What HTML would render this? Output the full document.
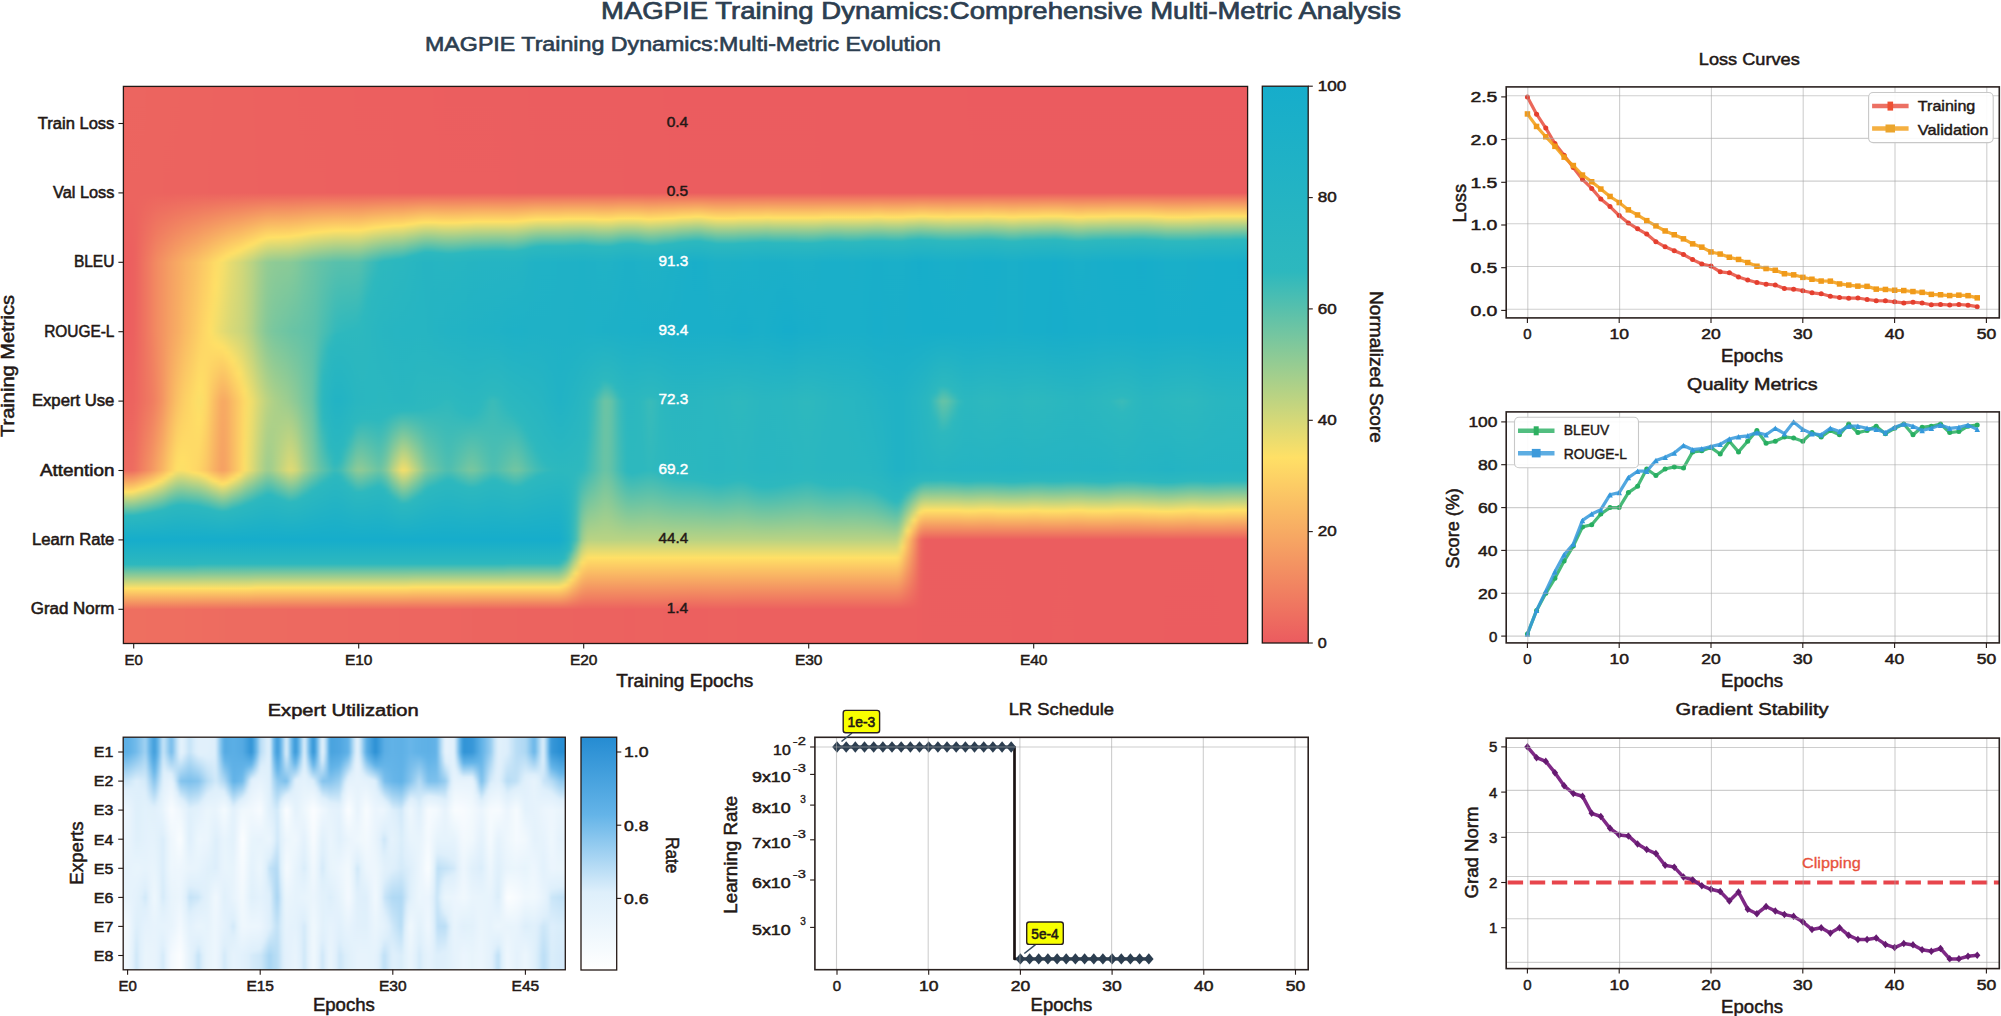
<!DOCTYPE html><html><head><meta charset="utf-8"><title>MAGPIE Training Dynamics</title><style>html,body{margin:0;padding:0;background:#fff}svg{display:block}</style></head><body><svg width="2001" height="1016" viewBox="0 0 2001 1016" font-family='"Liberation Sans", sans-serif'><defs><clipPath id="clipm"><rect x="123.4" y="86.4" width="1124.1999999999998" height="557.1"/></clipPath><filter id="blurm" x="-2%" y="-2%" width="104%" height="104%" color-interpolation-filters="sRGB"><feGaussianBlur stdDeviation="2.53 0"/></filter><linearGradient id="m1" x1="0" y1="0" x2="0" y2="1"><stop offset="0" stop-color="#ec6560"/><stop offset=".191" stop-color="#ec645f"/><stop offset=".316" stop-color="#ec5f5f"/><stop offset=".440" stop-color="#ec5f5f"/><stop offset=".565" stop-color="#ec635f"/><stop offset=".689" stop-color="#ed6b60"/><stop offset=".728" stop-color="#ffe066"/><stop offset=".771" stop-color="#2db8be"/><stop offset=".814" stop-color="#16adcb"/><stop offset=".858" stop-color="#2db8be"/><stop offset=".901" stop-color="#ffe066"/><stop offset=".939" stop-color="#ee6f60"/><stop offset="1" stop-color="#ee6f60"/></linearGradient><linearGradient id="m2" x1="0" y1="0" x2="0" y2="1"><stop offset="0" stop-color="#ec6560"/><stop offset=".191" stop-color="#ec645f"/><stop offset=".316" stop-color="#ec5f5f"/><stop offset=".440" stop-color="#ec5f5f"/><stop offset=".565" stop-color="#ec635f"/><stop offset=".689" stop-color="#ed6b60"/><stop offset=".728" stop-color="#ffe066"/><stop offset=".771" stop-color="#2db8be"/><stop offset=".814" stop-color="#16adcb"/><stop offset=".858" stop-color="#2db8be"/><stop offset=".901" stop-color="#ffe066"/><stop offset=".939" stop-color="#ee6f60"/><stop offset="1" stop-color="#ee6f60"/></linearGradient><linearGradient id="m3" x1="0" y1="0" x2="0" y2="1"><stop offset="0" stop-color="#ec6560"/><stop offset=".191" stop-color="#ec645f"/><stop offset=".316" stop-color="#ec5f5f"/><stop offset=".440" stop-color="#ec5f5f"/><stop offset=".565" stop-color="#ec635f"/><stop offset=".689" stop-color="#ed6b60"/><stop offset=".728" stop-color="#ffe066"/><stop offset=".771" stop-color="#2db8be"/><stop offset=".814" stop-color="#16adcb"/><stop offset=".858" stop-color="#2db8be"/><stop offset=".901" stop-color="#ffe066"/><stop offset=".939" stop-color="#ee6f60"/><stop offset="1" stop-color="#ee6f60"/></linearGradient><linearGradient id="m4" x1="0" y1="0" x2="0" y2="1"><stop offset="0" stop-color="#ec6560"/><stop offset=".191" stop-color="#ec645f"/><stop offset=".316" stop-color="#ec5f5f"/><stop offset=".440" stop-color="#ec5f5f"/><stop offset=".565" stop-color="#ec635f"/><stop offset=".689" stop-color="#ed6b60"/><stop offset=".728" stop-color="#ffe066"/><stop offset=".771" stop-color="#2db8be"/><stop offset=".814" stop-color="#16adcb"/><stop offset=".858" stop-color="#2db8be"/><stop offset=".901" stop-color="#ffe066"/><stop offset=".939" stop-color="#ee6f60"/><stop offset="1" stop-color="#ee6f60"/></linearGradient><linearGradient id="m5" x1="0" y1="0" x2="0" y2="1"><stop offset="0" stop-color="#ec6560"/><stop offset=".191" stop-color="#ec645f"/><stop offset=".565" stop-color="#ed6860"/><stop offset=".689" stop-color="#ef7460"/><stop offset=".725" stop-color="#ffe066"/><stop offset=".770" stop-color="#2db8be"/><stop offset=".814" stop-color="#16adcb"/><stop offset=".858" stop-color="#2db8be"/><stop offset=".901" stop-color="#ffe066"/><stop offset=".939" stop-color="#ee6f60"/><stop offset="1" stop-color="#ee6f60"/></linearGradient><linearGradient id="m6" x1="0" y1="0" x2="0" y2="1"><stop offset="0" stop-color="#ec6560"/><stop offset=".191" stop-color="#ec645f"/><stop offset=".316" stop-color="#ee7160"/><stop offset=".565" stop-color="#ee7060"/><stop offset=".689" stop-color="#f18261"/><stop offset=".722" stop-color="#ffe066"/><stop offset=".768" stop-color="#2db8be"/><stop offset=".814" stop-color="#16adcb"/><stop offset=".858" stop-color="#2db8be"/><stop offset=".901" stop-color="#ffe066"/><stop offset=".939" stop-color="#ee6f60"/><stop offset="1" stop-color="#ee6f60"/></linearGradient><linearGradient id="m7" x1="0" y1="0" x2="0" y2="1"><stop offset="0" stop-color="#ec645f"/><stop offset=".191" stop-color="#ec645f"/><stop offset=".316" stop-color="#f07c61"/><stop offset=".440" stop-color="#f07c61"/><stop offset=".565" stop-color="#ef7861"/><stop offset=".689" stop-color="#f39062"/><stop offset=".718" stop-color="#ffe066"/><stop offset=".766" stop-color="#2db8be"/><stop offset=".814" stop-color="#16adcb"/><stop offset=".858" stop-color="#2db8be"/><stop offset=".901" stop-color="#ffe066"/><stop offset=".939" stop-color="#ee6e60"/><stop offset="1" stop-color="#ee6e60"/></linearGradient><linearGradient id="m8" x1="0" y1="0" x2="0" y2="1"><stop offset="0" stop-color="#ec645f"/><stop offset=".191" stop-color="#ec645f"/><stop offset=".316" stop-color="#f28761"/><stop offset=".440" stop-color="#f28761"/><stop offset=".565" stop-color="#f18061"/><stop offset=".689" stop-color="#f59e63"/><stop offset=".714" stop-color="#ffe066"/><stop offset=".764" stop-color="#2db8be"/><stop offset=".814" stop-color="#16adcb"/><stop offset=".858" stop-color="#2db8be"/><stop offset=".901" stop-color="#ffe066"/><stop offset=".939" stop-color="#ee6e60"/><stop offset="1" stop-color="#ee6e60"/></linearGradient><linearGradient id="m9" x1="0" y1="0" x2="0" y2="1"><stop offset="0" stop-color="#ec645f"/><stop offset=".191" stop-color="#ec645f"/><stop offset=".316" stop-color="#f39062"/><stop offset=".440" stop-color="#f39162"/><stop offset=".565" stop-color="#f38e62"/><stop offset=".689" stop-color="#f8ae63"/><stop offset=".709" stop-color="#ffe066"/><stop offset=".762" stop-color="#2db8be"/><stop offset=".814" stop-color="#16adcb"/><stop offset=".858" stop-color="#2db8be"/><stop offset=".901" stop-color="#ffe066"/><stop offset=".939" stop-color="#ee6e60"/><stop offset="1" stop-color="#ee6e60"/></linearGradient><linearGradient id="m10" x1="0" y1="0" x2="0" y2="1"><stop offset="0" stop-color="#ec645f"/><stop offset=".191" stop-color="#ec635f"/><stop offset=".316" stop-color="#f49862"/><stop offset=".440" stop-color="#f49a62"/><stop offset=".565" stop-color="#f59f63"/><stop offset=".689" stop-color="#fabf64"/><stop offset=".703" stop-color="#ffe066"/><stop offset=".759" stop-color="#2db8be"/><stop offset=".814" stop-color="#16adcb"/><stop offset=".858" stop-color="#2db8be"/><stop offset=".901" stop-color="#ffe066"/><stop offset=".939" stop-color="#ee6e60"/><stop offset="1" stop-color="#ee6e60"/></linearGradient><linearGradient id="m11" x1="0" y1="0" x2="0" y2="1"><stop offset="0" stop-color="#ec645f"/><stop offset=".191" stop-color="#ec635f"/><stop offset=".316" stop-color="#f5a063"/><stop offset=".440" stop-color="#f6a363"/><stop offset=".565" stop-color="#f8b063"/><stop offset=".689" stop-color="#fdd065"/><stop offset=".696" stop-color="#ffe066"/><stop offset=".755" stop-color="#2db8be"/><stop offset=".814" stop-color="#16adcb"/><stop offset=".858" stop-color="#2db8be"/><stop offset=".901" stop-color="#ffe066"/><stop offset=".939" stop-color="#ee6e60"/><stop offset="1" stop-color="#ee6e60"/></linearGradient><linearGradient id="m12" x1="0" y1="0" x2="0" y2="1"><stop offset="0" stop-color="#ec645f"/><stop offset=".191" stop-color="#ec635f"/><stop offset=".316" stop-color="#f7a863"/><stop offset=".440" stop-color="#f7ac63"/><stop offset=".565" stop-color="#fac164"/><stop offset=".685" stop-color="#ffe066"/><stop offset=".689" stop-color="#fde067"/><stop offset=".752" stop-color="#2db8be"/><stop offset=".814" stop-color="#16adcb"/><stop offset=".858" stop-color="#2db8be"/><stop offset=".901" stop-color="#ffe066"/><stop offset=".939" stop-color="#ee6e60"/><stop offset="1" stop-color="#ee6e60"/></linearGradient><linearGradient id="m13" x1="0" y1="0" x2="0" y2="1"><stop offset="0" stop-color="#ec635f"/><stop offset=".191" stop-color="#ec635f"/><stop offset=".316" stop-color="#f8af63"/><stop offset=".440" stop-color="#f9b564"/><stop offset=".672" stop-color="#ffe066"/><stop offset=".689" stop-color="#fadf68"/><stop offset=".751" stop-color="#2db8be"/><stop offset=".814" stop-color="#16adcb"/><stop offset=".858" stop-color="#2db8be"/><stop offset=".901" stop-color="#ffe066"/><stop offset=".939" stop-color="#ee6e60"/><stop offset="1" stop-color="#ee6e60"/></linearGradient><linearGradient id="m14" x1="0" y1="0" x2="0" y2="1"><stop offset="0" stop-color="#ec635f"/><stop offset=".191" stop-color="#ec635f"/><stop offset=".316" stop-color="#f9b664"/><stop offset=".440" stop-color="#fabe64"/><stop offset=".565" stop-color="#fdd465"/><stop offset=".689" stop-color="#ffde66"/><stop offset=".690" stop-color="#ffe066"/><stop offset=".752" stop-color="#2db8be"/><stop offset=".814" stop-color="#16adcb"/><stop offset=".858" stop-color="#2db8be"/><stop offset=".901" stop-color="#ffe066"/><stop offset=".939" stop-color="#ee6d60"/><stop offset="1" stop-color="#ee6d60"/></linearGradient><linearGradient id="m15" x1="0" y1="0" x2="0" y2="1"><stop offset="0" stop-color="#ec635f"/><stop offset=".191" stop-color="#ec635f"/><stop offset=".316" stop-color="#fabd64"/><stop offset=".440" stop-color="#fbc765"/><stop offset=".565" stop-color="#fedc66"/><stop offset=".689" stop-color="#fed966"/><stop offset=".693" stop-color="#ffe066"/><stop offset=".753" stop-color="#2db8be"/><stop offset=".814" stop-color="#16adcb"/><stop offset=".858" stop-color="#2db8be"/><stop offset=".901" stop-color="#ffe066"/><stop offset=".939" stop-color="#ee6d60"/><stop offset="1" stop-color="#ee6d60"/></linearGradient><linearGradient id="m16" x1="0" y1="0" x2="0" y2="1"><stop offset="0" stop-color="#ec635f"/><stop offset=".191" stop-color="#ec635f"/><stop offset=".316" stop-color="#fbc465"/><stop offset=".440" stop-color="#fdd065"/><stop offset=".540" stop-color="#ffe066"/><stop offset=".565" stop-color="#f9df69"/><stop offset=".597" stop-color="#ffe066"/><stop offset=".689" stop-color="#fdd465"/><stop offset=".695" stop-color="#ffe066"/><stop offset=".754" stop-color="#2db8be"/><stop offset=".814" stop-color="#16adcb"/><stop offset=".857" stop-color="#2db8be"/><stop offset=".901" stop-color="#ffe066"/><stop offset=".939" stop-color="#ee6d60"/><stop offset="1" stop-color="#ee6d60"/></linearGradient><linearGradient id="m17" x1="0" y1="0" x2="0" y2="1"><stop offset="0" stop-color="#ec635f"/><stop offset=".191" stop-color="#ec635f"/><stop offset=".316" stop-color="#fccc65"/><stop offset=".440" stop-color="#fed866"/><stop offset=".565" stop-color="#fedb66"/><stop offset=".689" stop-color="#fcc965"/><stop offset=".699" stop-color="#ffe066"/><stop offset=".757" stop-color="#2db8be"/><stop offset=".814" stop-color="#16adcb"/><stop offset=".857" stop-color="#2db8be"/><stop offset=".901" stop-color="#ffe066"/><stop offset=".939" stop-color="#ee6c60"/><stop offset="1" stop-color="#ee6c60"/></linearGradient><linearGradient id="m18" x1="0" y1="0" x2="0" y2="1"><stop offset="0" stop-color="#ec635f"/><stop offset=".191" stop-color="#ec625f"/><stop offset=".316" stop-color="#fdd465"/><stop offset=".440" stop-color="#ffe066"/><stop offset=".565" stop-color="#fcca65"/><stop offset=".689" stop-color="#f9bb64"/><stop offset=".705" stop-color="#ffe066"/><stop offset=".759" stop-color="#2db8be"/><stop offset=".814" stop-color="#16adcb"/><stop offset=".857" stop-color="#2db8be"/><stop offset=".901" stop-color="#ffe066"/><stop offset=".939" stop-color="#ee6c60"/><stop offset="1" stop-color="#ee6c60"/></linearGradient><linearGradient id="m19" x1="0" y1="0" x2="0" y2="1"><stop offset="0" stop-color="#ec625f"/><stop offset=".191" stop-color="#ec625f"/><stop offset=".316" stop-color="#fedc66"/><stop offset=".357" stop-color="#ffe066"/><stop offset=".440" stop-color="#f2de6b"/><stop offset=".462" stop-color="#ffe066"/><stop offset=".565" stop-color="#f9b964"/><stop offset=".689" stop-color="#f7ad63"/><stop offset=".709" stop-color="#ffe066"/><stop offset=".762" stop-color="#2db8be"/><stop offset=".814" stop-color="#16adcb"/><stop offset=".857" stop-color="#2db8be"/><stop offset=".901" stop-color="#ffe066"/><stop offset=".939" stop-color="#ee6c60"/><stop offset="1" stop-color="#ee6c60"/></linearGradient><linearGradient id="m20" x1="0" y1="0" x2="0" y2="1"><stop offset="0" stop-color="#ec625f"/><stop offset=".191" stop-color="#ec625f"/><stop offset=".312" stop-color="#ffe066"/><stop offset=".316" stop-color="#f9df69"/><stop offset=".440" stop-color="#e6db71"/><stop offset=".468" stop-color="#ffe066"/><stop offset=".565" stop-color="#f7a863"/><stop offset=".689" stop-color="#f59f63"/><stop offset=".714" stop-color="#ffe066"/><stop offset=".764" stop-color="#2db8be"/><stop offset=".814" stop-color="#16adcb"/><stop offset=".857" stop-color="#2db8be"/><stop offset=".901" stop-color="#ffe066"/><stop offset=".939" stop-color="#ed6c60"/><stop offset="1" stop-color="#ed6c60"/></linearGradient><linearGradient id="m21" x1="0" y1="0" x2="0" y2="1"><stop offset="0" stop-color="#ec625f"/><stop offset=".191" stop-color="#ec625f"/><stop offset=".305" stop-color="#ffe066"/><stop offset=".316" stop-color="#eddd6d"/><stop offset=".440" stop-color="#dcd975"/><stop offset=".478" stop-color="#ffe066"/><stop offset=".565" stop-color="#f7ad63"/><stop offset=".689" stop-color="#f7a863"/><stop offset=".711" stop-color="#ffe066"/><stop offset=".763" stop-color="#2db8be"/><stop offset=".814" stop-color="#16adcb"/><stop offset=".857" stop-color="#2db8be"/><stop offset=".901" stop-color="#ffe066"/><stop offset=".939" stop-color="#ed6b60"/><stop offset="1" stop-color="#ed6b60"/></linearGradient><linearGradient id="m22" x1="0" y1="0" x2="0" y2="1"><stop offset="0" stop-color="#ec625f"/><stop offset=".191" stop-color="#ec625f"/><stop offset=".300" stop-color="#ffe066"/><stop offset=".316" stop-color="#e2da72"/><stop offset=".440" stop-color="#d4d878"/><stop offset=".493" stop-color="#ffe066"/><stop offset=".565" stop-color="#fabc64"/><stop offset=".689" stop-color="#f9ba64"/><stop offset=".705" stop-color="#ffe066"/><stop offset=".759" stop-color="#2db8be"/><stop offset=".814" stop-color="#16adcb"/><stop offset=".857" stop-color="#2db8be"/><stop offset=".901" stop-color="#ffe066"/><stop offset=".939" stop-color="#ed6b60"/><stop offset="1" stop-color="#ed6b60"/></linearGradient><linearGradient id="m23" x1="0" y1="0" x2="0" y2="1"><stop offset="0" stop-color="#ec625f"/><stop offset=".191" stop-color="#ec625f"/><stop offset=".295" stop-color="#ffe066"/><stop offset=".316" stop-color="#d7d877"/><stop offset=".440" stop-color="#cdd67b"/><stop offset=".515" stop-color="#ffe066"/><stop offset=".565" stop-color="#fccb65"/><stop offset=".689" stop-color="#fccd65"/><stop offset=".698" stop-color="#ffe066"/><stop offset=".756" stop-color="#2db8be"/><stop offset=".814" stop-color="#16adcb"/><stop offset=".857" stop-color="#2db8be"/><stop offset=".901" stop-color="#ffe066"/><stop offset=".939" stop-color="#ed6b60"/><stop offset="1" stop-color="#ed6b60"/></linearGradient><linearGradient id="m24" x1="0" y1="0" x2="0" y2="1"><stop offset="0" stop-color="#ec625f"/><stop offset=".191" stop-color="#ec625f"/><stop offset=".290" stop-color="#ffe066"/><stop offset=".316" stop-color="#ccd67b"/><stop offset=".440" stop-color="#c5d57e"/><stop offset=".547" stop-color="#ffe066"/><stop offset=".565" stop-color="#feda66"/><stop offset=".689" stop-color="#fee066"/><stop offset=".752" stop-color="#2db8be"/><stop offset=".814" stop-color="#16adcb"/><stop offset=".857" stop-color="#2db8be"/><stop offset=".901" stop-color="#ffe066"/><stop offset=".939" stop-color="#ed6b60"/><stop offset="1" stop-color="#ed6b60"/></linearGradient><linearGradient id="m25" x1="0" y1="0" x2="0" y2="1"><stop offset="0" stop-color="#ec625f"/><stop offset=".191" stop-color="#ec625f"/><stop offset=".285" stop-color="#ffe066"/><stop offset=".316" stop-color="#bfd481"/><stop offset=".440" stop-color="#b7d284"/><stop offset=".565" stop-color="#f4de6a"/><stop offset=".689" stop-color="#e5db71"/><stop offset=".748" stop-color="#2db8be"/><stop offset=".814" stop-color="#16adcb"/><stop offset=".857" stop-color="#2db8be"/><stop offset=".901" stop-color="#ffe066"/><stop offset=".939" stop-color="#ed6b60"/><stop offset="1" stop-color="#ed6b60"/></linearGradient><linearGradient id="m26" x1="0" y1="0" x2="0" y2="1"><stop offset="0" stop-color="#ec615f"/><stop offset=".191" stop-color="#ec625f"/><stop offset=".281" stop-color="#ffe066"/><stop offset=".316" stop-color="#b1d187"/><stop offset=".440" stop-color="#a5cf8c"/><stop offset=".565" stop-color="#e2da72"/><stop offset=".689" stop-color="#cdd67b"/><stop offset=".743" stop-color="#2db8be"/><stop offset=".814" stop-color="#16adcb"/><stop offset=".857" stop-color="#2db8be"/><stop offset=".900" stop-color="#ffe066"/><stop offset=".939" stop-color="#ed6b60"/><stop offset="1" stop-color="#ed6b60"/></linearGradient><linearGradient id="m27" x1="0" y1="0" x2="0" y2="1"><stop offset="0" stop-color="#ec615f"/><stop offset=".191" stop-color="#ec615f"/><stop offset=".276" stop-color="#ffe066"/><stop offset=".316" stop-color="#a3ce8d"/><stop offset=".440" stop-color="#94cc93"/><stop offset=".565" stop-color="#cfd77a"/><stop offset=".689" stop-color="#b5d285"/><stop offset=".739" stop-color="#2db8be"/><stop offset=".814" stop-color="#16adcb"/><stop offset=".857" stop-color="#2db8be"/><stop offset=".900" stop-color="#ffe066"/><stop offset=".939" stop-color="#ed6b60"/><stop offset="1" stop-color="#ed6b60"/></linearGradient><linearGradient id="m28" x1="0" y1="0" x2="0" y2="1"><stop offset="0" stop-color="#ec615f"/><stop offset=".191" stop-color="#ec615f"/><stop offset=".272" stop-color="#ffe066"/><stop offset=".316" stop-color="#94cc93"/><stop offset=".440" stop-color="#83c89a"/><stop offset=".565" stop-color="#bcd382"/><stop offset=".689" stop-color="#9ecd8f"/><stop offset=".733" stop-color="#2db8be"/><stop offset=".814" stop-color="#16adcb"/><stop offset=".857" stop-color="#2db8be"/><stop offset=".900" stop-color="#ffe066"/><stop offset=".939" stop-color="#ed6b60"/><stop offset="1" stop-color="#ed6b60"/></linearGradient><linearGradient id="m29" x1="0" y1="0" x2="0" y2="1"><stop offset="0" stop-color="#ec615f"/><stop offset=".191" stop-color="#ec615f"/><stop offset=".271" stop-color="#ffe066"/><stop offset=".316" stop-color="#8fcb95"/><stop offset=".440" stop-color="#7ac79e"/><stop offset=".565" stop-color="#b0d187"/><stop offset=".689" stop-color="#a4cf8c"/><stop offset=".734" stop-color="#2db8be"/><stop offset=".814" stop-color="#16adcb"/><stop offset=".857" stop-color="#2db8be"/><stop offset=".900" stop-color="#ffe066"/><stop offset=".939" stop-color="#ed6a60"/><stop offset="1" stop-color="#ed6a60"/></linearGradient><linearGradient id="m30" x1="0" y1="0" x2="0" y2="1"><stop offset="0" stop-color="#ec615f"/><stop offset=".191" stop-color="#ec615f"/><stop offset=".271" stop-color="#ffe066"/><stop offset=".316" stop-color="#8dca96"/><stop offset=".440" stop-color="#75c6a0"/><stop offset=".565" stop-color="#a8cf8a"/><stop offset=".689" stop-color="#b8d384"/><stop offset=".739" stop-color="#2db8be"/><stop offset=".814" stop-color="#16adcb"/><stop offset=".857" stop-color="#2db8be"/><stop offset=".900" stop-color="#ffe066"/><stop offset=".939" stop-color="#ed6a60"/><stop offset="1" stop-color="#ed6a60"/></linearGradient><linearGradient id="m31" x1="0" y1="0" x2="0" y2="1"><stop offset="0" stop-color="#ec615f"/><stop offset=".191" stop-color="#ec615f"/><stop offset=".270" stop-color="#ffe066"/><stop offset=".316" stop-color="#8bca96"/><stop offset=".440" stop-color="#70c5a2"/><stop offset=".565" stop-color="#a0ce8e"/><stop offset=".689" stop-color="#cdd67b"/><stop offset=".743" stop-color="#2db8be"/><stop offset=".814" stop-color="#16adcb"/><stop offset=".857" stop-color="#2db8be"/><stop offset=".900" stop-color="#ffe066"/><stop offset=".939" stop-color="#ed6a60"/><stop offset="1" stop-color="#ed6a60"/></linearGradient><linearGradient id="m32" x1="0" y1="0" x2="0" y2="1"><stop offset="0" stop-color="#ec615f"/><stop offset=".191" stop-color="#ec615f"/><stop offset=".270" stop-color="#ffe066"/><stop offset=".316" stop-color="#8aca97"/><stop offset=".440" stop-color="#6bc4a4"/><stop offset=".565" stop-color="#99cc91"/><stop offset=".689" stop-color="#e1da73"/><stop offset=".747" stop-color="#2db8be"/><stop offset=".814" stop-color="#16adcb"/><stop offset=".857" stop-color="#2db8be"/><stop offset=".900" stop-color="#ffe066"/><stop offset=".939" stop-color="#ed6960"/><stop offset="1" stop-color="#ed6960"/></linearGradient><linearGradient id="m33" x1="0" y1="0" x2="0" y2="1"><stop offset="0" stop-color="#ec615f"/><stop offset=".191" stop-color="#ec615f"/><stop offset=".268" stop-color="#ffe066"/><stop offset=".316" stop-color="#84c999"/><stop offset=".440" stop-color="#68c3a5"/><stop offset=".565" stop-color="#8eca96"/><stop offset=".689" stop-color="#d6d877"/><stop offset=".745" stop-color="#2db8be"/><stop offset=".814" stop-color="#16adcb"/><stop offset=".857" stop-color="#2db8be"/><stop offset=".900" stop-color="#ffe066"/><stop offset=".939" stop-color="#ed6960"/><stop offset="1" stop-color="#ed6960"/></linearGradient><linearGradient id="m34" x1="0" y1="0" x2="0" y2="1"><stop offset="0" stop-color="#ec605f"/><stop offset=".191" stop-color="#ec615f"/><stop offset=".267" stop-color="#ffe066"/><stop offset=".316" stop-color="#7cc79d"/><stop offset=".440" stop-color="#65c3a7"/><stop offset=".565" stop-color="#81c89b"/><stop offset=".689" stop-color="#bbd382"/><stop offset=".740" stop-color="#2db8be"/><stop offset=".814" stop-color="#16adcb"/><stop offset=".857" stop-color="#2db8be"/><stop offset=".900" stop-color="#ffe066"/><stop offset=".939" stop-color="#ed6960"/><stop offset="1" stop-color="#ed6960"/></linearGradient><linearGradient id="m35" x1="0" y1="0" x2="0" y2="1"><stop offset="0" stop-color="#ec605f"/><stop offset=".191" stop-color="#ec615f"/><stop offset=".265" stop-color="#ffe066"/><stop offset=".316" stop-color="#74c6a0"/><stop offset=".440" stop-color="#61c2a8"/><stop offset=".565" stop-color="#74c6a0"/><stop offset=".689" stop-color="#a0ce8e"/><stop offset=".734" stop-color="#2db8be"/><stop offset=".814" stop-color="#16adcb"/><stop offset=".857" stop-color="#2db8be"/><stop offset=".900" stop-color="#ffe066"/><stop offset=".939" stop-color="#ed6960"/><stop offset="1" stop-color="#ed6960"/></linearGradient><linearGradient id="m36" x1="0" y1="0" x2="0" y2="1"><stop offset="0" stop-color="#ec605f"/><stop offset=".191" stop-color="#ec615f"/><stop offset=".263" stop-color="#ffe066"/><stop offset=".316" stop-color="#6dc4a3"/><stop offset=".440" stop-color="#5ec1a9"/><stop offset=".565" stop-color="#68c3a5"/><stop offset=".689" stop-color="#86c999"/><stop offset=".726" stop-color="#2db8be"/><stop offset=".814" stop-color="#16adcb"/><stop offset=".857" stop-color="#2db8be"/><stop offset=".900" stop-color="#ffe066"/><stop offset=".939" stop-color="#ed6960"/><stop offset="1" stop-color="#ed6960"/></linearGradient><linearGradient id="m37" x1="0" y1="0" x2="0" y2="1"><stop offset="0" stop-color="#ec605f"/><stop offset=".191" stop-color="#ec615f"/><stop offset=".262" stop-color="#ffe066"/><stop offset=".316" stop-color="#67c3a6"/><stop offset=".565" stop-color="#47bdb3"/><stop offset=".689" stop-color="#70c5a2"/><stop offset=".720" stop-color="#2db8be"/><stop offset=".814" stop-color="#16adcb"/><stop offset=".857" stop-color="#2db8be"/><stop offset=".900" stop-color="#ffe066"/><stop offset=".939" stop-color="#ed6960"/><stop offset="1" stop-color="#ed6960"/></linearGradient><linearGradient id="m38" x1="0" y1="0" x2="0" y2="1"><stop offset="0" stop-color="#ec605f"/><stop offset=".191" stop-color="#ec615f"/><stop offset=".261" stop-color="#ffe066"/><stop offset=".316" stop-color="#62c2a8"/><stop offset=".440" stop-color="#4bbeb1"/><stop offset=".521" stop-color="#2db8be"/><stop offset=".565" stop-color="#2bb7bf"/><stop offset=".596" stop-color="#2db8be"/><stop offset=".689" stop-color="#5dc1aa"/><stop offset=".713" stop-color="#2db8be"/><stop offset=".814" stop-color="#16adcb"/><stop offset=".857" stop-color="#2db8be"/><stop offset=".900" stop-color="#ffe066"/><stop offset=".939" stop-color="#ed6860"/><stop offset="1" stop-color="#ed6860"/></linearGradient><linearGradient id="m39" x1="0" y1="0" x2="0" y2="1"><stop offset="0" stop-color="#ec605f"/><stop offset=".191" stop-color="#ec605f"/><stop offset=".260" stop-color="#ffe066"/><stop offset=".316" stop-color="#5dc1aa"/><stop offset=".440" stop-color="#40bcb6"/><stop offset=".471" stop-color="#2db8be"/><stop offset=".565" stop-color="#27b5c2"/><stop offset=".648" stop-color="#2db8be"/><stop offset=".689" stop-color="#4abeb2"/><stop offset=".705" stop-color="#2db8be"/><stop offset=".814" stop-color="#16adcb"/><stop offset=".857" stop-color="#2db8be"/><stop offset=".900" stop-color="#ffe066"/><stop offset=".939" stop-color="#ed6860"/><stop offset="1" stop-color="#ed6860"/></linearGradient><linearGradient id="m40" x1="0" y1="0" x2="0" y2="1"><stop offset="0" stop-color="#ec605f"/><stop offset=".191" stop-color="#ec605f"/><stop offset=".259" stop-color="#ffe066"/><stop offset=".316" stop-color="#59c0ac"/><stop offset=".440" stop-color="#35b9bb"/><stop offset=".449" stop-color="#2db8be"/><stop offset=".565" stop-color="#22b3c4"/><stop offset=".678" stop-color="#2db8be"/><stop offset=".689" stop-color="#37baba"/><stop offset=".695" stop-color="#2db8be"/><stop offset=".814" stop-color="#16adcb"/><stop offset=".857" stop-color="#2db8be"/><stop offset=".900" stop-color="#ffe066"/><stop offset=".939" stop-color="#ed6860"/><stop offset="1" stop-color="#ed6860"/></linearGradient><linearGradient id="m41" x1="0" y1="0" x2="0" y2="1"><stop offset="0" stop-color="#ec605f"/><stop offset=".191" stop-color="#ec605f"/><stop offset=".259" stop-color="#ffe066"/><stop offset=".316" stop-color="#57c0ac"/><stop offset=".440" stop-color="#30b9bd"/><stop offset=".444" stop-color="#2db8be"/><stop offset=".565" stop-color="#22b3c4"/><stop offset=".668" stop-color="#2db8be"/><stop offset=".689" stop-color="#42bcb5"/><stop offset=".701" stop-color="#2db8be"/><stop offset=".814" stop-color="#16adcb"/><stop offset=".857" stop-color="#2db8be"/><stop offset=".900" stop-color="#ffe066"/><stop offset=".939" stop-color="#ed6860"/><stop offset="1" stop-color="#ed6860"/></linearGradient><linearGradient id="m42" x1="0" y1="0" x2="0" y2="1"><stop offset="0" stop-color="#ec605f"/><stop offset=".191" stop-color="#ec605f"/><stop offset=".259" stop-color="#ffe066"/><stop offset=".316" stop-color="#57c0ac"/><stop offset=".443" stop-color="#2db8be"/><stop offset=".565" stop-color="#24b4c3"/><stop offset=".644" stop-color="#2db8be"/><stop offset=".689" stop-color="#5bc1ab"/><stop offset=".712" stop-color="#2db8be"/><stop offset=".814" stop-color="#16adcb"/><stop offset=".857" stop-color="#2db8be"/><stop offset=".900" stop-color="#ffe066"/><stop offset=".939" stop-color="#ed6860"/><stop offset="1" stop-color="#ed6860"/></linearGradient><linearGradient id="m43" x1="0" y1="0" x2="0" y2="1"><stop offset="0" stop-color="#ec605f"/><stop offset=".191" stop-color="#ec605f"/><stop offset=".259" stop-color="#ffe066"/><stop offset=".316" stop-color="#57c0ac"/><stop offset=".440" stop-color="#2db8be"/><stop offset=".565" stop-color="#26b5c2"/><stop offset=".622" stop-color="#2db8be"/><stop offset=".689" stop-color="#74c6a0"/><stop offset=".721" stop-color="#2db8be"/><stop offset=".814" stop-color="#16adcb"/><stop offset=".857" stop-color="#2db8be"/><stop offset=".900" stop-color="#ffe066"/><stop offset=".939" stop-color="#ed6760"/><stop offset="1" stop-color="#ed6760"/></linearGradient><linearGradient id="m44" x1="0" y1="0" x2="0" y2="1"><stop offset="0" stop-color="#ec5f5f"/><stop offset=".191" stop-color="#ec605f"/><stop offset=".259" stop-color="#ffe066"/><stop offset=".316" stop-color="#57c0ac"/><stop offset=".436" stop-color="#2db8be"/><stop offset=".565" stop-color="#29b6c0"/><stop offset=".602" stop-color="#2db8be"/><stop offset=".689" stop-color="#8eca95"/><stop offset=".729" stop-color="#2db8be"/><stop offset=".814" stop-color="#16adcb"/><stop offset=".857" stop-color="#2db8be"/><stop offset=".900" stop-color="#ffe066"/><stop offset=".939" stop-color="#ed6760"/><stop offset="1" stop-color="#ed6760"/></linearGradient><linearGradient id="m45" x1="0" y1="0" x2="0" y2="1"><stop offset="0" stop-color="#ec5f5f"/><stop offset=".191" stop-color="#ec605f"/><stop offset=".258" stop-color="#ffe066"/><stop offset=".316" stop-color="#50bfaf"/><stop offset=".414" stop-color="#2db8be"/><stop offset=".565" stop-color="#2ab6c0"/><stop offset=".596" stop-color="#2db8be"/><stop offset=".689" stop-color="#8eca96"/><stop offset=".729" stop-color="#2db8be"/><stop offset=".814" stop-color="#16adcb"/><stop offset=".857" stop-color="#2db8be"/><stop offset=".900" stop-color="#ffe066"/><stop offset=".939" stop-color="#ed6760"/><stop offset="1" stop-color="#ed6760"/></linearGradient><linearGradient id="m46" x1="0" y1="0" x2="0" y2="1"><stop offset="0" stop-color="#ec5f5f"/><stop offset=".191" stop-color="#ec605f"/><stop offset=".256" stop-color="#ffe066"/><stop offset=".316" stop-color="#45bcb4"/><stop offset=".382" stop-color="#2db8be"/><stop offset=".440" stop-color="#2bb7bf"/><stop offset=".565" stop-color="#2ab7c0"/><stop offset=".596" stop-color="#2db8be"/><stop offset=".689" stop-color="#81c89b"/><stop offset=".725" stop-color="#2db8be"/><stop offset=".814" stop-color="#16adcb"/><stop offset=".857" stop-color="#2db8be"/><stop offset=".900" stop-color="#ffe066"/><stop offset=".939" stop-color="#ed6760"/><stop offset="1" stop-color="#ed6760"/></linearGradient><linearGradient id="m47" x1="0" y1="0" x2="0" y2="1"><stop offset="0" stop-color="#ec5f5f"/><stop offset=".191" stop-color="#ec605f"/><stop offset=".254" stop-color="#ffe066"/><stop offset=".316" stop-color="#3abab9"/><stop offset=".351" stop-color="#2db8be"/><stop offset=".440" stop-color="#2ab6c0"/><stop offset=".565" stop-color="#2ab7c0"/><stop offset=".597" stop-color="#2db8be"/><stop offset=".689" stop-color="#74c6a0"/><stop offset=".721" stop-color="#2db8be"/><stop offset=".814" stop-color="#16adcb"/><stop offset=".857" stop-color="#2db8be"/><stop offset=".900" stop-color="#ffe066"/><stop offset=".939" stop-color="#ed6760"/><stop offset="1" stop-color="#ed6760"/></linearGradient><linearGradient id="m48" x1="0" y1="0" x2="0" y2="1"><stop offset="0" stop-color="#ec5f5f"/><stop offset=".191" stop-color="#ec605f"/><stop offset=".253" stop-color="#ffe066"/><stop offset=".316" stop-color="#2fb8bd"/><stop offset=".320" stop-color="#2db8be"/><stop offset=".440" stop-color="#28b6c1"/><stop offset=".565" stop-color="#2bb7bf"/><stop offset=".599" stop-color="#2db8be"/><stop offset=".689" stop-color="#68c3a5"/><stop offset=".717" stop-color="#2db8be"/><stop offset=".814" stop-color="#16adcb"/><stop offset=".857" stop-color="#2db8be"/><stop offset=".900" stop-color="#ffe066"/><stop offset=".939" stop-color="#ed6760"/><stop offset="1" stop-color="#ed6760"/></linearGradient><linearGradient id="m49" x1="0" y1="0" x2="0" y2="1"><stop offset="0" stop-color="#ec5f5f"/><stop offset=".191" stop-color="#ec605f"/><stop offset=".252" stop-color="#ffe066"/><stop offset=".314" stop-color="#2db8be"/><stop offset=".440" stop-color="#28b5c1"/><stop offset=".565" stop-color="#2ab7bf"/><stop offset=".593" stop-color="#2db8be"/><stop offset=".689" stop-color="#7ec79c"/><stop offset=".724" stop-color="#2db8be"/><stop offset=".814" stop-color="#16adcb"/><stop offset=".857" stop-color="#2db8be"/><stop offset=".900" stop-color="#ffe066"/><stop offset=".939" stop-color="#ed6760"/><stop offset="1" stop-color="#ed6760"/></linearGradient><linearGradient id="m50" x1="0" y1="0" x2="0" y2="1"><stop offset="0" stop-color="#ec5f5f"/><stop offset=".191" stop-color="#ec605f"/><stop offset=".251" stop-color="#ffe066"/><stop offset=".313" stop-color="#2db8be"/><stop offset=".440" stop-color="#27b5c1"/><stop offset=".565" stop-color="#2ab7c0"/><stop offset=".587" stop-color="#2db8be"/><stop offset=".689" stop-color="#a5cf8c"/><stop offset=".735" stop-color="#2db8be"/><stop offset=".814" stop-color="#16adcb"/><stop offset=".857" stop-color="#2db8be"/><stop offset=".900" stop-color="#ffe066"/><stop offset=".939" stop-color="#ed6760"/><stop offset="1" stop-color="#ed6760"/></linearGradient><linearGradient id="m51" x1="0" y1="0" x2="0" y2="1"><stop offset="0" stop-color="#ec5f5f"/><stop offset=".191" stop-color="#ec605f"/><stop offset=".250" stop-color="#ffe066"/><stop offset=".311" stop-color="#2db8be"/><stop offset=".316" stop-color="#2bb7bf"/><stop offset=".440" stop-color="#27b5c2"/><stop offset=".565" stop-color="#2ab6c0"/><stop offset=".584" stop-color="#2db8be"/><stop offset=".689" stop-color="#cdd67b"/><stop offset=".743" stop-color="#2db8be"/><stop offset=".814" stop-color="#16adcb"/><stop offset=".857" stop-color="#2db8be"/><stop offset=".900" stop-color="#ffe066"/><stop offset=".939" stop-color="#ed6760"/><stop offset="1" stop-color="#ed6760"/></linearGradient><linearGradient id="m52" x1="0" y1="0" x2="0" y2="1"><stop offset="0" stop-color="#ec5f5f"/><stop offset=".191" stop-color="#ec5f5f"/><stop offset=".250" stop-color="#ffe066"/><stop offset=".310" stop-color="#2db8be"/><stop offset=".316" stop-color="#2bb7bf"/><stop offset=".440" stop-color="#26b5c2"/><stop offset=".565" stop-color="#29b6c0"/><stop offset=".582" stop-color="#2db8be"/><stop offset=".689" stop-color="#f4de6b"/><stop offset=".750" stop-color="#2db8be"/><stop offset=".814" stop-color="#16adcb"/><stop offset=".857" stop-color="#2db8be"/><stop offset=".900" stop-color="#ffe066"/><stop offset=".939" stop-color="#ed6660"/><stop offset="1" stop-color="#ed6660"/></linearGradient><linearGradient id="m53" x1="0" y1="0" x2="0" y2="1"><stop offset="0" stop-color="#ec5f5f"/><stop offset=".191" stop-color="#ec5f5f"/><stop offset=".248" stop-color="#ffe066"/><stop offset=".307" stop-color="#2db8be"/><stop offset=".316" stop-color="#2ab6c0"/><stop offset=".440" stop-color="#26b5c2"/><stop offset=".565" stop-color="#2ab6c0"/><stop offset=".582" stop-color="#2db8be"/><stop offset=".689" stop-color="#ebdc6e"/><stop offset=".749" stop-color="#2db8be"/><stop offset=".814" stop-color="#16adcb"/><stop offset=".857" stop-color="#2db8be"/><stop offset=".900" stop-color="#ffe066"/><stop offset=".939" stop-color="#ed6660"/><stop offset="1" stop-color="#ed6660"/></linearGradient><linearGradient id="m54" x1="0" y1="0" x2="0" y2="1"><stop offset="0" stop-color="#ec5f5f"/><stop offset=".191" stop-color="#ec5f5f"/><stop offset=".247" stop-color="#ffe066"/><stop offset=".304" stop-color="#2db8be"/><stop offset=".316" stop-color="#28b6c1"/><stop offset=".440" stop-color="#26b5c2"/><stop offset=".565" stop-color="#2ab7bf"/><stop offset=".581" stop-color="#2db8be"/><stop offset=".689" stop-color="#cad67c"/><stop offset=".743" stop-color="#2db8be"/><stop offset=".814" stop-color="#16adcb"/><stop offset=".857" stop-color="#2db8be"/><stop offset=".899" stop-color="#ffe066"/><stop offset=".939" stop-color="#ed6660"/><stop offset="1" stop-color="#ed6660"/></linearGradient><linearGradient id="m55" x1="0" y1="0" x2="0" y2="1"><stop offset="0" stop-color="#ec5f5f"/><stop offset=".191" stop-color="#ec5f5f"/><stop offset=".245" stop-color="#ffe066"/><stop offset=".301" stop-color="#2db8be"/><stop offset=".316" stop-color="#27b5c1"/><stop offset=".440" stop-color="#26b5c2"/><stop offset=".580" stop-color="#2db8be"/><stop offset=".689" stop-color="#a9d08a"/><stop offset=".736" stop-color="#2db8be"/><stop offset=".814" stop-color="#16adcb"/><stop offset=".857" stop-color="#2db8be"/><stop offset=".899" stop-color="#ffe066"/><stop offset=".939" stop-color="#ed6660"/><stop offset="1" stop-color="#ed6660"/></linearGradient><linearGradient id="m56" x1="0" y1="0" x2="0" y2="1"><stop offset="0" stop-color="#ec5f5f"/><stop offset=".191" stop-color="#ec5f5f"/><stop offset=".244" stop-color="#ffe066"/><stop offset=".298" stop-color="#2db8be"/><stop offset=".316" stop-color="#26b4c2"/><stop offset=".440" stop-color="#26b5c2"/><stop offset=".578" stop-color="#2db8be"/><stop offset=".689" stop-color="#88c998"/><stop offset=".727" stop-color="#2db8be"/><stop offset=".814" stop-color="#16adcb"/><stop offset=".857" stop-color="#2db8be"/><stop offset=".899" stop-color="#ffe066"/><stop offset=".939" stop-color="#ed6660"/><stop offset="1" stop-color="#ed6660"/></linearGradient><linearGradient id="m57" x1="0" y1="0" x2="0" y2="1"><stop offset="0" stop-color="#ec5f5f"/><stop offset=".191" stop-color="#ec5f5f"/><stop offset=".244" stop-color="#ffe066"/><stop offset=".298" stop-color="#2db8be"/><stop offset=".316" stop-color="#26b4c2"/><stop offset=".440" stop-color="#25b4c2"/><stop offset=".575" stop-color="#2db8be"/><stop offset=".689" stop-color="#74c6a0"/><stop offset=".721" stop-color="#2db8be"/><stop offset=".814" stop-color="#16adcb"/><stop offset=".857" stop-color="#2db8be"/><stop offset=".899" stop-color="#ffe066"/><stop offset=".939" stop-color="#ed6660"/><stop offset="1" stop-color="#ed6660"/></linearGradient><linearGradient id="m58" x1="0" y1="0" x2="0" y2="1"><stop offset="0" stop-color="#ec5e5f"/><stop offset=".191" stop-color="#ec5f5f"/><stop offset=".244" stop-color="#ffe066"/><stop offset=".299" stop-color="#2db8be"/><stop offset=".316" stop-color="#26b5c2"/><stop offset=".440" stop-color="#24b4c3"/><stop offset=".571" stop-color="#2db8be"/><stop offset=".689" stop-color="#68c3a5"/><stop offset=".717" stop-color="#2db8be"/><stop offset=".814" stop-color="#16adcb"/><stop offset=".857" stop-color="#2db8be"/><stop offset=".899" stop-color="#ffe066"/><stop offset=".939" stop-color="#ed6660"/><stop offset="1" stop-color="#ed6660"/></linearGradient><linearGradient id="m59" x1="0" y1="0" x2="0" y2="1"><stop offset="0" stop-color="#ec5e5f"/><stop offset=".191" stop-color="#ec5f5f"/><stop offset=".245" stop-color="#ffe066"/><stop offset=".300" stop-color="#2db8be"/><stop offset=".316" stop-color="#27b5c2"/><stop offset=".440" stop-color="#24b3c3"/><stop offset=".565" stop-color="#2db8be"/><stop offset=".689" stop-color="#5bc1ab"/><stop offset=".712" stop-color="#2db8be"/><stop offset=".814" stop-color="#16adcb"/><stop offset=".857" stop-color="#2db8be"/><stop offset=".899" stop-color="#ffe066"/><stop offset=".939" stop-color="#ed6660"/><stop offset="1" stop-color="#ed6660"/></linearGradient><linearGradient id="m60" x1="0" y1="0" x2="0" y2="1"><stop offset="0" stop-color="#eb5e5f"/><stop offset=".191" stop-color="#ec5f5f"/><stop offset=".245" stop-color="#ffe066"/><stop offset=".301" stop-color="#2db8be"/><stop offset=".316" stop-color="#27b5c1"/><stop offset=".440" stop-color="#23b3c4"/><stop offset=".561" stop-color="#2db8be"/><stop offset=".565" stop-color="#30b9bd"/><stop offset=".689" stop-color="#4fbeb0"/><stop offset=".707" stop-color="#2db8be"/><stop offset=".814" stop-color="#16adcb"/><stop offset=".857" stop-color="#2db8be"/><stop offset=".899" stop-color="#ffe066"/><stop offset=".939" stop-color="#ed6660"/><stop offset="1" stop-color="#ed6660"/></linearGradient><linearGradient id="m61" x1="0" y1="0" x2="0" y2="1"><stop offset="0" stop-color="#eb5e5f"/><stop offset=".191" stop-color="#ec5f5f"/><stop offset=".245" stop-color="#ffe066"/><stop offset=".301" stop-color="#2db8be"/><stop offset=".316" stop-color="#27b5c1"/><stop offset=".440" stop-color="#22b3c4"/><stop offset=".565" stop-color="#2db8be"/><stop offset=".689" stop-color="#53bfae"/><stop offset=".708" stop-color="#2db8be"/><stop offset=".814" stop-color="#16adcb"/><stop offset=".857" stop-color="#2db8be"/><stop offset=".899" stop-color="#ffe066"/><stop offset=".939" stop-color="#ed6560"/><stop offset="1" stop-color="#ed6560"/></linearGradient><linearGradient id="m62" x1="0" y1="0" x2="0" y2="1"><stop offset="0" stop-color="#eb5e5f"/><stop offset=".191" stop-color="#ec5f5f"/><stop offset=".245" stop-color="#ffe066"/><stop offset=".300" stop-color="#2db8be"/><stop offset=".316" stop-color="#26b5c2"/><stop offset=".440" stop-color="#22b3c4"/><stop offset=".579" stop-color="#2db8be"/><stop offset=".689" stop-color="#5fc2a9"/><stop offset=".714" stop-color="#2db8be"/><stop offset=".814" stop-color="#16adcb"/><stop offset=".857" stop-color="#2db8be"/><stop offset=".899" stop-color="#ffe066"/><stop offset=".939" stop-color="#ed6560"/><stop offset="1" stop-color="#ed6560"/></linearGradient><linearGradient id="m63" x1="0" y1="0" x2="0" y2="1"><stop offset="0" stop-color="#eb5e5f"/><stop offset=".191" stop-color="#ec5f5f"/><stop offset=".244" stop-color="#ffe066"/><stop offset=".299" stop-color="#2db8be"/><stop offset=".316" stop-color="#26b5c2"/><stop offset=".440" stop-color="#22b3c4"/><stop offset=".586" stop-color="#2db8be"/><stop offset=".689" stop-color="#6cc4a4"/><stop offset=".718" stop-color="#2db8be"/><stop offset=".814" stop-color="#16adcb"/><stop offset=".857" stop-color="#2db8be"/><stop offset=".899" stop-color="#ffe066"/><stop offset=".939" stop-color="#ec6560"/><stop offset="1" stop-color="#ec6560"/></linearGradient><linearGradient id="m64" x1="0" y1="0" x2="0" y2="1"><stop offset="0" stop-color="#eb5e5f"/><stop offset=".191" stop-color="#ec5f5f"/><stop offset=".244" stop-color="#ffe066"/><stop offset=".298" stop-color="#2db8be"/><stop offset=".316" stop-color="#25b4c2"/><stop offset=".440" stop-color="#21b2c5"/><stop offset=".590" stop-color="#2db8be"/><stop offset=".689" stop-color="#79c69e"/><stop offset=".722" stop-color="#2db8be"/><stop offset=".814" stop-color="#16adcb"/><stop offset=".857" stop-color="#2db8be"/><stop offset=".899" stop-color="#ffe066"/><stop offset=".939" stop-color="#ec6560"/><stop offset="1" stop-color="#ec6560"/></linearGradient><linearGradient id="m65" x1="0" y1="0" x2="0" y2="1"><stop offset="0" stop-color="#eb5e5f"/><stop offset=".191" stop-color="#ec5f5f"/><stop offset=".243" stop-color="#ffe066"/><stop offset=".297" stop-color="#2db8be"/><stop offset=".316" stop-color="#25b4c2"/><stop offset=".440" stop-color="#21b2c5"/><stop offset=".586" stop-color="#2db8be"/><stop offset=".689" stop-color="#74c6a0"/><stop offset=".721" stop-color="#2db8be"/><stop offset=".814" stop-color="#16adcb"/><stop offset=".857" stop-color="#2db8be"/><stop offset=".899" stop-color="#ffe066"/><stop offset=".939" stop-color="#ec645f"/><stop offset="1" stop-color="#ec645f"/></linearGradient><linearGradient id="m66" x1="0" y1="0" x2="0" y2="1"><stop offset="0" stop-color="#eb5e5f"/><stop offset=".191" stop-color="#ec5f5f"/><stop offset=".243" stop-color="#ffe066"/><stop offset=".297" stop-color="#2db8be"/><stop offset=".316" stop-color="#25b4c3"/><stop offset=".440" stop-color="#21b2c5"/><stop offset=".575" stop-color="#2db8be"/><stop offset=".689" stop-color="#68c3a5"/><stop offset=".717" stop-color="#2db8be"/><stop offset=".814" stop-color="#16adcb"/><stop offset=".857" stop-color="#2db8be"/><stop offset=".899" stop-color="#ffe066"/><stop offset=".939" stop-color="#ec645f"/><stop offset="1" stop-color="#ec645f"/></linearGradient><linearGradient id="m67" x1="0" y1="0" x2="0" y2="1"><stop offset="0" stop-color="#eb5e5f"/><stop offset=".191" stop-color="#ec5f5f"/><stop offset=".243" stop-color="#ffe066"/><stop offset=".297" stop-color="#2db8be"/><stop offset=".316" stop-color="#25b4c3"/><stop offset=".440" stop-color="#20b2c5"/><stop offset=".560" stop-color="#2db8be"/><stop offset=".565" stop-color="#31b9bc"/><stop offset=".689" stop-color="#5bc1ab"/><stop offset=".712" stop-color="#2db8be"/><stop offset=".814" stop-color="#16adcb"/><stop offset=".857" stop-color="#2db8be"/><stop offset=".899" stop-color="#ffe066"/><stop offset=".939" stop-color="#ec645f"/><stop offset="1" stop-color="#ec645f"/></linearGradient><linearGradient id="m68" x1="0" y1="0" x2="0" y2="1"><stop offset="0" stop-color="#eb5e5f"/><stop offset=".191" stop-color="#ec5f5f"/><stop offset=".243" stop-color="#ffe066"/><stop offset=".296" stop-color="#2db8be"/><stop offset=".316" stop-color="#25b4c3"/><stop offset=".440" stop-color="#20b2c5"/><stop offset=".552" stop-color="#2db8be"/><stop offset=".565" stop-color="#3bbbb8"/><stop offset=".689" stop-color="#4fbeb0"/><stop offset=".707" stop-color="#2db8be"/><stop offset=".814" stop-color="#16adcb"/><stop offset=".857" stop-color="#2db8be"/><stop offset=".899" stop-color="#ffe066"/><stop offset=".939" stop-color="#ec645f"/><stop offset="1" stop-color="#ec645f"/></linearGradient><linearGradient id="m69" x1="0" y1="0" x2="0" y2="1"><stop offset="0" stop-color="#eb5e5f"/><stop offset=".191" stop-color="#ec5f5f"/><stop offset=".243" stop-color="#ffe066"/><stop offset=".296" stop-color="#2db8be"/><stop offset=".316" stop-color="#25b4c3"/><stop offset=".440" stop-color="#20b2c6"/><stop offset=".555" stop-color="#2db8be"/><stop offset=".565" stop-color="#37baba"/><stop offset=".689" stop-color="#52bfaf"/><stop offset=".708" stop-color="#2db8be"/><stop offset=".814" stop-color="#16adcb"/><stop offset=".857" stop-color="#2db8be"/><stop offset=".899" stop-color="#ffe066"/><stop offset=".939" stop-color="#ec645f"/><stop offset="1" stop-color="#ec645f"/></linearGradient><linearGradient id="m70" x1="0" y1="0" x2="0" y2="1"><stop offset="0" stop-color="#eb5e5f"/><stop offset=".191" stop-color="#ec5e5f"/><stop offset=".243" stop-color="#ffe066"/><stop offset=".296" stop-color="#2db8be"/><stop offset=".316" stop-color="#25b4c3"/><stop offset=".440" stop-color="#1fb1c6"/><stop offset=".565" stop-color="#2eb8be"/><stop offset=".689" stop-color="#5dc1aa"/><stop offset=".713" stop-color="#2db8be"/><stop offset=".814" stop-color="#16adcb"/><stop offset=".857" stop-color="#2db8be"/><stop offset=".899" stop-color="#ffe066"/><stop offset=".939" stop-color="#ec645f"/><stop offset="1" stop-color="#ec645f"/></linearGradient><linearGradient id="m71" x1="0" y1="0" x2="0" y2="1"><stop offset="0" stop-color="#eb5e5f"/><stop offset=".191" stop-color="#ec5e5f"/><stop offset=".243" stop-color="#ffe066"/><stop offset=".297" stop-color="#2db8be"/><stop offset=".316" stop-color="#25b4c3"/><stop offset=".440" stop-color="#1eb1c6"/><stop offset=".580" stop-color="#2db8be"/><stop offset=".689" stop-color="#68c3a5"/><stop offset=".717" stop-color="#2db8be"/><stop offset=".814" stop-color="#16adcb"/><stop offset=".856" stop-color="#2db8be"/><stop offset=".899" stop-color="#ffe066"/><stop offset=".939" stop-color="#ec645f"/><stop offset="1" stop-color="#ec645f"/></linearGradient><linearGradient id="m72" x1="0" y1="0" x2="0" y2="1"><stop offset="0" stop-color="#eb5e5f"/><stop offset=".191" stop-color="#ec5e5f"/><stop offset=".243" stop-color="#ffe066"/><stop offset=".297" stop-color="#2db8be"/><stop offset=".316" stop-color="#25b4c3"/><stop offset=".440" stop-color="#1eb1c7"/><stop offset=".590" stop-color="#2db8be"/><stop offset=".689" stop-color="#73c5a1"/><stop offset=".721" stop-color="#2db8be"/><stop offset=".814" stop-color="#16adcb"/><stop offset=".856" stop-color="#2db8be"/><stop offset=".899" stop-color="#ffe066"/><stop offset=".939" stop-color="#ec645f"/><stop offset="1" stop-color="#ec645f"/></linearGradient><linearGradient id="m73" x1="0" y1="0" x2="0" y2="1"><stop offset="0" stop-color="#eb5e5f"/><stop offset=".191" stop-color="#eb5e5f"/><stop offset=".242" stop-color="#ffe066"/><stop offset=".295" stop-color="#2db8be"/><stop offset=".316" stop-color="#24b4c3"/><stop offset=".440" stop-color="#1eb1c7"/><stop offset=".601" stop-color="#2db8be"/><stop offset=".689" stop-color="#6dc4a3"/><stop offset=".719" stop-color="#2db8be"/><stop offset=".814" stop-color="#16adcb"/><stop offset=".856" stop-color="#2db8be"/><stop offset=".899" stop-color="#ffe066"/><stop offset=".939" stop-color="#ec635f"/><stop offset="1" stop-color="#ec635f"/></linearGradient><linearGradient id="m74" x1="0" y1="0" x2="0" y2="1"><stop offset="0" stop-color="#eb5e5f"/><stop offset=".191" stop-color="#eb5e5f"/><stop offset=".241" stop-color="#ffe066"/><stop offset=".293" stop-color="#2db8be"/><stop offset=".316" stop-color="#23b3c4"/><stop offset=".440" stop-color="#1eb1c6"/><stop offset=".616" stop-color="#2db8be"/><stop offset=".689" stop-color="#5fc1a9"/><stop offset=".713" stop-color="#2db8be"/><stop offset=".814" stop-color="#16adcb"/><stop offset=".856" stop-color="#2db8be"/><stop offset=".899" stop-color="#ffe066"/><stop offset=".939" stop-color="#ec635f"/><stop offset="1" stop-color="#ec635f"/></linearGradient><linearGradient id="m75" x1="0" y1="0" x2="0" y2="1"><stop offset="0" stop-color="#eb5d5f"/><stop offset=".191" stop-color="#eb5e5f"/><stop offset=".240" stop-color="#ffe066"/><stop offset=".290" stop-color="#2db8be"/><stop offset=".316" stop-color="#21b2c5"/><stop offset=".440" stop-color="#1fb1c6"/><stop offset=".632" stop-color="#2db8be"/><stop offset=".689" stop-color="#51bfaf"/><stop offset=".708" stop-color="#2db8be"/><stop offset=".814" stop-color="#16adcb"/><stop offset=".856" stop-color="#2db8be"/><stop offset=".899" stop-color="#ffe066"/><stop offset=".939" stop-color="#ec635f"/><stop offset="1" stop-color="#ec635f"/></linearGradient><linearGradient id="m76" x1="0" y1="0" x2="0" y2="1"><stop offset="0" stop-color="#eb5d5f"/><stop offset=".191" stop-color="#eb5e5f"/><stop offset=".239" stop-color="#ffe066"/><stop offset=".288" stop-color="#2db8be"/><stop offset=".316" stop-color="#20b2c5"/><stop offset=".440" stop-color="#1fb1c6"/><stop offset=".652" stop-color="#2db8be"/><stop offset=".689" stop-color="#42bcb5"/><stop offset=".701" stop-color="#2db8be"/><stop offset=".814" stop-color="#16adcb"/><stop offset=".856" stop-color="#2db8be"/><stop offset=".899" stop-color="#ffe066"/><stop offset=".939" stop-color="#ec635f"/><stop offset="1" stop-color="#ec635f"/></linearGradient><linearGradient id="m77" x1="0" y1="0" x2="0" y2="1"><stop offset="0" stop-color="#eb5d5f"/><stop offset=".191" stop-color="#eb5e5f"/><stop offset=".239" stop-color="#ffe066"/><stop offset=".287" stop-color="#2db8be"/><stop offset=".316" stop-color="#20b2c6"/><stop offset=".440" stop-color="#1fb1c6"/><stop offset=".669" stop-color="#2db8be"/><stop offset=".689" stop-color="#3abab9"/><stop offset=".697" stop-color="#2db8be"/><stop offset=".814" stop-color="#16adcb"/><stop offset=".856" stop-color="#2db8be"/><stop offset=".899" stop-color="#ffe066"/><stop offset=".939" stop-color="#ec635f"/><stop offset="1" stop-color="#ec635f"/></linearGradient><linearGradient id="m78" x1="0" y1="0" x2="0" y2="1"><stop offset="0" stop-color="#eb5d5f"/><stop offset=".191" stop-color="#eb5e5f"/><stop offset=".239" stop-color="#ffe066"/><stop offset=".287" stop-color="#2db8be"/><stop offset=".316" stop-color="#20b2c6"/><stop offset=".440" stop-color="#1fb1c6"/><stop offset=".565" stop-color="#24b4c3"/><stop offset=".680" stop-color="#2db8be"/><stop offset=".689" stop-color="#33b9bb"/><stop offset=".693" stop-color="#2db8be"/><stop offset=".814" stop-color="#16adcb"/><stop offset=".856" stop-color="#2db8be"/><stop offset=".899" stop-color="#ffe066"/><stop offset=".939" stop-color="#ec635f"/><stop offset="1" stop-color="#ec635f"/></linearGradient><linearGradient id="m79" x1="0" y1="0" x2="0" y2="1"><stop offset="0" stop-color="#eb5d5f"/><stop offset=".191" stop-color="#eb5e5f"/><stop offset=".239" stop-color="#ffe066"/><stop offset=".287" stop-color="#2db8be"/><stop offset=".316" stop-color="#1fb2c6"/><stop offset=".440" stop-color="#1fb1c6"/><stop offset=".565" stop-color="#23b3c4"/><stop offset=".689" stop-color="#2db8be"/><stop offset=".814" stop-color="#16adcb"/><stop offset=".856" stop-color="#2db8be"/><stop offset=".899" stop-color="#ffe066"/><stop offset=".939" stop-color="#ec635f"/><stop offset="1" stop-color="#ec635f"/></linearGradient><linearGradient id="m80" x1="0" y1="0" x2="0" y2="1"><stop offset="0" stop-color="#eb5d5f"/><stop offset=".191" stop-color="#eb5e5f"/><stop offset=".239" stop-color="#ffe066"/><stop offset=".287" stop-color="#2db8be"/><stop offset=".316" stop-color="#1fb1c6"/><stop offset=".440" stop-color="#1fb1c6"/><stop offset=".565" stop-color="#21b2c5"/><stop offset=".689" stop-color="#2cb8be"/><stop offset=".814" stop-color="#16adcb"/><stop offset=".856" stop-color="#2db8be"/><stop offset=".899" stop-color="#ffe066"/><stop offset=".939" stop-color="#ec635f"/><stop offset="1" stop-color="#ec635f"/></linearGradient><linearGradient id="m81" x1="0" y1="0" x2="0" y2="1"><stop offset="0" stop-color="#eb5d5f"/><stop offset=".191" stop-color="#eb5e5f"/><stop offset=".238" stop-color="#ffe066"/><stop offset=".287" stop-color="#2db8be"/><stop offset=".316" stop-color="#1fb1c6"/><stop offset=".440" stop-color="#1fb1c6"/><stop offset=".565" stop-color="#22b3c4"/><stop offset=".689" stop-color="#2cb8be"/><stop offset=".814" stop-color="#1cb0c7"/><stop offset=".848" stop-color="#2db8be"/><stop offset=".895" stop-color="#ffe066"/><stop offset=".939" stop-color="#ec635f"/><stop offset="1" stop-color="#ec635f"/></linearGradient><linearGradient id="m82" x1="0" y1="0" x2="0" y2="1"><stop offset="0" stop-color="#eb5d5f"/><stop offset=".191" stop-color="#eb5e5f"/><stop offset=".238" stop-color="#ffe066"/><stop offset=".286" stop-color="#2db8be"/><stop offset=".316" stop-color="#1fb1c6"/><stop offset=".440" stop-color="#1eb1c6"/><stop offset=".565" stop-color="#24b4c3"/><stop offset=".689" stop-color="#2db8be"/><stop offset=".814" stop-color="#26b5c2"/><stop offset=".831" stop-color="#2db8be"/><stop offset=".886" stop-color="#ffe066"/><stop offset=".939" stop-color="#ec635f"/><stop offset="1" stop-color="#ec635f"/></linearGradient><linearGradient id="m83" x1="0" y1="0" x2="0" y2="1"><stop offset="0" stop-color="#eb5d5f"/><stop offset=".191" stop-color="#eb5e5f"/><stop offset=".238" stop-color="#ffe066"/><stop offset=".286" stop-color="#2db8be"/><stop offset=".316" stop-color="#1fb1c6"/><stop offset=".440" stop-color="#1eb1c6"/><stop offset=".689" stop-color="#2db8be"/><stop offset=".814" stop-color="#45bdb4"/><stop offset=".874" stop-color="#ffe066"/><stop offset=".939" stop-color="#ec625f"/><stop offset="1" stop-color="#ec625f"/></linearGradient><linearGradient id="m84" x1="0" y1="0" x2="0" y2="1"><stop offset="0" stop-color="#eb5d5f"/><stop offset=".191" stop-color="#eb5e5f"/><stop offset=".238" stop-color="#ffe066"/><stop offset=".285" stop-color="#2db8be"/><stop offset=".316" stop-color="#1eb1c6"/><stop offset=".440" stop-color="#1eb1c6"/><stop offset=".565" stop-color="#29b6c0"/><stop offset=".680" stop-color="#2db8be"/><stop offset=".689" stop-color="#30b9bd"/><stop offset=".814" stop-color="#9ccd8f"/><stop offset=".855" stop-color="#ffe066"/><stop offset=".939" stop-color="#ec625f"/><stop offset="1" stop-color="#ec625f"/></linearGradient><linearGradient id="m85" x1="0" y1="0" x2="0" y2="1"><stop offset="0" stop-color="#eb5d5f"/><stop offset=".191" stop-color="#eb5e5f"/><stop offset=".238" stop-color="#ffe066"/><stop offset=".286" stop-color="#2db8be"/><stop offset=".316" stop-color="#1fb1c6"/><stop offset=".440" stop-color="#1eb1c7"/><stop offset=".565" stop-color="#2bb7bf"/><stop offset=".629" stop-color="#2db8be"/><stop offset=".689" stop-color="#3cbbb8"/><stop offset=".814" stop-color="#b9d383"/><stop offset=".846" stop-color="#ffe066"/><stop offset=".939" stop-color="#ec625f"/><stop offset="1" stop-color="#ec625f"/></linearGradient><linearGradient id="m86" x1="0" y1="0" x2="0" y2="1"><stop offset="0" stop-color="#eb5d5f"/><stop offset=".191" stop-color="#eb5e5f"/><stop offset=".238" stop-color="#ffe066"/><stop offset=".287" stop-color="#2db8be"/><stop offset=".316" stop-color="#1fb1c6"/><stop offset=".440" stop-color="#1eb1c7"/><stop offset=".556" stop-color="#2db8be"/><stop offset=".565" stop-color="#38bab9"/><stop offset=".689" stop-color="#4bbeb1"/><stop offset=".814" stop-color="#b9d383"/><stop offset=".846" stop-color="#ffe066"/><stop offset=".939" stop-color="#ec625f"/><stop offset="1" stop-color="#ec625f"/></linearGradient><linearGradient id="m87" x1="0" y1="0" x2="0" y2="1"><stop offset="0" stop-color="#eb5d5f"/><stop offset=".191" stop-color="#eb5e5f"/><stop offset=".239" stop-color="#ffe066"/><stop offset=".288" stop-color="#2db8be"/><stop offset=".316" stop-color="#20b2c6"/><stop offset=".440" stop-color="#1db1c7"/><stop offset=".539" stop-color="#2db8be"/><stop offset=".565" stop-color="#53bfae"/><stop offset=".689" stop-color="#5bc1ab"/><stop offset=".814" stop-color="#b9d383"/><stop offset=".846" stop-color="#ffe066"/><stop offset=".939" stop-color="#ec625f"/><stop offset="1" stop-color="#ec625f"/></linearGradient><linearGradient id="m88" x1="0" y1="0" x2="0" y2="1"><stop offset="0" stop-color="#eb5d5f"/><stop offset=".191" stop-color="#eb5e5f"/><stop offset=".239" stop-color="#ffe066"/><stop offset=".288" stop-color="#2db8be"/><stop offset=".316" stop-color="#20b2c5"/><stop offset=".440" stop-color="#1db0c7"/><stop offset=".526" stop-color="#2db8be"/><stop offset=".565" stop-color="#6ec4a3"/><stop offset=".689" stop-color="#6bc4a4"/><stop offset=".814" stop-color="#b9d383"/><stop offset=".846" stop-color="#ffe066"/><stop offset=".939" stop-color="#ec625f"/><stop offset="1" stop-color="#ec625f"/></linearGradient><linearGradient id="m89" x1="0" y1="0" x2="0" y2="1"><stop offset="0" stop-color="#eb5d5f"/><stop offset=".191" stop-color="#eb5e5f"/><stop offset=".239" stop-color="#ffe066"/><stop offset=".288" stop-color="#2db8be"/><stop offset=".316" stop-color="#20b2c6"/><stop offset=".440" stop-color="#1db0c7"/><stop offset=".530" stop-color="#2db8be"/><stop offset=".565" stop-color="#67c3a6"/><stop offset=".689" stop-color="#64c2a7"/><stop offset=".814" stop-color="#b9d383"/><stop offset=".846" stop-color="#ffe066"/><stop offset=".939" stop-color="#ec625f"/><stop offset="1" stop-color="#ec625f"/></linearGradient><linearGradient id="m90" x1="0" y1="0" x2="0" y2="1"><stop offset="0" stop-color="#eb5d5f"/><stop offset=".191" stop-color="#eb5e5f"/><stop offset=".238" stop-color="#ffe066"/><stop offset=".286" stop-color="#2db8be"/><stop offset=".316" stop-color="#1fb1c6"/><stop offset=".440" stop-color="#1db0c7"/><stop offset=".542" stop-color="#2db8be"/><stop offset=".565" stop-color="#4fbeb0"/><stop offset=".689" stop-color="#51bfaf"/><stop offset=".814" stop-color="#b9d383"/><stop offset=".846" stop-color="#ffe066"/><stop offset=".939" stop-color="#ec625f"/><stop offset="1" stop-color="#ec625f"/></linearGradient><linearGradient id="m91" x1="0" y1="0" x2="0" y2="1"><stop offset="0" stop-color="#eb5d5f"/><stop offset=".191" stop-color="#eb5e5f"/><stop offset=".237" stop-color="#ffe066"/><stop offset=".284" stop-color="#2db8be"/><stop offset=".316" stop-color="#1eb1c7"/><stop offset=".440" stop-color="#1cb0c8"/><stop offset=".557" stop-color="#2db8be"/><stop offset=".565" stop-color="#37baba"/><stop offset=".689" stop-color="#3ebbb7"/><stop offset=".814" stop-color="#b9d383"/><stop offset=".846" stop-color="#ffe066"/><stop offset=".939" stop-color="#ec625f"/><stop offset="1" stop-color="#ec625f"/></linearGradient><linearGradient id="m92" x1="0" y1="0" x2="0" y2="1"><stop offset="0" stop-color="#eb5d5f"/><stop offset=".191" stop-color="#eb5d5f"/><stop offset=".237" stop-color="#ffe066"/><stop offset=".283" stop-color="#2db8be"/><stop offset=".316" stop-color="#1db0c7"/><stop offset=".440" stop-color="#1cb0c8"/><stop offset=".565" stop-color="#2cb7bf"/><stop offset=".691" stop-color="#2db8be"/><stop offset=".814" stop-color="#b9d383"/><stop offset=".846" stop-color="#ffe066"/><stop offset=".939" stop-color="#ec615f"/><stop offset="1" stop-color="#ec615f"/></linearGradient><linearGradient id="m93" x1="0" y1="0" x2="0" y2="1"><stop offset="0" stop-color="#eb5d5f"/><stop offset=".191" stop-color="#eb5d5f"/><stop offset=".237" stop-color="#ffe066"/><stop offset=".283" stop-color="#2db8be"/><stop offset=".316" stop-color="#1db0c7"/><stop offset=".440" stop-color="#1bb0c8"/><stop offset=".565" stop-color="#2bb7bf"/><stop offset=".695" stop-color="#2db8be"/><stop offset=".814" stop-color="#b9d383"/><stop offset=".846" stop-color="#ffe066"/><stop offset=".939" stop-color="#ec615f"/><stop offset="1" stop-color="#ec615f"/></linearGradient><linearGradient id="m94" x1="0" y1="0" x2="0" y2="1"><stop offset="0" stop-color="#eb5d5f"/><stop offset=".191" stop-color="#eb5d5f"/><stop offset=".237" stop-color="#ffe066"/><stop offset=".284" stop-color="#2db8be"/><stop offset=".316" stop-color="#1eb1c7"/><stop offset=".440" stop-color="#1bb0c8"/><stop offset=".565" stop-color="#2cb8be"/><stop offset=".692" stop-color="#2db8be"/><stop offset=".814" stop-color="#b9d383"/><stop offset=".846" stop-color="#ffe066"/><stop offset=".939" stop-color="#ec625f"/><stop offset="1" stop-color="#ec625f"/></linearGradient><linearGradient id="m95" x1="0" y1="0" x2="0" y2="1"><stop offset="0" stop-color="#eb5d5f"/><stop offset=".191" stop-color="#eb5d5f"/><stop offset=".238" stop-color="#ffe066"/><stop offset=".286" stop-color="#2db8be"/><stop offset=".316" stop-color="#1fb1c6"/><stop offset=".440" stop-color="#1bafc8"/><stop offset=".562" stop-color="#2db8be"/><stop offset=".565" stop-color="#31b9bc"/><stop offset=".689" stop-color="#2db8be"/><stop offset=".814" stop-color="#b9d383"/><stop offset=".846" stop-color="#ffe066"/><stop offset=".939" stop-color="#ec625f"/><stop offset="1" stop-color="#ec625f"/></linearGradient><linearGradient id="m96" x1="0" y1="0" x2="0" y2="1"><stop offset="0" stop-color="#eb5d5f"/><stop offset=".191" stop-color="#eb5d5f"/><stop offset=".239" stop-color="#ffe066"/><stop offset=".287" stop-color="#2db8be"/><stop offset=".316" stop-color="#1fb1c6"/><stop offset=".440" stop-color="#1bafc8"/><stop offset=".555" stop-color="#2db8be"/><stop offset=".565" stop-color="#3bbbb8"/><stop offset=".689" stop-color="#30b9bd"/><stop offset=".814" stop-color="#b9d383"/><stop offset=".846" stop-color="#ffe066"/><stop offset=".939" stop-color="#ec625f"/><stop offset="1" stop-color="#ec625f"/></linearGradient><linearGradient id="m97" x1="0" y1="0" x2="0" y2="1"><stop offset="0" stop-color="#eb5d5f"/><stop offset=".191" stop-color="#eb5d5f"/><stop offset=".238" stop-color="#ffe066"/><stop offset=".287" stop-color="#2db8be"/><stop offset=".316" stop-color="#1fb1c6"/><stop offset=".440" stop-color="#1bafc8"/><stop offset=".559" stop-color="#2db8be"/><stop offset=".565" stop-color="#35babb"/><stop offset=".689" stop-color="#2eb8be"/><stop offset=".814" stop-color="#b9d383"/><stop offset=".846" stop-color="#ffe066"/><stop offset=".939" stop-color="#ec625f"/><stop offset="1" stop-color="#ec625f"/></linearGradient><linearGradient id="m98" x1="0" y1="0" x2="0" y2="1"><stop offset="0" stop-color="#eb5d5f"/><stop offset=".191" stop-color="#eb5d5f"/><stop offset=".238" stop-color="#ffe066"/><stop offset=".285" stop-color="#2db8be"/><stop offset=".316" stop-color="#1eb1c6"/><stop offset=".440" stop-color="#1bafc8"/><stop offset=".565" stop-color="#2cb8be"/><stop offset=".693" stop-color="#2db8be"/><stop offset=".814" stop-color="#b9d383"/><stop offset=".846" stop-color="#ffe066"/><stop offset=".939" stop-color="#ec625f"/><stop offset="1" stop-color="#ec625f"/></linearGradient><linearGradient id="m99" x1="0" y1="0" x2="0" y2="1"><stop offset="0" stop-color="#eb5c5f"/><stop offset=".191" stop-color="#eb5d5f"/><stop offset=".237" stop-color="#ffe066"/><stop offset=".284" stop-color="#2db8be"/><stop offset=".316" stop-color="#1db1c7"/><stop offset=".440" stop-color="#1bafc8"/><stop offset=".565" stop-color="#2bb7bf"/><stop offset=".697" stop-color="#2db8be"/><stop offset=".814" stop-color="#b9d383"/><stop offset=".846" stop-color="#ffe066"/><stop offset=".939" stop-color="#ec615f"/><stop offset="1" stop-color="#ec615f"/></linearGradient><linearGradient id="m100" x1="0" y1="0" x2="0" y2="1"><stop offset="0" stop-color="#eb5c5f"/><stop offset=".191" stop-color="#eb5d5f"/><stop offset=".237" stop-color="#ffe066"/><stop offset=".283" stop-color="#2db8be"/><stop offset=".316" stop-color="#1cb0c7"/><stop offset=".440" stop-color="#1bafc8"/><stop offset=".565" stop-color="#2ab6c0"/><stop offset=".689" stop-color="#2bb7bf"/><stop offset=".701" stop-color="#2db8be"/><stop offset=".814" stop-color="#b9d383"/><stop offset=".846" stop-color="#ffe066"/><stop offset=".939" stop-color="#ec615f"/><stop offset="1" stop-color="#ec615f"/></linearGradient><linearGradient id="m101" x1="0" y1="0" x2="0" y2="1"><stop offset="0" stop-color="#eb5c5f"/><stop offset=".191" stop-color="#eb5d5f"/><stop offset=".236" stop-color="#ffe066"/><stop offset=".281" stop-color="#2db8be"/><stop offset=".316" stop-color="#1cb0c8"/><stop offset=".440" stop-color="#1aafc9"/><stop offset=".565" stop-color="#29b6c0"/><stop offset=".689" stop-color="#2bb7bf"/><stop offset=".703" stop-color="#2db8be"/><stop offset=".814" stop-color="#b9d383"/><stop offset=".846" stop-color="#ffe066"/><stop offset=".939" stop-color="#ec615f"/><stop offset="1" stop-color="#ec615f"/></linearGradient><linearGradient id="m102" x1="0" y1="0" x2="0" y2="1"><stop offset="0" stop-color="#eb5c5f"/><stop offset=".191" stop-color="#eb5d5f"/><stop offset=".235" stop-color="#ffe066"/><stop offset=".280" stop-color="#2db8be"/><stop offset=".316" stop-color="#1bafc8"/><stop offset=".440" stop-color="#1aafc9"/><stop offset=".565" stop-color="#29b6c0"/><stop offset=".689" stop-color="#2bb7bf"/><stop offset=".704" stop-color="#2db8be"/><stop offset=".814" stop-color="#b9d383"/><stop offset=".846" stop-color="#ffe066"/><stop offset=".939" stop-color="#ec605f"/><stop offset="1" stop-color="#ec605f"/></linearGradient><linearGradient id="m103" x1="0" y1="0" x2="0" y2="1"><stop offset="0" stop-color="#eb5c5f"/><stop offset=".191" stop-color="#eb5d5f"/><stop offset=".235" stop-color="#ffe066"/><stop offset=".279" stop-color="#2db8be"/><stop offset=".316" stop-color="#1aafc9"/><stop offset=".440" stop-color="#1aafc9"/><stop offset=".565" stop-color="#29b6c0"/><stop offset=".689" stop-color="#2bb7bf"/><stop offset=".705" stop-color="#2db8be"/><stop offset=".814" stop-color="#b9d383"/><stop offset=".846" stop-color="#ffe066"/><stop offset=".939" stop-color="#ec605f"/><stop offset="1" stop-color="#ec605f"/></linearGradient><linearGradient id="m104" x1="0" y1="0" x2="0" y2="1"><stop offset="0" stop-color="#eb5c5f"/><stop offset=".191" stop-color="#eb5d5f"/><stop offset=".234" stop-color="#ffe066"/><stop offset=".278" stop-color="#2db8be"/><stop offset=".316" stop-color="#19aec9"/><stop offset=".440" stop-color="#1aafc9"/><stop offset=".565" stop-color="#29b6c0"/><stop offset=".689" stop-color="#2bb7bf"/><stop offset=".705" stop-color="#2db8be"/><stop offset=".814" stop-color="#b9d383"/><stop offset=".846" stop-color="#ffe066"/><stop offset=".939" stop-color="#ec605f"/><stop offset="1" stop-color="#ec605f"/></linearGradient><linearGradient id="m105" x1="0" y1="0" x2="0" y2="1"><stop offset="0" stop-color="#eb5c5f"/><stop offset=".191" stop-color="#eb5d5f"/><stop offset=".234" stop-color="#ffe066"/><stop offset=".278" stop-color="#2db8be"/><stop offset=".316" stop-color="#19afc9"/><stop offset=".440" stop-color="#1aafc9"/><stop offset=".565" stop-color="#2ab6c0"/><stop offset=".689" stop-color="#2ab7bf"/><stop offset=".707" stop-color="#2db8be"/><stop offset=".814" stop-color="#b9d383"/><stop offset=".846" stop-color="#ffe066"/><stop offset=".939" stop-color="#ec605f"/><stop offset="1" stop-color="#ec605f"/></linearGradient><linearGradient id="m106" x1="0" y1="0" x2="0" y2="1"><stop offset="0" stop-color="#eb5c5f"/><stop offset=".191" stop-color="#eb5d5f"/><stop offset=".235" stop-color="#ffe066"/><stop offset=".280" stop-color="#2db8be"/><stop offset=".316" stop-color="#1aafc8"/><stop offset=".440" stop-color="#1aafc9"/><stop offset=".565" stop-color="#2ab7c0"/><stop offset=".689" stop-color="#2ab7c0"/><stop offset=".709" stop-color="#2db8be"/><stop offset=".814" stop-color="#b9d383"/><stop offset=".846" stop-color="#ffe066"/><stop offset=".939" stop-color="#ec605f"/><stop offset="1" stop-color="#ec605f"/></linearGradient><linearGradient id="m107" x1="0" y1="0" x2="0" y2="1"><stop offset="0" stop-color="#eb5c5f"/><stop offset=".191" stop-color="#eb5d5f"/><stop offset=".236" stop-color="#ffe066"/><stop offset=".281" stop-color="#2db8be"/><stop offset=".316" stop-color="#1cb0c8"/><stop offset=".440" stop-color="#1aafc9"/><stop offset=".565" stop-color="#2ab7c0"/><stop offset=".689" stop-color="#2ab6c0"/><stop offset=".711" stop-color="#2db8be"/><stop offset=".814" stop-color="#b9d383"/><stop offset=".846" stop-color="#ffe066"/><stop offset=".939" stop-color="#ec615f"/><stop offset="1" stop-color="#ec615f"/></linearGradient><linearGradient id="m108" x1="0" y1="0" x2="0" y2="1"><stop offset="0" stop-color="#eb5c5f"/><stop offset=".191" stop-color="#eb5d5f"/><stop offset=".237" stop-color="#ffe066"/><stop offset=".283" stop-color="#2db8be"/><stop offset=".316" stop-color="#1db0c7"/><stop offset=".440" stop-color="#1aafc9"/><stop offset=".565" stop-color="#2bb7bf"/><stop offset=".689" stop-color="#29b6c0"/><stop offset=".713" stop-color="#2db8be"/><stop offset=".814" stop-color="#b9d383"/><stop offset=".846" stop-color="#ffe066"/><stop offset=".939" stop-color="#ec615f"/><stop offset="1" stop-color="#ec615f"/></linearGradient><linearGradient id="m109" x1="0" y1="0" x2="0" y2="1"><stop offset="0" stop-color="#eb5c5f"/><stop offset=".191" stop-color="#eb5d5f"/><stop offset=".237" stop-color="#ffe066"/><stop offset=".283" stop-color="#2db8be"/><stop offset=".316" stop-color="#1db0c7"/><stop offset=".440" stop-color="#1aafc9"/><stop offset=".565" stop-color="#2bb7bf"/><stop offset=".689" stop-color="#2ab6c0"/><stop offset=".712" stop-color="#2db8be"/><stop offset=".814" stop-color="#b9d383"/><stop offset=".846" stop-color="#ffe066"/><stop offset=".939" stop-color="#ec615f"/><stop offset="1" stop-color="#ec615f"/></linearGradient><linearGradient id="m110" x1="0" y1="0" x2="0" y2="1"><stop offset="0" stop-color="#eb5c5f"/><stop offset=".191" stop-color="#eb5d5f"/><stop offset=".237" stop-color="#ffe066"/><stop offset=".283" stop-color="#2db8be"/><stop offset=".316" stop-color="#1db0c7"/><stop offset=".440" stop-color="#19afc9"/><stop offset=".565" stop-color="#2cb7bf"/><stop offset=".689" stop-color="#2ab7c0"/><stop offset=".710" stop-color="#2db8be"/><stop offset=".814" stop-color="#b9d383"/><stop offset=".846" stop-color="#ffe066"/><stop offset=".939" stop-color="#ec615f"/><stop offset="1" stop-color="#ec615f"/></linearGradient><linearGradient id="m111" x1="0" y1="0" x2="0" y2="1"><stop offset="0" stop-color="#eb5c5f"/><stop offset=".191" stop-color="#eb5d5f"/><stop offset=".237" stop-color="#ffe066"/><stop offset=".283" stop-color="#2db8be"/><stop offset=".316" stop-color="#1cb0c7"/><stop offset=".440" stop-color="#19aec9"/><stop offset=".565" stop-color="#2db8be"/><stop offset=".689" stop-color="#2ab7c0"/><stop offset=".708" stop-color="#2db8be"/><stop offset=".814" stop-color="#b9d383"/><stop offset=".846" stop-color="#ffe066"/><stop offset=".939" stop-color="#ec615f"/><stop offset="1" stop-color="#ec615f"/></linearGradient><linearGradient id="m112" x1="0" y1="0" x2="0" y2="1"><stop offset="0" stop-color="#eb5c5f"/><stop offset=".191" stop-color="#eb5d5f"/><stop offset=".236" stop-color="#ffe066"/><stop offset=".282" stop-color="#2db8be"/><stop offset=".316" stop-color="#1cb0c7"/><stop offset=".440" stop-color="#18aeca"/><stop offset=".564" stop-color="#2db8be"/><stop offset=".565" stop-color="#2fb8bd"/><stop offset=".576" stop-color="#2db8be"/><stop offset=".689" stop-color="#2bb7bf"/><stop offset=".706" stop-color="#2db8be"/><stop offset=".814" stop-color="#b9d383"/><stop offset=".846" stop-color="#ffe066"/><stop offset=".939" stop-color="#ec605f"/><stop offset="1" stop-color="#ec605f"/></linearGradient><linearGradient id="m113" x1="0" y1="0" x2="0" y2="1"><stop offset="0" stop-color="#eb5c5f"/><stop offset=".191" stop-color="#eb5d5f"/><stop offset=".236" stop-color="#ffe066"/><stop offset=".282" stop-color="#2db8be"/><stop offset=".316" stop-color="#1cb0c8"/><stop offset=".440" stop-color="#18aeca"/><stop offset=".565" stop-color="#2db8be"/><stop offset=".689" stop-color="#2ab7c0"/><stop offset=".708" stop-color="#2db8be"/><stop offset=".814" stop-color="#b9d383"/><stop offset=".846" stop-color="#ffe066"/><stop offset=".939" stop-color="#ec605f"/><stop offset="1" stop-color="#ec605f"/></linearGradient><linearGradient id="m114" x1="0" y1="0" x2="0" y2="1"><stop offset="0" stop-color="#eb5c5f"/><stop offset=".191" stop-color="#eb5d5f"/><stop offset=".236" stop-color="#ffe066"/><stop offset=".281" stop-color="#2db8be"/><stop offset=".316" stop-color="#1cb0c8"/><stop offset=".440" stop-color="#19aec9"/><stop offset=".565" stop-color="#2cb7bf"/><stop offset=".689" stop-color="#2ab6c0"/><stop offset=".712" stop-color="#2db8be"/><stop offset=".814" stop-color="#b9d383"/><stop offset=".846" stop-color="#ffe066"/><stop offset=".939" stop-color="#ec605f"/><stop offset="1" stop-color="#ec605f"/></linearGradient><linearGradient id="m115" x1="0" y1="0" x2="0" y2="1"><stop offset="0" stop-color="#eb5c5f"/><stop offset=".191" stop-color="#eb5d5f"/><stop offset=".236" stop-color="#ffe066"/><stop offset=".281" stop-color="#2db8be"/><stop offset=".316" stop-color="#1bb0c8"/><stop offset=".440" stop-color="#19afc9"/><stop offset=".565" stop-color="#2bb7bf"/><stop offset=".689" stop-color="#29b6c0"/><stop offset=".716" stop-color="#2db8be"/><stop offset=".814" stop-color="#b9d383"/><stop offset=".846" stop-color="#ffe066"/><stop offset=".939" stop-color="#ec605f"/><stop offset="1" stop-color="#ec605f"/></linearGradient><linearGradient id="m116" x1="0" y1="0" x2="0" y2="1"><stop offset="0" stop-color="#eb5c5f"/><stop offset=".191" stop-color="#eb5d5f"/><stop offset=".236" stop-color="#ffe066"/><stop offset=".280" stop-color="#2db8be"/><stop offset=".316" stop-color="#1bafc8"/><stop offset=".440" stop-color="#1aafc9"/><stop offset=".565" stop-color="#2ab6c0"/><stop offset=".689" stop-color="#28b6c1"/><stop offset=".719" stop-color="#2db8be"/><stop offset=".814" stop-color="#b9d383"/><stop offset=".846" stop-color="#ffe066"/><stop offset=".939" stop-color="#ec605f"/><stop offset="1" stop-color="#ec605f"/></linearGradient><linearGradient id="m117" x1="0" y1="0" x2="0" y2="1"><stop offset="0" stop-color="#eb5c5f"/><stop offset=".191" stop-color="#eb5d5f"/><stop offset=".235" stop-color="#ffe066"/><stop offset=".280" stop-color="#2db8be"/><stop offset=".316" stop-color="#1bafc8"/><stop offset=".440" stop-color="#19afc9"/><stop offset=".565" stop-color="#2ab6c0"/><stop offset=".689" stop-color="#28b6c1"/><stop offset=".719" stop-color="#2db8be"/><stop offset=".814" stop-color="#b9d383"/><stop offset=".846" stop-color="#ffe066"/><stop offset=".939" stop-color="#ec605f"/><stop offset="1" stop-color="#ec605f"/></linearGradient><linearGradient id="m118" x1="0" y1="0" x2="0" y2="1"><stop offset="0" stop-color="#eb5c5f"/><stop offset=".191" stop-color="#eb5d5f"/><stop offset=".236" stop-color="#ffe066"/><stop offset=".281" stop-color="#2db8be"/><stop offset=".316" stop-color="#1bafc8"/><stop offset=".440" stop-color="#18aeca"/><stop offset=".565" stop-color="#2ab7c0"/><stop offset=".689" stop-color="#29b6c1"/><stop offset=".718" stop-color="#2db8be"/><stop offset=".814" stop-color="#b9d383"/><stop offset=".846" stop-color="#ffe066"/><stop offset=".939" stop-color="#ec605f"/><stop offset="1" stop-color="#ec605f"/></linearGradient><linearGradient id="m119" x1="0" y1="0" x2="0" y2="1"><stop offset="0" stop-color="#eb5c5f"/><stop offset=".191" stop-color="#eb5d5f"/><stop offset=".236" stop-color="#ffe066"/><stop offset=".281" stop-color="#2db8be"/><stop offset=".316" stop-color="#1bafc8"/><stop offset=".440" stop-color="#17aeca"/><stop offset=".565" stop-color="#2ab7c0"/><stop offset=".689" stop-color="#29b6c0"/><stop offset=".716" stop-color="#2db8be"/><stop offset=".814" stop-color="#b9d383"/><stop offset=".846" stop-color="#ffe066"/><stop offset=".939" stop-color="#ec605f"/><stop offset="1" stop-color="#ec605f"/></linearGradient><linearGradient id="m120" x1="0" y1="0" x2="0" y2="1"><stop offset="0" stop-color="#eb5c5f"/><stop offset=".191" stop-color="#eb5d5f"/><stop offset=".236" stop-color="#ffe066"/><stop offset=".281" stop-color="#2db8be"/><stop offset=".316" stop-color="#1bafc8"/><stop offset=".440" stop-color="#16adcb"/><stop offset=".565" stop-color="#2bb7bf"/><stop offset=".689" stop-color="#29b6c0"/><stop offset=".714" stop-color="#2db8be"/><stop offset=".814" stop-color="#b9d383"/><stop offset=".846" stop-color="#ffe066"/><stop offset=".939" stop-color="#ec605f"/><stop offset="1" stop-color="#ec605f"/></linearGradient><linearGradient id="m121" x1="0" y1="0" x2="0" y2="1"><stop offset="0" stop-color="#eb5c5f"/><stop offset=".191" stop-color="#eb5d5f"/><stop offset=".236" stop-color="#ffe066"/><stop offset=".281" stop-color="#2db8be"/><stop offset=".316" stop-color="#1bb0c8"/><stop offset=".440" stop-color="#16adcb"/><stop offset=".565" stop-color="#2bb7bf"/><stop offset=".689" stop-color="#2ab6c0"/><stop offset=".712" stop-color="#2db8be"/><stop offset=".814" stop-color="#b9d383"/><stop offset=".846" stop-color="#ffe066"/><stop offset=".939" stop-color="#ec605f"/><stop offset="1" stop-color="#ec605f"/></linearGradient><linearGradient id="m122" x1="0" y1="0" x2="0" y2="1"><stop offset="0" stop-color="#eb5c5f"/><stop offset=".191" stop-color="#eb5d5f"/><stop offset=".236" stop-color="#ffe066"/><stop offset=".281" stop-color="#2db8be"/><stop offset=".316" stop-color="#1cb0c8"/><stop offset=".440" stop-color="#17adca"/><stop offset=".565" stop-color="#2cb7bf"/><stop offset=".689" stop-color="#2ab7c0"/><stop offset=".710" stop-color="#2db8be"/><stop offset=".814" stop-color="#b9d383"/><stop offset=".846" stop-color="#ffe066"/><stop offset=".939" stop-color="#ec605f"/><stop offset="1" stop-color="#ec605f"/></linearGradient><linearGradient id="m123" x1="0" y1="0" x2="0" y2="1"><stop offset="0" stop-color="#eb5c5f"/><stop offset=".191" stop-color="#eb5d5f"/><stop offset=".236" stop-color="#ffe066"/><stop offset=".282" stop-color="#2db8be"/><stop offset=".316" stop-color="#1cb0c8"/><stop offset=".440" stop-color="#18aeca"/><stop offset=".565" stop-color="#2db8be"/><stop offset=".689" stop-color="#2ab7c0"/><stop offset=".708" stop-color="#2db8be"/><stop offset=".814" stop-color="#b9d383"/><stop offset=".846" stop-color="#ffe066"/><stop offset=".939" stop-color="#ec605f"/><stop offset="1" stop-color="#ec605f"/></linearGradient><linearGradient id="m124" x1="0" y1="0" x2="0" y2="1"><stop offset="0" stop-color="#eb5c5f"/><stop offset=".191" stop-color="#eb5d5f"/><stop offset=".236" stop-color="#ffe066"/><stop offset=".282" stop-color="#2db8be"/><stop offset=".316" stop-color="#1cb0c8"/><stop offset=".440" stop-color="#18aeca"/><stop offset=".564" stop-color="#2db8be"/><stop offset=".565" stop-color="#2fb8bd"/><stop offset=".576" stop-color="#2db8be"/><stop offset=".689" stop-color="#2bb7bf"/><stop offset=".706" stop-color="#2db8be"/><stop offset=".814" stop-color="#b9d383"/><stop offset=".846" stop-color="#ffe066"/><stop offset=".939" stop-color="#ec605f"/><stop offset="1" stop-color="#ec605f"/></linearGradient><linearGradient id="m125" x1="0" y1="0" x2="0" y2="1"><stop offset="0" stop-color="#eb5c5f"/><stop offset=".191" stop-color="#eb5d5f"/><stop offset=".236" stop-color="#ffe066"/><stop offset=".282" stop-color="#2db8be"/><stop offset=".316" stop-color="#1cb0c8"/><stop offset=".440" stop-color="#19aeca"/><stop offset=".565" stop-color="#2db8be"/><stop offset=".689" stop-color="#2ab7bf"/><stop offset=".708" stop-color="#2db8be"/><stop offset=".814" stop-color="#b9d383"/><stop offset=".846" stop-color="#ffe066"/><stop offset=".939" stop-color="#ec5f5f"/><stop offset="1" stop-color="#ec5f5f"/></linearGradient><linearGradient id="m126" x1="0" y1="0" x2="0" y2="1"><stop offset="0" stop-color="#eb5c5f"/><stop offset=".191" stop-color="#eb5d5f"/><stop offset=".236" stop-color="#ffe066"/><stop offset=".281" stop-color="#2db8be"/><stop offset=".316" stop-color="#1bafc8"/><stop offset=".440" stop-color="#19aec9"/><stop offset=".565" stop-color="#2cb7bf"/><stop offset=".689" stop-color="#2ab6c0"/><stop offset=".711" stop-color="#2db8be"/><stop offset=".814" stop-color="#b9d383"/><stop offset=".846" stop-color="#ffe066"/><stop offset=".939" stop-color="#ec5f5f"/><stop offset="1" stop-color="#ec5f5f"/></linearGradient><linearGradient id="m127" x1="0" y1="0" x2="0" y2="1"><stop offset="0" stop-color="#eb5c5f"/><stop offset=".191" stop-color="#eb5c5f"/><stop offset=".235" stop-color="#ffe066"/><stop offset=".280" stop-color="#2db8be"/><stop offset=".316" stop-color="#1aafc9"/><stop offset=".440" stop-color="#19afc9"/><stop offset=".565" stop-color="#2bb7bf"/><stop offset=".689" stop-color="#29b6c0"/><stop offset=".714" stop-color="#2db8be"/><stop offset=".814" stop-color="#b9d383"/><stop offset=".846" stop-color="#ffe066"/><stop offset=".939" stop-color="#ec5f5f"/><stop offset="1" stop-color="#ec5f5f"/></linearGradient><linearGradient id="m128" x1="0" y1="0" x2="0" y2="1"><stop offset="0" stop-color="#eb5c5f"/><stop offset=".191" stop-color="#eb5c5f"/><stop offset=".235" stop-color="#ffe066"/><stop offset=".279" stop-color="#2db8be"/><stop offset=".316" stop-color="#1aafc9"/><stop offset=".440" stop-color="#1aafc9"/><stop offset=".565" stop-color="#2ab6c0"/><stop offset=".689" stop-color="#29b6c0"/><stop offset=".716" stop-color="#2db8be"/><stop offset=".814" stop-color="#b9d383"/><stop offset=".846" stop-color="#ffe066"/><stop offset=".939" stop-color="#ec5f5f"/><stop offset="1" stop-color="#ec5f5f"/></linearGradient><linearGradient id="m129" x1="0" y1="0" x2="0" y2="1"><stop offset="0" stop-color="#eb5c5f"/><stop offset=".191" stop-color="#eb5c5f"/><stop offset=".235" stop-color="#ffe066"/><stop offset=".279" stop-color="#2db8be"/><stop offset=".316" stop-color="#1aafc9"/><stop offset=".440" stop-color="#1aafc9"/><stop offset=".565" stop-color="#29b6c0"/><stop offset=".689" stop-color="#29b6c0"/><stop offset=".716" stop-color="#2db8be"/><stop offset=".814" stop-color="#b9d383"/><stop offset=".846" stop-color="#ffe066"/><stop offset=".939" stop-color="#ec5f5f"/><stop offset="1" stop-color="#ec5f5f"/></linearGradient><linearGradient id="m130" x1="0" y1="0" x2="0" y2="1"><stop offset="0" stop-color="#eb5c5f"/><stop offset=".191" stop-color="#eb5c5f"/><stop offset=".235" stop-color="#ffe066"/><stop offset=".279" stop-color="#2db8be"/><stop offset=".316" stop-color="#1aafc9"/><stop offset=".440" stop-color="#1aafc9"/><stop offset=".565" stop-color="#29b6c0"/><stop offset=".689" stop-color="#29b6c0"/><stop offset=".716" stop-color="#2db8be"/><stop offset=".814" stop-color="#b9d383"/><stop offset=".846" stop-color="#ffe066"/><stop offset=".939" stop-color="#ec5f5f"/><stop offset="1" stop-color="#ec5f5f"/></linearGradient><linearGradient id="m131" x1="0" y1="0" x2="0" y2="1"><stop offset="0" stop-color="#eb5c5f"/><stop offset=".191" stop-color="#eb5c5f"/><stop offset=".235" stop-color="#ffe066"/><stop offset=".280" stop-color="#2db8be"/><stop offset=".316" stop-color="#1aafc9"/><stop offset=".440" stop-color="#1aafc9"/><stop offset=".565" stop-color="#28b6c1"/><stop offset=".689" stop-color="#29b6c0"/><stop offset=".715" stop-color="#2db8be"/><stop offset=".814" stop-color="#b9d383"/><stop offset=".846" stop-color="#ffe066"/><stop offset=".939" stop-color="#ec5f5f"/><stop offset="1" stop-color="#ec5f5f"/></linearGradient><linearGradient id="m132" x1="0" y1="0" x2="0" y2="1"><stop offset="0" stop-color="#eb5c5f"/><stop offset=".191" stop-color="#eb5c5f"/><stop offset=".235" stop-color="#ffe066"/><stop offset=".280" stop-color="#2db8be"/><stop offset=".316" stop-color="#1bafc8"/><stop offset=".440" stop-color="#1aafc9"/><stop offset=".565" stop-color="#28b6c1"/><stop offset=".689" stop-color="#29b6c0"/><stop offset=".714" stop-color="#2db8be"/><stop offset=".814" stop-color="#b9d383"/><stop offset=".846" stop-color="#ffe066"/><stop offset=".939" stop-color="#ec5f5f"/><stop offset="1" stop-color="#ec5f5f"/></linearGradient><linearGradient id="m133" x1="0" y1="0" x2="0" y2="1"><stop offset="0" stop-color="#eb5c5f"/><stop offset=".191" stop-color="#eb5c5f"/><stop offset=".235" stop-color="#ffe066"/><stop offset=".280" stop-color="#2db8be"/><stop offset=".316" stop-color="#1aafc8"/><stop offset=".440" stop-color="#1aafc9"/><stop offset=".565" stop-color="#27b5c1"/><stop offset=".689" stop-color="#29b6c0"/><stop offset=".715" stop-color="#2db8be"/><stop offset=".814" stop-color="#b9d383"/><stop offset=".846" stop-color="#ffe066"/><stop offset=".939" stop-color="#ec5f5f"/><stop offset="1" stop-color="#ec5f5f"/></linearGradient><linearGradient id="m134" x1="0" y1="0" x2="0" y2="1"><stop offset="0" stop-color="#eb5c5f"/><stop offset=".191" stop-color="#eb5c5f"/><stop offset=".235" stop-color="#ffe066"/><stop offset=".279" stop-color="#2db8be"/><stop offset=".316" stop-color="#1aafc9"/><stop offset=".440" stop-color="#19afc9"/><stop offset=".565" stop-color="#26b5c2"/><stop offset=".689" stop-color="#28b6c1"/><stop offset=".718" stop-color="#2db8be"/><stop offset=".814" stop-color="#b9d383"/><stop offset=".846" stop-color="#ffe066"/><stop offset=".939" stop-color="#ec5f5f"/><stop offset="1" stop-color="#ec5f5f"/></linearGradient><linearGradient id="m135" x1="0" y1="0" x2="0" y2="1"><stop offset="0" stop-color="#eb5c5f"/><stop offset=".191" stop-color="#eb5c5f"/><stop offset=".235" stop-color="#ffe066"/><stop offset=".278" stop-color="#2db8be"/><stop offset=".316" stop-color="#19afc9"/><stop offset=".440" stop-color="#19aec9"/><stop offset=".565" stop-color="#25b4c2"/><stop offset=".689" stop-color="#28b6c1"/><stop offset=".720" stop-color="#2db8be"/><stop offset=".814" stop-color="#b9d383"/><stop offset=".846" stop-color="#ffe066"/><stop offset=".939" stop-color="#ec5f5f"/><stop offset="1" stop-color="#ec5f5f"/></linearGradient><linearGradient id="m136" x1="0" y1="0" x2="0" y2="1"><stop offset="0" stop-color="#eb5c5f"/><stop offset=".191" stop-color="#eb5c5f"/><stop offset=".234" stop-color="#ffe066"/><stop offset=".278" stop-color="#2db8be"/><stop offset=".316" stop-color="#19aec9"/><stop offset=".440" stop-color="#18aeca"/><stop offset=".565" stop-color="#24b4c3"/><stop offset=".689" stop-color="#27b5c1"/><stop offset=".723" stop-color="#2db8be"/><stop offset=".814" stop-color="#b9d383"/><stop offset=".846" stop-color="#ffe066"/><stop offset=".939" stop-color="#ec5f5f"/><stop offset="1" stop-color="#ec5f5f"/></linearGradient><linearGradient id="m137" x1="0" y1="0" x2="0" y2="1"><stop offset="0" stop-color="#eb5c5f"/><stop offset=".191" stop-color="#eb5c5f"/><stop offset=".234" stop-color="#ffe066"/><stop offset=".278" stop-color="#2db8be"/><stop offset=".316" stop-color="#19aec9"/><stop offset=".440" stop-color="#18aeca"/><stop offset=".565" stop-color="#23b3c4"/><stop offset=".689" stop-color="#26b5c2"/><stop offset=".729" stop-color="#2db8be"/><stop offset=".814" stop-color="#b9d383"/><stop offset=".846" stop-color="#ffe066"/><stop offset=".939" stop-color="#ec5f5f"/><stop offset="1" stop-color="#ec5f5f"/></linearGradient><linearGradient id="m138" x1="0" y1="0" x2="0" y2="1"><stop offset="0" stop-color="#eb5c5f"/><stop offset=".191" stop-color="#eb5c5f"/><stop offset=".235" stop-color="#ffe066"/><stop offset=".278" stop-color="#2db8be"/><stop offset=".316" stop-color="#19afc9"/><stop offset=".440" stop-color="#19aeca"/><stop offset=".565" stop-color="#22b3c4"/><stop offset=".689" stop-color="#24b4c3"/><stop offset=".735" stop-color="#2db8be"/><stop offset=".814" stop-color="#b9d383"/><stop offset=".846" stop-color="#ffe066"/><stop offset=".939" stop-color="#ec5f5f"/><stop offset="1" stop-color="#ec5f5f"/></linearGradient><linearGradient id="m139" x1="0" y1="0" x2="0" y2="1"><stop offset="0" stop-color="#eb5c5f"/><stop offset=".191" stop-color="#eb5c5f"/><stop offset=".235" stop-color="#ffe066"/><stop offset=".279" stop-color="#2db8be"/><stop offset=".316" stop-color="#1aafc9"/><stop offset=".440" stop-color="#19aec9"/><stop offset=".565" stop-color="#21b2c5"/><stop offset=".689" stop-color="#22b3c4"/><stop offset=".741" stop-color="#2db8be"/><stop offset=".814" stop-color="#b9d383"/><stop offset=".846" stop-color="#ffe066"/><stop offset=".939" stop-color="#ec5f5f"/><stop offset="1" stop-color="#ec5f5f"/></linearGradient><linearGradient id="m140" x1="0" y1="0" x2="0" y2="1"><stop offset="0" stop-color="#eb5c5f"/><stop offset=".191" stop-color="#eb5c5f"/><stop offset=".235" stop-color="#ffe066"/><stop offset=".279" stop-color="#2db8be"/><stop offset=".316" stop-color="#1aafc9"/><stop offset=".440" stop-color="#19aec9"/><stop offset=".565" stop-color="#20b2c5"/><stop offset=".689" stop-color="#20b2c5"/><stop offset=".746" stop-color="#2db8be"/><stop offset=".814" stop-color="#b9d383"/><stop offset=".846" stop-color="#ffe066"/><stop offset=".939" stop-color="#ec5f5f"/><stop offset="1" stop-color="#ec5f5f"/></linearGradient><linearGradient id="m141" x1="0" y1="0" x2="0" y2="1"><stop offset="0" stop-color="#eb5c5f"/><stop offset=".191" stop-color="#eb5c5f"/><stop offset=".235" stop-color="#ffe066"/><stop offset=".279" stop-color="#2db8be"/><stop offset=".316" stop-color="#1aafc9"/><stop offset=".440" stop-color="#19aec9"/><stop offset=".565" stop-color="#21b2c5"/><stop offset=".689" stop-color="#21b2c5"/><stop offset=".737" stop-color="#2db8be"/><stop offset=".814" stop-color="#e8dc70"/><stop offset=".827" stop-color="#ffe066"/><stop offset=".939" stop-color="#ec5f5f"/><stop offset="1" stop-color="#ec5f5f"/></linearGradient><linearGradient id="m142" x1="0" y1="0" x2="0" y2="1"><stop offset="0" stop-color="#eb5c5f"/><stop offset=".191" stop-color="#eb5c5f"/><stop offset=".234" stop-color="#ffe066"/><stop offset=".277" stop-color="#2db8be"/><stop offset=".316" stop-color="#19aec9"/><stop offset=".440" stop-color="#18aeca"/><stop offset=".565" stop-color="#23b3c4"/><stop offset=".689" stop-color="#22b3c4"/><stop offset=".725" stop-color="#2db8be"/><stop offset=".798" stop-color="#ffe066"/><stop offset=".814" stop-color="#fbc364"/><stop offset=".939" stop-color="#ec5f5f"/><stop offset="1" stop-color="#ec5f5f"/></linearGradient><linearGradient id="m143" x1="0" y1="0" x2="0" y2="1"><stop offset="0" stop-color="#eb5c5f"/><stop offset=".191" stop-color="#eb5c5f"/><stop offset=".234" stop-color="#ffe066"/><stop offset=".276" stop-color="#2db8be"/><stop offset=".316" stop-color="#18aeca"/><stop offset=".440" stop-color="#18aeca"/><stop offset=".565" stop-color="#25b4c3"/><stop offset=".689" stop-color="#23b3c3"/><stop offset=".716" stop-color="#2db8be"/><stop offset=".779" stop-color="#ffe066"/><stop offset=".814" stop-color="#f49762"/><stop offset=".939" stop-color="#ec5f5f"/><stop offset="1" stop-color="#ec5f5f"/></linearGradient><linearGradient id="m144" x1="0" y1="0" x2="0" y2="1"><stop offset="0" stop-color="#eb5c5f"/><stop offset=".191" stop-color="#eb5c5f"/><stop offset=".233" stop-color="#ffe066"/><stop offset=".275" stop-color="#2db8be"/><stop offset=".316" stop-color="#17adca"/><stop offset=".440" stop-color="#18aeca"/><stop offset=".565" stop-color="#27b5c2"/><stop offset=".689" stop-color="#25b4c3"/><stop offset=".710" stop-color="#2db8be"/><stop offset=".765" stop-color="#ffe066"/><stop offset=".814" stop-color="#ed6b60"/><stop offset=".939" stop-color="#ec5e5f"/><stop offset="1" stop-color="#ec5e5f"/></linearGradient><linearGradient id="m145" x1="0" y1="0" x2="0" y2="1"><stop offset="0" stop-color="#eb5c5f"/><stop offset=".191" stop-color="#eb5c5f"/><stop offset=".233" stop-color="#ffe066"/><stop offset=".276" stop-color="#2db8be"/><stop offset=".316" stop-color="#17aeca"/><stop offset=".440" stop-color="#17aeca"/><stop offset=".565" stop-color="#29b6c0"/><stop offset=".689" stop-color="#25b4c2"/><stop offset=".707" stop-color="#2db8be"/><stop offset=".761" stop-color="#ffe066"/><stop offset=".814" stop-color="#eb5d5f"/><stop offset="1" stop-color="#eb5e5f"/></linearGradient><linearGradient id="m146" x1="0" y1="0" x2="0" y2="1"><stop offset="0" stop-color="#eb5c5f"/><stop offset=".191" stop-color="#eb5c5f"/><stop offset=".234" stop-color="#ffe066"/><stop offset=".276" stop-color="#2db8be"/><stop offset=".316" stop-color="#18aeca"/><stop offset=".440" stop-color="#17aeca"/><stop offset=".565" stop-color="#2db8be"/><stop offset=".689" stop-color="#25b4c2"/><stop offset=".707" stop-color="#2db8be"/><stop offset=".761" stop-color="#ffe066"/><stop offset=".814" stop-color="#eb5d5f"/><stop offset="1" stop-color="#eb5e5f"/></linearGradient><linearGradient id="m147" x1="0" y1="0" x2="0" y2="1"><stop offset="0" stop-color="#eb5c5f"/><stop offset=".191" stop-color="#eb5c5f"/><stop offset=".234" stop-color="#ffe066"/><stop offset=".277" stop-color="#2db8be"/><stop offset=".316" stop-color="#19aeca"/><stop offset=".440" stop-color="#17aeca"/><stop offset=".550" stop-color="#2db8be"/><stop offset=".565" stop-color="#48bdb3"/><stop offset=".601" stop-color="#2db8be"/><stop offset=".689" stop-color="#26b4c2"/><stop offset=".707" stop-color="#2db8be"/><stop offset=".761" stop-color="#ffe066"/><stop offset=".814" stop-color="#eb5d5f"/><stop offset="1" stop-color="#eb5e5f"/></linearGradient><linearGradient id="m148" x1="0" y1="0" x2="0" y2="1"><stop offset="0" stop-color="#eb5c5f"/><stop offset=".191" stop-color="#eb5c5f"/><stop offset=".234" stop-color="#ffe066"/><stop offset=".278" stop-color="#2db8be"/><stop offset=".316" stop-color="#19afc9"/><stop offset=".440" stop-color="#17aeca"/><stop offset=".537" stop-color="#2db8be"/><stop offset=".565" stop-color="#66c3a6"/><stop offset=".623" stop-color="#2db8be"/><stop offset=".689" stop-color="#26b5c2"/><stop offset=".706" stop-color="#2db8be"/><stop offset=".761" stop-color="#ffe066"/><stop offset=".814" stop-color="#eb5d5f"/><stop offset="1" stop-color="#eb5e5f"/></linearGradient><linearGradient id="m149" x1="0" y1="0" x2="0" y2="1"><stop offset="0" stop-color="#eb5c5f"/><stop offset=".191" stop-color="#eb5c5f"/><stop offset=".235" stop-color="#ffe066"/><stop offset=".278" stop-color="#2db8be"/><stop offset=".316" stop-color="#19afc9"/><stop offset=".440" stop-color="#17aeca"/><stop offset=".539" stop-color="#2db8be"/><stop offset=".565" stop-color="#61c2a8"/><stop offset=".619" stop-color="#2db8be"/><stop offset=".689" stop-color="#26b4c2"/><stop offset=".707" stop-color="#2db8be"/><stop offset=".761" stop-color="#ffe066"/><stop offset=".814" stop-color="#eb5d5f"/><stop offset="1" stop-color="#eb5e5f"/></linearGradient><linearGradient id="m150" x1="0" y1="0" x2="0" y2="1"><stop offset="0" stop-color="#eb5c5f"/><stop offset=".191" stop-color="#eb5c5f"/><stop offset=".234" stop-color="#ffe066"/><stop offset=".278" stop-color="#2db8be"/><stop offset=".316" stop-color="#19afc9"/><stop offset=".440" stop-color="#18aeca"/><stop offset=".548" stop-color="#2db8be"/><stop offset=".565" stop-color="#4bbeb1"/><stop offset=".602" stop-color="#2db8be"/><stop offset=".689" stop-color="#25b4c2"/><stop offset=".707" stop-color="#2db8be"/><stop offset=".761" stop-color="#ffe066"/><stop offset=".814" stop-color="#eb5d5f"/><stop offset="1" stop-color="#eb5e5f"/></linearGradient><linearGradient id="m151" x1="0" y1="0" x2="0" y2="1"><stop offset="0" stop-color="#eb5c5f"/><stop offset=".191" stop-color="#eb5c5f"/><stop offset=".234" stop-color="#ffe066"/><stop offset=".278" stop-color="#2db8be"/><stop offset=".316" stop-color="#19aec9"/><stop offset=".440" stop-color="#18aeca"/><stop offset=".560" stop-color="#2db8be"/><stop offset=".565" stop-color="#35babb"/><stop offset=".578" stop-color="#2db8be"/><stop offset=".689" stop-color="#25b4c3"/><stop offset=".708" stop-color="#2db8be"/><stop offset=".761" stop-color="#ffe066"/><stop offset=".814" stop-color="#eb5d5f"/><stop offset="1" stop-color="#eb5e5f"/></linearGradient><linearGradient id="m152" x1="0" y1="0" x2="0" y2="1"><stop offset="0" stop-color="#eb5c5f"/><stop offset=".191" stop-color="#eb5c5f"/><stop offset=".234" stop-color="#ffe066"/><stop offset=".278" stop-color="#2db8be"/><stop offset=".316" stop-color="#19aec9"/><stop offset=".440" stop-color="#18aeca"/><stop offset=".565" stop-color="#2bb7bf"/><stop offset=".689" stop-color="#25b4c3"/><stop offset=".709" stop-color="#2db8be"/><stop offset=".762" stop-color="#ffe066"/><stop offset=".814" stop-color="#eb5d5f"/><stop offset="1" stop-color="#eb5e5f"/></linearGradient><linearGradient id="m153" x1="0" y1="0" x2="0" y2="1"><stop offset="0" stop-color="#eb5b5f"/><stop offset=".191" stop-color="#eb5c5f"/><stop offset=".234" stop-color="#ffe066"/><stop offset=".277" stop-color="#2db8be"/><stop offset=".316" stop-color="#19aeca"/><stop offset=".440" stop-color="#18aeca"/><stop offset=".565" stop-color="#2bb7bf"/><stop offset=".689" stop-color="#25b4c3"/><stop offset=".709" stop-color="#2db8be"/><stop offset=".762" stop-color="#ffe066"/><stop offset=".814" stop-color="#eb5d5f"/><stop offset="1" stop-color="#eb5e5f"/></linearGradient><linearGradient id="m154" x1="0" y1="0" x2="0" y2="1"><stop offset="0" stop-color="#eb5b5f"/><stop offset=".191" stop-color="#eb5c5f"/><stop offset=".234" stop-color="#ffe066"/><stop offset=".277" stop-color="#2db8be"/><stop offset=".316" stop-color="#18aeca"/><stop offset=".440" stop-color="#18aeca"/><stop offset=".565" stop-color="#2cb7bf"/><stop offset=".689" stop-color="#25b4c3"/><stop offset=".708" stop-color="#2db8be"/><stop offset=".762" stop-color="#ffe066"/><stop offset=".814" stop-color="#eb5d5f"/><stop offset="1" stop-color="#eb5e5f"/></linearGradient><linearGradient id="m155" x1="0" y1="0" x2="0" y2="1"><stop offset="0" stop-color="#eb5b5f"/><stop offset=".191" stop-color="#eb5c5f"/><stop offset=".234" stop-color="#ffe066"/><stop offset=".276" stop-color="#2db8be"/><stop offset=".316" stop-color="#18aeca"/><stop offset=".440" stop-color="#18aeca"/><stop offset=".565" stop-color="#2db8be"/><stop offset=".689" stop-color="#25b4c3"/><stop offset=".708" stop-color="#2db8be"/><stop offset=".761" stop-color="#ffe066"/><stop offset=".814" stop-color="#eb5d5f"/><stop offset="1" stop-color="#eb5e5f"/></linearGradient><linearGradient id="m156" x1="0" y1="0" x2="0" y2="1"><stop offset="0" stop-color="#eb5b5f"/><stop offset=".191" stop-color="#eb5c5f"/><stop offset=".233" stop-color="#ffe066"/><stop offset=".276" stop-color="#2db8be"/><stop offset=".316" stop-color="#17aeca"/><stop offset=".440" stop-color="#18aeca"/><stop offset=".564" stop-color="#2db8be"/><stop offset=".565" stop-color="#2fb8bd"/><stop offset=".568" stop-color="#2db8be"/><stop offset=".689" stop-color="#25b4c2"/><stop offset=".708" stop-color="#2db8be"/><stop offset=".761" stop-color="#ffe066"/><stop offset=".814" stop-color="#eb5d5f"/><stop offset="1" stop-color="#eb5e5f"/></linearGradient><linearGradient id="m157" x1="0" y1="0" x2="0" y2="1"><stop offset="0" stop-color="#eb5b5f"/><stop offset=".191" stop-color="#eb5c5f"/><stop offset=".234" stop-color="#ffe066"/><stop offset=".276" stop-color="#2db8be"/><stop offset=".316" stop-color="#18aeca"/><stop offset=".440" stop-color="#19aeca"/><stop offset=".565" stop-color="#2db8be"/><stop offset=".689" stop-color="#25b4c3"/><stop offset=".708" stop-color="#2db8be"/><stop offset=".761" stop-color="#ffe066"/><stop offset=".814" stop-color="#eb5d5f"/><stop offset="1" stop-color="#eb5e5f"/></linearGradient><linearGradient id="m158" x1="0" y1="0" x2="0" y2="1"><stop offset="0" stop-color="#eb5b5f"/><stop offset=".191" stop-color="#eb5c5f"/><stop offset=".234" stop-color="#ffe066"/><stop offset=".277" stop-color="#2db8be"/><stop offset=".316" stop-color="#18aeca"/><stop offset=".440" stop-color="#19aec9"/><stop offset=".565" stop-color="#2cb8be"/><stop offset=".689" stop-color="#25b4c3"/><stop offset=".709" stop-color="#2db8be"/><stop offset=".762" stop-color="#ffe066"/><stop offset=".814" stop-color="#eb5d5f"/><stop offset="1" stop-color="#eb5e5f"/></linearGradient><linearGradient id="m159" x1="0" y1="0" x2="0" y2="1"><stop offset="0" stop-color="#eb5b5f"/><stop offset=".191" stop-color="#eb5c5f"/><stop offset=".234" stop-color="#ffe066"/><stop offset=".278" stop-color="#2db8be"/><stop offset=".316" stop-color="#19aec9"/><stop offset=".440" stop-color="#19aec9"/><stop offset=".565" stop-color="#2cb7bf"/><stop offset=".689" stop-color="#24b4c3"/><stop offset=".709" stop-color="#2db8be"/><stop offset=".762" stop-color="#ffe066"/><stop offset=".814" stop-color="#eb5d5f"/><stop offset="1" stop-color="#eb5e5f"/></linearGradient><linearGradient id="m160" x1="0" y1="0" x2="0" y2="1"><stop offset="0" stop-color="#eb5b5f"/><stop offset=".191" stop-color="#eb5c5f"/><stop offset=".235" stop-color="#ffe066"/><stop offset=".279" stop-color="#2db8be"/><stop offset=".316" stop-color="#1aafc9"/><stop offset=".440" stop-color="#19afc9"/><stop offset=".565" stop-color="#2bb7bf"/><stop offset=".689" stop-color="#24b4c3"/><stop offset=".710" stop-color="#2db8be"/><stop offset=".762" stop-color="#ffe066"/><stop offset=".814" stop-color="#eb5d5f"/><stop offset="1" stop-color="#eb5e5f"/></linearGradient><linearGradient id="m161" x1="0" y1="0" x2="0" y2="1"><stop offset="0" stop-color="#eb5b5f"/><stop offset=".191" stop-color="#eb5c5f"/><stop offset=".235" stop-color="#ffe066"/><stop offset=".279" stop-color="#2db8be"/><stop offset=".316" stop-color="#1aafc9"/><stop offset=".440" stop-color="#19afc9"/><stop offset=".565" stop-color="#2bb7bf"/><stop offset=".689" stop-color="#24b4c3"/><stop offset=".710" stop-color="#2db8be"/><stop offset=".762" stop-color="#ffe066"/><stop offset=".814" stop-color="#eb5d5f"/><stop offset="1" stop-color="#eb5d5f"/></linearGradient><linearGradient id="m162" x1="0" y1="0" x2="0" y2="1"><stop offset="0" stop-color="#eb5b5f"/><stop offset=".191" stop-color="#eb5c5f"/><stop offset=".234" stop-color="#ffe066"/><stop offset=".278" stop-color="#2db8be"/><stop offset=".316" stop-color="#19aec9"/><stop offset=".440" stop-color="#19aec9"/><stop offset=".565" stop-color="#2cb7bf"/><stop offset=".689" stop-color="#24b4c3"/><stop offset=".709" stop-color="#2db8be"/><stop offset=".762" stop-color="#ffe066"/><stop offset=".814" stop-color="#eb5d5f"/><stop offset="1" stop-color="#eb5d5f"/></linearGradient><linearGradient id="m163" x1="0" y1="0" x2="0" y2="1"><stop offset="0" stop-color="#eb5b5f"/><stop offset=".191" stop-color="#eb5c5f"/><stop offset=".234" stop-color="#ffe066"/><stop offset=".277" stop-color="#2db8be"/><stop offset=".316" stop-color="#19aeca"/><stop offset=".440" stop-color="#18aeca"/><stop offset=".565" stop-color="#2db8be"/><stop offset=".689" stop-color="#25b4c3"/><stop offset=".709" stop-color="#2db8be"/><stop offset=".762" stop-color="#ffe066"/><stop offset=".814" stop-color="#eb5d5f"/><stop offset="1" stop-color="#eb5d5f"/></linearGradient><linearGradient id="m164" x1="0" y1="0" x2="0" y2="1"><stop offset="0" stop-color="#eb5b5f"/><stop offset=".191" stop-color="#eb5c5f"/><stop offset=".234" stop-color="#ffe066"/><stop offset=".277" stop-color="#2db8be"/><stop offset=".316" stop-color="#18aeca"/><stop offset=".440" stop-color="#18aeca"/><stop offset=".564" stop-color="#2db8be"/><stop offset=".565" stop-color="#2fb8bd"/><stop offset=".568" stop-color="#2db8be"/><stop offset=".689" stop-color="#25b4c2"/><stop offset=".708" stop-color="#2db8be"/><stop offset=".761" stop-color="#ffe066"/><stop offset=".814" stop-color="#eb5d5f"/><stop offset="1" stop-color="#eb5d5f"/></linearGradient><linearGradient id="m165" x1="0" y1="0" x2="0" y2="1"><stop offset="0" stop-color="#eb5b5f"/><stop offset=".191" stop-color="#eb5c5f"/><stop offset=".234" stop-color="#ffe066"/><stop offset=".276" stop-color="#2db8be"/><stop offset=".316" stop-color="#18aeca"/><stop offset=".440" stop-color="#18aeca"/><stop offset=".565" stop-color="#2db8be"/><stop offset=".689" stop-color="#25b4c2"/><stop offset=".708" stop-color="#2db8be"/><stop offset=".761" stop-color="#ffe066"/><stop offset=".814" stop-color="#eb5d5f"/><stop offset="1" stop-color="#eb5d5f"/></linearGradient><linearGradient id="m166" x1="0" y1="0" x2="0" y2="1"><stop offset="0" stop-color="#eb5b5f"/><stop offset=".191" stop-color="#eb5c5f"/><stop offset=".233" stop-color="#ffe066"/><stop offset=".276" stop-color="#2db8be"/><stop offset=".316" stop-color="#17aeca"/><stop offset=".440" stop-color="#17aeca"/><stop offset=".565" stop-color="#2cb8be"/><stop offset=".689" stop-color="#25b4c3"/><stop offset=".708" stop-color="#2db8be"/><stop offset=".762" stop-color="#ffe066"/><stop offset=".814" stop-color="#eb5d5f"/><stop offset="1" stop-color="#eb5d5f"/></linearGradient><linearGradient id="m167" x1="0" y1="0" x2="0" y2="1"><stop offset="0" stop-color="#eb5b5f"/><stop offset=".191" stop-color="#eb5c5f"/><stop offset=".233" stop-color="#ffe066"/><stop offset=".276" stop-color="#2db8be"/><stop offset=".316" stop-color="#17aeca"/><stop offset=".440" stop-color="#17adca"/><stop offset=".565" stop-color="#2cb7bf"/><stop offset=".689" stop-color="#25b4c3"/><stop offset=".709" stop-color="#2db8be"/><stop offset=".762" stop-color="#ffe066"/><stop offset=".814" stop-color="#eb5d5f"/><stop offset="1" stop-color="#eb5d5f"/></linearGradient><linearGradient id="m168" x1="0" y1="0" x2="0" y2="1"><stop offset="0" stop-color="#eb5b5f"/><stop offset=".191" stop-color="#eb5c5f"/><stop offset=".233" stop-color="#ffe066"/><stop offset=".275" stop-color="#2db8be"/><stop offset=".316" stop-color="#17adcb"/><stop offset=".440" stop-color="#17adcb"/><stop offset=".565" stop-color="#2bb7bf"/><stop offset=".689" stop-color="#25b4c3"/><stop offset=".709" stop-color="#2db8be"/><stop offset=".762" stop-color="#ffe066"/><stop offset=".814" stop-color="#eb5d5f"/><stop offset="1" stop-color="#eb5e5f"/></linearGradient><linearGradient id="m169" x1="0" y1="0" x2="0" y2="1"><stop offset="0" stop-color="#eb5b5f"/><stop offset=".191" stop-color="#eb5c5f"/><stop offset=".233" stop-color="#ffe066"/><stop offset=".276" stop-color="#2db8be"/><stop offset=".316" stop-color="#17aeca"/><stop offset=".440" stop-color="#17adcb"/><stop offset=".565" stop-color="#2ab7bf"/><stop offset=".689" stop-color="#25b4c3"/><stop offset=".709" stop-color="#2db8be"/><stop offset=".762" stop-color="#ffe066"/><stop offset=".814" stop-color="#eb5d5f"/><stop offset="1" stop-color="#eb5e5f"/></linearGradient><linearGradient id="m170" x1="0" y1="0" x2="0" y2="1"><stop offset="0" stop-color="#eb5b5f"/><stop offset=".191" stop-color="#eb5c5f"/><stop offset=".234" stop-color="#ffe066"/><stop offset=".277" stop-color="#2db8be"/><stop offset=".316" stop-color="#18aeca"/><stop offset=".440" stop-color="#17adca"/><stop offset=".565" stop-color="#2ab7c0"/><stop offset=".689" stop-color="#25b4c3"/><stop offset=".708" stop-color="#2db8be"/><stop offset=".762" stop-color="#ffe066"/><stop offset=".814" stop-color="#eb5d5f"/><stop offset="1" stop-color="#eb5e5f"/></linearGradient><linearGradient id="m171" x1="0" y1="0" x2="0" y2="1"><stop offset="0" stop-color="#eb5b5f"/><stop offset=".191" stop-color="#eb5c5f"/><stop offset=".234" stop-color="#ffe066"/><stop offset=".278" stop-color="#2db8be"/><stop offset=".316" stop-color="#19aec9"/><stop offset=".440" stop-color="#17aeca"/><stop offset=".565" stop-color="#2ab6c0"/><stop offset=".689" stop-color="#25b4c3"/><stop offset=".708" stop-color="#2db8be"/><stop offset=".761" stop-color="#ffe066"/><stop offset=".814" stop-color="#eb5d5f"/><stop offset="1" stop-color="#eb5e5f"/></linearGradient><linearGradient id="m172" x1="0" y1="0" x2="0" y2="1"><stop offset="0" stop-color="#eb5b5f"/><stop offset=".191" stop-color="#eb5c5f"/><stop offset=".235" stop-color="#ffe066"/><stop offset=".279" stop-color="#2db8be"/><stop offset=".316" stop-color="#1aafc9"/><stop offset=".440" stop-color="#17aeca"/><stop offset=".565" stop-color="#29b6c0"/><stop offset=".689" stop-color="#25b4c2"/><stop offset=".708" stop-color="#2db8be"/><stop offset=".761" stop-color="#ffe066"/><stop offset=".814" stop-color="#eb5d5f"/><stop offset="1" stop-color="#eb5d5f"/></linearGradient><linearGradient id="m173" x1="0" y1="0" x2="0" y2="1"><stop offset="0" stop-color="#eb5b5f"/><stop offset=".191" stop-color="#eb5c5f"/><stop offset=".235" stop-color="#ffe066"/><stop offset=".279" stop-color="#2db8be"/><stop offset=".316" stop-color="#1aafc9"/><stop offset=".440" stop-color="#18aeca"/><stop offset=".565" stop-color="#2ab6c0"/><stop offset=".689" stop-color="#25b4c3"/><stop offset=".708" stop-color="#2db8be"/><stop offset=".761" stop-color="#ffe066"/><stop offset=".814" stop-color="#eb5d5f"/><stop offset="1" stop-color="#eb5d5f"/></linearGradient><linearGradient id="m174" x1="0" y1="0" x2="0" y2="1"><stop offset="0" stop-color="#eb5b5f"/><stop offset=".191" stop-color="#eb5c5f"/><stop offset=".234" stop-color="#ffe066"/><stop offset=".278" stop-color="#2db8be"/><stop offset=".316" stop-color="#19aec9"/><stop offset=".440" stop-color="#18aeca"/><stop offset=".565" stop-color="#2ab7bf"/><stop offset=".689" stop-color="#25b4c3"/><stop offset=".709" stop-color="#2db8be"/><stop offset=".762" stop-color="#ffe066"/><stop offset=".814" stop-color="#eb5d5f"/><stop offset="1" stop-color="#eb5d5f"/></linearGradient><linearGradient id="m175" x1="0" y1="0" x2="0" y2="1"><stop offset="0" stop-color="#eb5b5f"/><stop offset=".191" stop-color="#eb5c5f"/><stop offset=".234" stop-color="#ffe066"/><stop offset=".277" stop-color="#2db8be"/><stop offset=".316" stop-color="#19aeca"/><stop offset=".440" stop-color="#18aeca"/><stop offset=".565" stop-color="#2bb7bf"/><stop offset=".689" stop-color="#24b4c3"/><stop offset=".709" stop-color="#2db8be"/><stop offset=".762" stop-color="#ffe066"/><stop offset=".814" stop-color="#eb5d5f"/><stop offset="1" stop-color="#eb5d5f"/></linearGradient><linearGradient id="m176" x1="0" y1="0" x2="0" y2="1"><stop offset="0" stop-color="#eb5b5f"/><stop offset=".191" stop-color="#eb5c5f"/><stop offset=".234" stop-color="#ffe066"/><stop offset=".277" stop-color="#2db8be"/><stop offset=".316" stop-color="#18aeca"/><stop offset=".440" stop-color="#19aeca"/><stop offset=".565" stop-color="#2cb7bf"/><stop offset=".689" stop-color="#24b4c3"/><stop offset=".710" stop-color="#2db8be"/><stop offset=".762" stop-color="#ffe066"/><stop offset=".814" stop-color="#eb5d5f"/><stop offset="1" stop-color="#eb5d5f"/></linearGradient><linearGradient id="m177" x1="0" y1="0" x2="0" y2="1"><stop offset="0" stop-color="#eb5b5f"/><stop offset=".191" stop-color="#eb5c5f"/><stop offset=".234" stop-color="#ffe066"/><stop offset=".276" stop-color="#2db8be"/><stop offset=".316" stop-color="#18aeca"/><stop offset=".440" stop-color="#19aeca"/><stop offset=".565" stop-color="#2db8be"/><stop offset=".689" stop-color="#24b4c3"/><stop offset=".710" stop-color="#2db8be"/><stop offset=".762" stop-color="#ffe066"/><stop offset=".814" stop-color="#eb5d5f"/><stop offset="1" stop-color="#eb5d5f"/></linearGradient><linearGradient id="m178" x1="0" y1="0" x2="0" y2="1"><stop offset="0" stop-color="#eb5b5f"/><stop offset=".191" stop-color="#eb5c5f"/><stop offset=".233" stop-color="#ffe066"/><stop offset=".276" stop-color="#2db8be"/><stop offset=".316" stop-color="#18aeca"/><stop offset=".440" stop-color="#18aeca"/><stop offset=".564" stop-color="#2db8be"/><stop offset=".565" stop-color="#2fb8bd"/><stop offset=".568" stop-color="#2db8be"/><stop offset=".689" stop-color="#25b4c3"/><stop offset=".709" stop-color="#2db8be"/><stop offset=".762" stop-color="#ffe066"/><stop offset=".814" stop-color="#eb5d5f"/><stop offset="1" stop-color="#eb5d5f"/></linearGradient><linearGradient id="m179" x1="0" y1="0" x2="0" y2="1"><stop offset="0" stop-color="#eb5b5f"/><stop offset=".191" stop-color="#eb5c5f"/><stop offset=".233" stop-color="#ffe066"/><stop offset=".276" stop-color="#2db8be"/><stop offset=".316" stop-color="#17aeca"/><stop offset=".440" stop-color="#18aeca"/><stop offset=".560" stop-color="#2db8be"/><stop offset=".565" stop-color="#35baba"/><stop offset=".578" stop-color="#2db8be"/><stop offset=".689" stop-color="#25b4c2"/><stop offset=".708" stop-color="#2db8be"/><stop offset=".761" stop-color="#ffe066"/><stop offset=".814" stop-color="#eb5d5f"/><stop offset="1" stop-color="#eb5d5f"/></linearGradient><linearGradient id="m180" x1="0" y1="0" x2="0" y2="1"><stop offset="0" stop-color="#eb5b5f"/><stop offset=".191" stop-color="#eb5c5f"/><stop offset=".233" stop-color="#ffe066"/><stop offset=".276" stop-color="#2db8be"/><stop offset=".316" stop-color="#17aeca"/><stop offset=".440" stop-color="#18aeca"/><stop offset=".556" stop-color="#2db8be"/><stop offset=".565" stop-color="#3cbbb8"/><stop offset=".587" stop-color="#2db8be"/><stop offset=".689" stop-color="#26b5c2"/><stop offset=".707" stop-color="#2db8be"/><stop offset=".761" stop-color="#ffe066"/><stop offset=".814" stop-color="#eb5d5f"/><stop offset="1" stop-color="#eb5d5f"/></linearGradient><linearGradient id="m181" x1="0" y1="0" x2="0" y2="1"><stop offset="0" stop-color="#eb5b5f"/><stop offset=".191" stop-color="#eb5c5f"/><stop offset=".233" stop-color="#ffe066"/><stop offset=".276" stop-color="#2db8be"/><stop offset=".316" stop-color="#17aeca"/><stop offset=".440" stop-color="#18aeca"/><stop offset=".560" stop-color="#2db8be"/><stop offset=".565" stop-color="#35baba"/><stop offset=".579" stop-color="#2db8be"/><stop offset=".689" stop-color="#26b4c2"/><stop offset=".707" stop-color="#2db8be"/><stop offset=".761" stop-color="#ffe066"/><stop offset=".814" stop-color="#eb5d5f"/><stop offset="1" stop-color="#eb5d5f"/></linearGradient><linearGradient id="m182" x1="0" y1="0" x2="0" y2="1"><stop offset="0" stop-color="#eb5b5f"/><stop offset=".191" stop-color="#eb5c5f"/><stop offset=".233" stop-color="#ffe066"/><stop offset=".275" stop-color="#2db8be"/><stop offset=".316" stop-color="#17aeca"/><stop offset=".440" stop-color="#18aeca"/><stop offset=".565" stop-color="#2db8be"/><stop offset=".689" stop-color="#25b4c2"/><stop offset=".707" stop-color="#2db8be"/><stop offset=".761" stop-color="#ffe066"/><stop offset=".814" stop-color="#eb5d5f"/><stop offset="1" stop-color="#eb5d5f"/></linearGradient><linearGradient id="m183" x1="0" y1="0" x2="0" y2="1"><stop offset="0" stop-color="#eb5b5f"/><stop offset=".191" stop-color="#eb5c5f"/><stop offset=".233" stop-color="#ffe066"/><stop offset=".275" stop-color="#2db8be"/><stop offset=".316" stop-color="#17adca"/><stop offset=".440" stop-color="#17aeca"/><stop offset=".565" stop-color="#2bb7bf"/><stop offset=".689" stop-color="#25b4c3"/><stop offset=".708" stop-color="#2db8be"/><stop offset=".761" stop-color="#ffe066"/><stop offset=".814" stop-color="#eb5d5f"/><stop offset="1" stop-color="#eb5d5f"/></linearGradient><linearGradient id="m184" x1="0" y1="0" x2="0" y2="1"><stop offset="0" stop-color="#eb5b5f"/><stop offset=".191" stop-color="#eb5c5f"/><stop offset=".233" stop-color="#ffe066"/><stop offset=".275" stop-color="#2db8be"/><stop offset=".316" stop-color="#17adcb"/><stop offset=".440" stop-color="#17aeca"/><stop offset=".565" stop-color="#2ab6c0"/><stop offset=".689" stop-color="#25b4c3"/><stop offset=".709" stop-color="#2db8be"/><stop offset=".762" stop-color="#ffe066"/><stop offset=".814" stop-color="#eb5d5f"/><stop offset="1" stop-color="#eb5d5f"/></linearGradient><linearGradient id="m185" x1="0" y1="0" x2="0" y2="1"><stop offset="0" stop-color="#eb5b5f"/><stop offset=".191" stop-color="#eb5c5f"/><stop offset=".233" stop-color="#ffe066"/><stop offset=".276" stop-color="#2db8be"/><stop offset=".316" stop-color="#17aeca"/><stop offset=".440" stop-color="#17aeca"/><stop offset=".565" stop-color="#2ab6c0"/><stop offset=".689" stop-color="#24b4c3"/><stop offset=".709" stop-color="#2db8be"/><stop offset=".762" stop-color="#ffe066"/><stop offset=".814" stop-color="#eb5d5f"/><stop offset="1" stop-color="#eb5d5f"/></linearGradient><linearGradient id="m186" x1="0" y1="0" x2="0" y2="1"><stop offset="0" stop-color="#eb5b5f"/><stop offset=".191" stop-color="#eb5c5f"/><stop offset=".234" stop-color="#ffe066"/><stop offset=".276" stop-color="#2db8be"/><stop offset=".316" stop-color="#18aeca"/><stop offset=".440" stop-color="#17aeca"/><stop offset=".565" stop-color="#2ab7bf"/><stop offset=".689" stop-color="#24b4c3"/><stop offset=".710" stop-color="#2db8be"/><stop offset=".762" stop-color="#ffe066"/><stop offset=".814" stop-color="#eb5d5f"/><stop offset="1" stop-color="#eb5d5f"/></linearGradient><linearGradient id="m187" x1="0" y1="0" x2="0" y2="1"><stop offset="0" stop-color="#eb5b5f"/><stop offset=".191" stop-color="#eb5c5f"/><stop offset=".234" stop-color="#ffe066"/><stop offset=".277" stop-color="#2db8be"/><stop offset=".316" stop-color="#19aeca"/><stop offset=".440" stop-color="#18aeca"/><stop offset=".565" stop-color="#2bb7bf"/><stop offset=".689" stop-color="#24b3c3"/><stop offset=".711" stop-color="#2db8be"/><stop offset=".763" stop-color="#ffe066"/><stop offset=".814" stop-color="#eb5d5f"/><stop offset="1" stop-color="#eb5d5f"/></linearGradient><linearGradient id="m188" x1="0" y1="0" x2="0" y2="1"><stop offset="0" stop-color="#eb5b5f"/><stop offset=".191" stop-color="#eb5c5f"/><stop offset=".235" stop-color="#ffe066"/><stop offset=".278" stop-color="#2db8be"/><stop offset=".316" stop-color="#19afc9"/><stop offset=".440" stop-color="#18aeca"/><stop offset=".565" stop-color="#2cb7bf"/><stop offset=".689" stop-color="#23b3c4"/><stop offset=".711" stop-color="#2db8be"/><stop offset=".763" stop-color="#ffe066"/><stop offset=".814" stop-color="#eb5d5f"/><stop offset="1" stop-color="#eb5c5f"/></linearGradient><linearGradient id="m189" x1="0" y1="0" x2="0" y2="1"><stop offset="0" stop-color="#eb5b5f"/><stop offset=".191" stop-color="#eb5c5f"/><stop offset=".235" stop-color="#ffe066"/><stop offset=".278" stop-color="#2db8be"/><stop offset=".316" stop-color="#19afc9"/><stop offset=".440" stop-color="#18aeca"/><stop offset=".565" stop-color="#2cb8be"/><stop offset=".689" stop-color="#23b3c3"/><stop offset=".711" stop-color="#2db8be"/><stop offset=".763" stop-color="#ffe066"/><stop offset=".814" stop-color="#eb5d5f"/><stop offset="1" stop-color="#eb5c5f"/></linearGradient><linearGradient id="m190" x1="0" y1="0" x2="0" y2="1"><stop offset="0" stop-color="#eb5b5f"/><stop offset=".191" stop-color="#eb5c5f"/><stop offset=".235" stop-color="#ffe066"/><stop offset=".278" stop-color="#2db8be"/><stop offset=".316" stop-color="#19afc9"/><stop offset=".440" stop-color="#18aeca"/><stop offset=".565" stop-color="#2db8be"/><stop offset=".689" stop-color="#24b4c3"/><stop offset=".710" stop-color="#2db8be"/><stop offset=".762" stop-color="#ffe066"/><stop offset=".814" stop-color="#eb5d5f"/><stop offset="1" stop-color="#eb5c5f"/></linearGradient><linearGradient id="m191" x1="0" y1="0" x2="0" y2="1"><stop offset="0" stop-color="#eb5b5f"/><stop offset=".191" stop-color="#eb5c5f"/><stop offset=".235" stop-color="#ffe066"/><stop offset=".278" stop-color="#2db8be"/><stop offset=".316" stop-color="#19afc9"/><stop offset=".440" stop-color="#18aeca"/><stop offset=".565" stop-color="#2db8be"/><stop offset=".689" stop-color="#24b4c3"/><stop offset=".709" stop-color="#2db8be"/><stop offset=".762" stop-color="#ffe066"/><stop offset=".814" stop-color="#eb5d5f"/><stop offset="1" stop-color="#eb5c5f"/></linearGradient><linearGradient id="m192" x1="0" y1="0" x2="0" y2="1"><stop offset="0" stop-color="#eb5b5f"/><stop offset=".191" stop-color="#eb5c5f"/><stop offset=".235" stop-color="#ffe066"/><stop offset=".278" stop-color="#2db8be"/><stop offset=".316" stop-color="#19aec9"/><stop offset=".440" stop-color="#18aeca"/><stop offset=".563" stop-color="#2db8be"/><stop offset=".565" stop-color="#30b9bd"/><stop offset=".570" stop-color="#2db8be"/><stop offset=".689" stop-color="#25b4c3"/><stop offset=".708" stop-color="#2db8be"/><stop offset=".761" stop-color="#ffe066"/><stop offset=".814" stop-color="#eb5d5f"/><stop offset="1" stop-color="#eb5c5f"/></linearGradient><linearGradient id="m193" x1="0" y1="0" x2="0" y2="1"><stop offset="0" stop-color="#eb5b5f"/><stop offset=".191" stop-color="#eb5c5f"/><stop offset=".234" stop-color="#ffe066"/><stop offset=".278" stop-color="#2db8be"/><stop offset=".316" stop-color="#19aec9"/><stop offset=".440" stop-color="#18aeca"/><stop offset=".565" stop-color="#2db8be"/><stop offset=".689" stop-color="#25b4c2"/><stop offset=".708" stop-color="#2db8be"/><stop offset=".761" stop-color="#ffe066"/><stop offset=".814" stop-color="#eb5d5f"/><stop offset="1" stop-color="#eb5c5f"/></linearGradient><linearGradient id="m194" x1="0" y1="0" x2="0" y2="1"><stop offset="0" stop-color="#eb5b5f"/><stop offset=".191" stop-color="#eb5c5f"/><stop offset=".234" stop-color="#ffe066"/><stop offset=".277" stop-color="#2db8be"/><stop offset=".316" stop-color="#18aeca"/><stop offset=".440" stop-color="#17aeca"/><stop offset=".565" stop-color="#2cb7bf"/><stop offset=".689" stop-color="#25b4c3"/><stop offset=".708" stop-color="#2db8be"/><stop offset=".762" stop-color="#ffe066"/><stop offset=".814" stop-color="#eb5d5f"/><stop offset="1" stop-color="#eb5c5f"/></linearGradient><linearGradient id="m195" x1="0" y1="0" x2="0" y2="1"><stop offset="0" stop-color="#eb5b5f"/><stop offset=".191" stop-color="#eb5c5f"/><stop offset=".234" stop-color="#ffe066"/><stop offset=".277" stop-color="#2db8be"/><stop offset=".316" stop-color="#18aeca"/><stop offset=".440" stop-color="#17aeca"/><stop offset=".565" stop-color="#2bb7bf"/><stop offset=".689" stop-color="#25b4c3"/><stop offset=".709" stop-color="#2db8be"/><stop offset=".762" stop-color="#ffe066"/><stop offset=".814" stop-color="#eb5d5f"/><stop offset="1" stop-color="#eb5c5f"/></linearGradient><linearGradient id="m196" x1="0" y1="0" x2="0" y2="1"><stop offset="0" stop-color="#eb5b5f"/><stop offset=".191" stop-color="#eb5c5f"/><stop offset=".233" stop-color="#ffe066"/><stop offset=".276" stop-color="#2db8be"/><stop offset=".316" stop-color="#18aeca"/><stop offset=".440" stop-color="#17aeca"/><stop offset=".565" stop-color="#2ab6c0"/><stop offset=".689" stop-color="#25b4c3"/><stop offset=".709" stop-color="#2db8be"/><stop offset=".762" stop-color="#ffe066"/><stop offset=".814" stop-color="#eb5d5f"/><stop offset="1" stop-color="#eb5c5f"/></linearGradient><linearGradient id="m197" x1="0" y1="0" x2="0" y2="1"><stop offset="0" stop-color="#eb5b5f"/><stop offset=".191" stop-color="#eb5c5f"/><stop offset=".233" stop-color="#ffe066"/><stop offset=".276" stop-color="#2db8be"/><stop offset=".316" stop-color="#17aeca"/><stop offset=".440" stop-color="#17aeca"/><stop offset=".565" stop-color="#29b6c0"/><stop offset=".689" stop-color="#25b4c3"/><stop offset=".709" stop-color="#2db8be"/><stop offset=".762" stop-color="#ffe066"/><stop offset=".814" stop-color="#eb5d5f"/><stop offset="1" stop-color="#eb5c5f"/></linearGradient><linearGradient id="m198" x1="0" y1="0" x2="0" y2="1"><stop offset="0" stop-color="#eb5b5f"/><stop offset=".191" stop-color="#eb5c5f"/><stop offset=".233" stop-color="#ffe066"/><stop offset=".276" stop-color="#2db8be"/><stop offset=".316" stop-color="#17aeca"/><stop offset=".440" stop-color="#18aeca"/><stop offset=".565" stop-color="#29b6c0"/><stop offset=".689" stop-color="#25b4c3"/><stop offset=".708" stop-color="#2db8be"/><stop offset=".762" stop-color="#ffe066"/><stop offset=".814" stop-color="#eb5d5f"/><stop offset="1" stop-color="#eb5d5f"/></linearGradient><linearGradient id="m199" x1="0" y1="0" x2="0" y2="1"><stop offset="0" stop-color="#eb5b5f"/><stop offset=".191" stop-color="#eb5c5f"/><stop offset=".233" stop-color="#ffe066"/><stop offset=".276" stop-color="#2db8be"/><stop offset=".316" stop-color="#17aeca"/><stop offset=".440" stop-color="#18aeca"/><stop offset=".565" stop-color="#28b6c1"/><stop offset=".689" stop-color="#25b4c3"/><stop offset=".708" stop-color="#2db8be"/><stop offset=".761" stop-color="#ffe066"/><stop offset=".814" stop-color="#eb5d5f"/><stop offset="1" stop-color="#eb5d5f"/></linearGradient><linearGradient id="m200" x1="0" y1="0" x2="0" y2="1"><stop offset="0" stop-color="#eb5b5f"/><stop offset=".191" stop-color="#eb5c5f"/><stop offset=".233" stop-color="#ffe066"/><stop offset=".275" stop-color="#2db8be"/><stop offset=".316" stop-color="#17aeca"/><stop offset=".440" stop-color="#18aeca"/><stop offset=".565" stop-color="#28b6c1"/><stop offset=".689" stop-color="#25b4c2"/><stop offset=".708" stop-color="#2db8be"/><stop offset=".761" stop-color="#ffe066"/><stop offset=".814" stop-color="#eb5d5f"/><stop offset="1" stop-color="#eb5d5f"/></linearGradient><linearGradient id="m201" x1="0" y1="0" x2="0" y2="1"><stop offset="0" stop-color="#eb5b5f"/><stop offset=".191" stop-color="#eb5c5f"/><stop offset=".233" stop-color="#ffe066"/><stop offset=".275" stop-color="#2db8be"/><stop offset=".316" stop-color="#17adca"/><stop offset=".440" stop-color="#18aeca"/><stop offset=".565" stop-color="#28b6c1"/><stop offset=".689" stop-color="#25b4c2"/><stop offset=".708" stop-color="#2db8be"/><stop offset=".761" stop-color="#ffe066"/><stop offset=".814" stop-color="#eb5d5f"/><stop offset="1" stop-color="#eb5d5f"/></linearGradient><linearGradient id="m202" x1="0" y1="0" x2="0" y2="1"><stop offset="0" stop-color="#eb5b5f"/><stop offset=".191" stop-color="#eb5c5f"/><stop offset=".233" stop-color="#ffe066"/><stop offset=".275" stop-color="#2db8be"/><stop offset=".316" stop-color="#17adca"/><stop offset=".440" stop-color="#18aeca"/><stop offset=".565" stop-color="#28b6c1"/><stop offset=".689" stop-color="#25b4c2"/><stop offset=".708" stop-color="#2db8be"/><stop offset=".761" stop-color="#ffe066"/><stop offset=".814" stop-color="#eb5d5f"/><stop offset="1" stop-color="#eb5d5f"/></linearGradient><linearGradient id="m203" x1="0" y1="0" x2="0" y2="1"><stop offset="0" stop-color="#eb5b5f"/><stop offset=".191" stop-color="#eb5c5f"/><stop offset=".233" stop-color="#ffe066"/><stop offset=".275" stop-color="#2db8be"/><stop offset=".316" stop-color="#17adca"/><stop offset=".440" stop-color="#18aeca"/><stop offset=".565" stop-color="#28b6c1"/><stop offset=".689" stop-color="#25b4c2"/><stop offset=".708" stop-color="#2db8be"/><stop offset=".761" stop-color="#ffe066"/><stop offset=".814" stop-color="#eb5d5f"/><stop offset="1" stop-color="#eb5d5f"/></linearGradient><linearGradient id="m204" x1="0" y1="0" x2="0" y2="1"><stop offset="0" stop-color="#eb5b5f"/><stop offset=".191" stop-color="#eb5c5f"/><stop offset=".233" stop-color="#ffe066"/><stop offset=".275" stop-color="#2db8be"/><stop offset=".316" stop-color="#17adca"/><stop offset=".440" stop-color="#18aeca"/><stop offset=".565" stop-color="#28b6c1"/><stop offset=".689" stop-color="#25b4c2"/><stop offset=".708" stop-color="#2db8be"/><stop offset=".761" stop-color="#ffe066"/><stop offset=".814" stop-color="#eb5d5f"/><stop offset="1" stop-color="#eb5d5f"/></linearGradient><linearGradient id="cbm" x1="0" y1="0" x2="0" y2="1"><stop offset="0.0000" stop-color="#16adcb"/><stop offset="0.3333" stop-color="#2db8be"/><stop offset="0.6667" stop-color="#ffe066"/><stop offset="1.0000" stop-color="#eb5b5f"/></linearGradient><clipPath id="clipe"><rect x="123.2" y="737.2" width="442.09999999999997" height="232.5999999999999"/></clipPath><filter id="blure" x="-2%" y="-2%" width="104%" height="104%" color-interpolation-filters="sRGB"><feGaussianBlur stdDeviation="1.33 0"/></filter><linearGradient id="e205" x1="0" y1="0" x2="0" y2="1"><stop offset="0" stop-color="#5eb0e6"/><stop offset=".064" stop-color="#5eb0e6"/><stop offset=".077" stop-color="#64b4e8"/><stop offset=".189" stop-color="#cae5f8"/><stop offset=".225" stop-color="#deeffb"/><stop offset=".314" stop-color="#ebf5fd"/><stop offset=".564" stop-color="#e6f3fc"/><stop offset=".689" stop-color="#e7f4fc"/><stop offset=".813" stop-color="#f2f9fd"/><stop offset="1" stop-color="#f0f7fd"/></linearGradient><linearGradient id="e206" x1="0" y1="0" x2="0" y2="1"><stop offset="0" stop-color="#5eb0e6"/><stop offset=".064" stop-color="#5eb0e6"/><stop offset=".077" stop-color="#64b4e8"/><stop offset=".189" stop-color="#cae5f8"/><stop offset=".225" stop-color="#deeffb"/><stop offset=".314" stop-color="#ebf5fd"/><stop offset=".564" stop-color="#e6f3fc"/><stop offset=".689" stop-color="#e7f4fc"/><stop offset=".813" stop-color="#f2f9fd"/><stop offset="1" stop-color="#f0f7fd"/></linearGradient><linearGradient id="e207" x1="0" y1="0" x2="0" y2="1"><stop offset="0" stop-color="#5eb0e6"/><stop offset=".064" stop-color="#5eb0e6"/><stop offset=".077" stop-color="#64b4e8"/><stop offset=".189" stop-color="#cae5f8"/><stop offset=".225" stop-color="#deeffb"/><stop offset=".314" stop-color="#ebf5fd"/><stop offset=".564" stop-color="#e6f3fc"/><stop offset=".689" stop-color="#e7f4fc"/><stop offset=".813" stop-color="#f2f9fd"/><stop offset="1" stop-color="#f0f7fd"/></linearGradient><linearGradient id="e208" x1="0" y1="0" x2="0" y2="1"><stop offset="0" stop-color="#5eb0e6"/><stop offset=".064" stop-color="#5eb0e6"/><stop offset=".077" stop-color="#64b4e8"/><stop offset=".189" stop-color="#cae5f8"/><stop offset=".225" stop-color="#deeffb"/><stop offset=".314" stop-color="#ebf5fd"/><stop offset=".564" stop-color="#e6f3fc"/><stop offset=".689" stop-color="#e7f3fc"/><stop offset=".813" stop-color="#f2f9fd"/><stop offset="1" stop-color="#eff7fd"/></linearGradient><linearGradient id="e209" x1="0" y1="0" x2="0" y2="1"><stop offset="0" stop-color="#63b3e7"/><stop offset=".064" stop-color="#63b3e7"/><stop offset=".067" stop-color="#64b4e8"/><stop offset=".189" stop-color="#d1e9f9"/><stop offset=".224" stop-color="#deeffb"/><stop offset=".314" stop-color="#e7f3fc"/><stop offset=".689" stop-color="#e6f3fc"/><stop offset=".813" stop-color="#ebf5fd"/><stop offset="1" stop-color="#e8f4fc"/></linearGradient><linearGradient id="e210" x1="0" y1="0" x2="0" y2="1"><stop offset="0" stop-color="#6bb7e9"/><stop offset=".064" stop-color="#6bb7e9"/><stop offset=".189" stop-color="#d7ecfa"/><stop offset=".222" stop-color="#deeffb"/><stop offset=".314" stop-color="#e3f1fc"/><stop offset=".439" stop-color="#e3f1fc"/><stop offset=".564" stop-color="#e7f4fc"/><stop offset=".689" stop-color="#e5f2fc"/><stop offset=".813" stop-color="#e4f2fc"/><stop offset=".938" stop-color="#e1f0fb"/><stop offset="1" stop-color="#e1f0fb"/></linearGradient><linearGradient id="e211" x1="0" y1="0" x2="0" y2="1"><stop offset="0" stop-color="#74bceb"/><stop offset=".064" stop-color="#74bceb"/><stop offset=".189" stop-color="#deeffb"/><stop offset=".439" stop-color="#dff0fb"/><stop offset=".564" stop-color="#e8f4fc"/><stop offset=".803" stop-color="#deeffb"/><stop offset=".938" stop-color="#cce6f8"/><stop offset="1" stop-color="#cce6f8"/></linearGradient><linearGradient id="e212" x1="0" y1="0" x2="0" y2="1"><stop offset="0" stop-color="#84c3ed"/><stop offset=".064" stop-color="#84c3ed"/><stop offset=".189" stop-color="#dbedfa"/><stop offset=".229" stop-color="#deeffb"/><stop offset=".439" stop-color="#e0f0fb"/><stop offset=".564" stop-color="#e8f4fc"/><stop offset=".689" stop-color="#e0f0fb"/><stop offset="1" stop-color="#dfeffb"/></linearGradient><linearGradient id="e213" x1="0" y1="0" x2="0" y2="1"><stop offset="0" stop-color="#93cbef"/><stop offset=".064" stop-color="#93cbef"/><stop offset=".189" stop-color="#d7ecfa"/><stop offset=".235" stop-color="#deeffb"/><stop offset=".314" stop-color="#e1f1fb"/><stop offset=".439" stop-color="#e2f1fb"/><stop offset=".564" stop-color="#e7f3fc"/><stop offset=".675" stop-color="#deeffb"/><stop offset=".689" stop-color="#daedfa"/><stop offset=".713" stop-color="#deeffb"/><stop offset=".813" stop-color="#e2f1fc"/><stop offset="1" stop-color="#e4f2fc"/></linearGradient><linearGradient id="e214" x1="0" y1="0" x2="0" y2="1"><stop offset="0" stop-color="#a2d2f2"/><stop offset=".064" stop-color="#a2d2f2"/><stop offset=".189" stop-color="#d4eaf9"/><stop offset=".238" stop-color="#deeffb"/><stop offset=".314" stop-color="#e2f1fc"/><stop offset=".439" stop-color="#e3f1fc"/><stop offset=".564" stop-color="#e6f3fc"/><stop offset=".646" stop-color="#deeffb"/><stop offset=".689" stop-color="#cfe8f9"/><stop offset=".737" stop-color="#deeffb"/><stop offset=".813" stop-color="#e5f2fc"/><stop offset=".938" stop-color="#eaf5fc"/><stop offset="1" stop-color="#eaf5fc"/></linearGradient><linearGradient id="e215" x1="0" y1="0" x2="0" y2="1"><stop offset="0" stop-color="#76bdeb"/><stop offset=".064" stop-color="#76bdeb"/><stop offset=".189" stop-color="#baddf5"/><stop offset=".280" stop-color="#deeffb"/><stop offset=".314" stop-color="#e2f1fb"/><stop offset=".564" stop-color="#e7f3fc"/><stop offset=".689" stop-color="#e1f0fb"/><stop offset=".938" stop-color="#e9f4fc"/><stop offset="1" stop-color="#e9f4fc"/></linearGradient><linearGradient id="e216" x1="0" y1="0" x2="0" y2="1"><stop offset="0" stop-color="#56abe3"/><stop offset=".064" stop-color="#56abe3"/><stop offset=".102" stop-color="#64b4e8"/><stop offset=".189" stop-color="#a0d1f1"/><stop offset=".294" stop-color="#deeffb"/><stop offset=".314" stop-color="#e1f1fb"/><stop offset=".564" stop-color="#e8f4fc"/><stop offset=".813" stop-color="#e6f3fc"/><stop offset="1" stop-color="#e9f4fc"/></linearGradient><linearGradient id="e217" x1="0" y1="0" x2="0" y2="1"><stop offset="0" stop-color="#409ddb"/><stop offset=".064" stop-color="#409ddb"/><stop offset=".148" stop-color="#64b4e8"/><stop offset=".189" stop-color="#86c4ed"/><stop offset=".301" stop-color="#deeffb"/><stop offset=".314" stop-color="#e1f0fb"/><stop offset=".564" stop-color="#e8f4fc"/><stop offset=".689" stop-color="#eef7fd"/><stop offset=".813" stop-color="#e7f3fc"/><stop offset="1" stop-color="#e9f4fc"/></linearGradient><linearGradient id="e218" x1="0" y1="0" x2="0" y2="1"><stop offset="0" stop-color="#5fb1e6"/><stop offset=".064" stop-color="#5fb1e6"/><stop offset=".080" stop-color="#64b4e8"/><stop offset=".282" stop-color="#deeffb"/><stop offset=".314" stop-color="#e3f1fc"/><stop offset=".439" stop-color="#e1f1fb"/><stop offset=".689" stop-color="#e7f4fc"/><stop offset="1" stop-color="#e4f2fc"/></linearGradient><linearGradient id="e219" x1="0" y1="0" x2="0" y2="1"><stop offset="0" stop-color="#95ccf0"/><stop offset=".064" stop-color="#95ccf0"/><stop offset=".245" stop-color="#deeffb"/><stop offset=".314" stop-color="#e5f3fc"/><stop offset=".439" stop-color="#dfeffb"/><stop offset=".689" stop-color="#e1f0fb"/><stop offset=".813" stop-color="#e6f3fc"/><stop offset=".938" stop-color="#dfeffb"/><stop offset="1" stop-color="#dfeffb"/></linearGradient><linearGradient id="e220" x1="0" y1="0" x2="0" y2="1"><stop offset="0" stop-color="#d0e8f9"/><stop offset=".064" stop-color="#d0e8f9"/><stop offset=".137" stop-color="#deeffb"/><stop offset=".314" stop-color="#e8f4fc"/><stop offset=".419" stop-color="#deeffb"/><stop offset=".439" stop-color="#d7ecfa"/><stop offset=".564" stop-color="#d8ecfa"/><stop offset=".689" stop-color="#cfe8f9"/><stop offset=".731" stop-color="#deeffb"/><stop offset=".813" stop-color="#e6f3fc"/><stop offset=".896" stop-color="#deeffb"/><stop offset=".938" stop-color="#cfe8f9"/><stop offset="1" stop-color="#cfe8f9"/></linearGradient><linearGradient id="e221" x1="0" y1="0" x2="0" y2="1"><stop offset="0" stop-color="#b2daf4"/><stop offset=".064" stop-color="#b2daf4"/><stop offset=".153" stop-color="#deeffb"/><stop offset=".189" stop-color="#e3f1fc"/><stop offset=".314" stop-color="#eef7fd"/><stop offset=".439" stop-color="#e2f1fc"/><stop offset=".564" stop-color="#e2f1fc"/><stop offset=".689" stop-color="#deeffb"/><stop offset=".813" stop-color="#e7f3fc"/><stop offset=".938" stop-color="#e2f1fc"/><stop offset="1" stop-color="#e2f1fc"/></linearGradient><linearGradient id="e222" x1="0" y1="0" x2="0" y2="1"><stop offset="0" stop-color="#93cbef"/><stop offset=".064" stop-color="#93cbef"/><stop offset=".157" stop-color="#deeffb"/><stop offset=".189" stop-color="#e5f2fc"/><stop offset=".314" stop-color="#f3f9fe"/><stop offset=".439" stop-color="#e9f4fc"/><stop offset=".564" stop-color="#e8f4fc"/><stop offset=".689" stop-color="#e3f1fc"/><stop offset=".938" stop-color="#ebf5fd"/><stop offset="1" stop-color="#ebf5fd"/></linearGradient><linearGradient id="e223" x1="0" y1="0" x2="0" y2="1"><stop offset="0" stop-color="#75bceb"/><stop offset=".064" stop-color="#75bceb"/><stop offset=".159" stop-color="#deeffb"/><stop offset=".189" stop-color="#e7f3fc"/><stop offset=".314" stop-color="#f9fcfe"/><stop offset=".439" stop-color="#eff7fd"/><stop offset=".564" stop-color="#eef7fd"/><stop offset=".689" stop-color="#e8f4fc"/><stop offset=".813" stop-color="#e8f4fc"/><stop offset=".938" stop-color="#f4f9fe"/><stop offset="1" stop-color="#f4f9fe"/></linearGradient><linearGradient id="e224" x1="0" y1="0" x2="0" y2="1"><stop offset="0" stop-color="#9fd0f1"/><stop offset=".064" stop-color="#9fd0f1"/><stop offset=".189" stop-color="#d6ebfa"/><stop offset=".199" stop-color="#deeffb"/><stop offset=".314" stop-color="#f5fafe"/><stop offset=".689" stop-color="#e9f4fc"/><stop offset=".813" stop-color="#ebf5fd"/><stop offset=".938" stop-color="#f6fbfe"/><stop offset="1" stop-color="#f6fbfe"/></linearGradient><linearGradient id="e225" x1="0" y1="0" x2="0" y2="1"><stop offset="0" stop-color="#c9e5f8"/><stop offset=".064" stop-color="#c9e5f8"/><stop offset=".189" stop-color="#aed8f3"/><stop offset=".239" stop-color="#deeffb"/><stop offset=".314" stop-color="#f2f8fd"/><stop offset=".439" stop-color="#f6fbfe"/><stop offset=".564" stop-color="#eef7fd"/><stop offset=".689" stop-color="#eaf5fc"/><stop offset=".813" stop-color="#eff7fd"/><stop offset=".938" stop-color="#f9fcfe"/><stop offset="1" stop-color="#f9fcfe"/></linearGradient><linearGradient id="e226" x1="0" y1="0" x2="0" y2="1"><stop offset="0" stop-color="#e4f2fc"/><stop offset=".064" stop-color="#e4f2fc"/><stop offset=".088" stop-color="#deeffb"/><stop offset=".189" stop-color="#86c4ed"/><stop offset=".264" stop-color="#deeffb"/><stop offset=".314" stop-color="#eef7fd"/><stop offset=".439" stop-color="#f9fcfe"/><stop offset=".564" stop-color="#edf6fd"/><stop offset=".689" stop-color="#ebf5fd"/><stop offset=".938" stop-color="#fbfdff"/><stop offset="1" stop-color="#fbfdff"/></linearGradient><linearGradient id="e227" x1="0" y1="0" x2="0" y2="1"><stop offset="0" stop-color="#e0f0fb"/><stop offset=".064" stop-color="#e0f0fb"/><stop offset=".071" stop-color="#deeffb"/><stop offset=".189" stop-color="#82c3ed"/><stop offset=".275" stop-color="#deeffb"/><stop offset=".314" stop-color="#e9f4fc"/><stop offset=".439" stop-color="#f0f8fd"/><stop offset=".564" stop-color="#ecf6fd"/><stop offset=".689" stop-color="#e4f2fc"/><stop offset=".938" stop-color="#f4fafe"/><stop offset="1" stop-color="#f4fafe"/></linearGradient><linearGradient id="e228" x1="0" y1="0" x2="0" y2="1"><stop offset="0" stop-color="#d4eaf9"/><stop offset=".064" stop-color="#d4eaf9"/><stop offset=".189" stop-color="#7fc1ec"/><stop offset=".290" stop-color="#deeffb"/><stop offset=".314" stop-color="#e4f2fc"/><stop offset=".564" stop-color="#eaf5fc"/><stop offset=".682" stop-color="#deeffb"/><stop offset=".689" stop-color="#dceefb"/><stop offset=".696" stop-color="#deeffb"/><stop offset=".813" stop-color="#e8f4fc"/><stop offset=".938" stop-color="#edf6fd"/><stop offset="1" stop-color="#edf6fd"/></linearGradient><linearGradient id="e229" x1="0" y1="0" x2="0" y2="1"><stop offset="0" stop-color="#c5e3f7"/><stop offset=".064" stop-color="#c5e3f7"/><stop offset=".189" stop-color="#7cc0ec"/><stop offset=".309" stop-color="#deeffb"/><stop offset=".439" stop-color="#deeffb"/><stop offset=".564" stop-color="#e9f4fc"/><stop offset=".638" stop-color="#deeffb"/><stop offset=".689" stop-color="#c3e2f7"/><stop offset=".766" stop-color="#deeffb"/><stop offset=".813" stop-color="#e3f1fc"/><stop offset=".938" stop-color="#e6f3fc"/><stop offset="1" stop-color="#e6f3fc"/></linearGradient><linearGradient id="e230" x1="0" y1="0" x2="0" y2="1"><stop offset="0" stop-color="#d1e9f9"/><stop offset=".064" stop-color="#d1e9f9"/><stop offset=".189" stop-color="#7fc1ec"/><stop offset=".304" stop-color="#deeffb"/><stop offset=".314" stop-color="#e0f0fb"/><stop offset=".439" stop-color="#e3f1fc"/><stop offset=".564" stop-color="#e8f4fc"/><stop offset=".640" stop-color="#deeffb"/><stop offset=".689" stop-color="#c7e4f7"/><stop offset=".749" stop-color="#deeffb"/><stop offset=".813" stop-color="#e5f2fc"/><stop offset=".938" stop-color="#e1f0fb"/><stop offset="1" stop-color="#e1f0fb"/></linearGradient><linearGradient id="e231" x1="0" y1="0" x2="0" y2="1"><stop offset="0" stop-color="#dceefb"/><stop offset=".064" stop-color="#dceefb"/><stop offset=".189" stop-color="#82c3ed"/><stop offset=".300" stop-color="#deeffb"/><stop offset=".314" stop-color="#e1f1fb"/><stop offset=".439" stop-color="#e7f4fc"/><stop offset=".564" stop-color="#e8f4fc"/><stop offset=".644" stop-color="#deeffb"/><stop offset=".689" stop-color="#cae5f8"/><stop offset=".736" stop-color="#deeffb"/><stop offset=".813" stop-color="#e7f3fc"/><stop offset=".915" stop-color="#deeffb"/><stop offset=".938" stop-color="#d6ebfa"/><stop offset="1" stop-color="#d6ebfa"/></linearGradient><linearGradient id="e232" x1="0" y1="0" x2="0" y2="1"><stop offset="0" stop-color="#e1f0fb"/><stop offset=".064" stop-color="#e1f0fb"/><stop offset=".076" stop-color="#deeffb"/><stop offset=".189" stop-color="#86c4ed"/><stop offset=".295" stop-color="#deeffb"/><stop offset=".314" stop-color="#e2f1fc"/><stop offset=".439" stop-color="#ecf6fd"/><stop offset=".564" stop-color="#e7f4fc"/><stop offset=".648" stop-color="#deeffb"/><stop offset=".689" stop-color="#cde7f8"/><stop offset=".724" stop-color="#deeffb"/><stop offset=".813" stop-color="#e9f4fc"/><stop offset=".890" stop-color="#deeffb"/><stop offset=".938" stop-color="#c3e2f7"/><stop offset="1" stop-color="#c3e2f7"/></linearGradient><linearGradient id="e233" x1="0" y1="0" x2="0" y2="1"><stop offset="0" stop-color="#e1f0fb"/><stop offset=".064" stop-color="#e1f0fb"/><stop offset=".078" stop-color="#deeffb"/><stop offset=".189" stop-color="#96ccf0"/><stop offset=".281" stop-color="#deeffb"/><stop offset=".314" stop-color="#e5f2fc"/><stop offset=".439" stop-color="#ecf6fd"/><stop offset=".662" stop-color="#deeffb"/><stop offset=".689" stop-color="#d7ecfa"/><stop offset=".708" stop-color="#deeffb"/><stop offset=".813" stop-color="#e8f4fc"/><stop offset=".922" stop-color="#deeffb"/><stop offset=".938" stop-color="#d8ecfa"/><stop offset="1" stop-color="#d8ecfa"/></linearGradient><linearGradient id="e234" x1="0" y1="0" x2="0" y2="1"><stop offset="0" stop-color="#e1f0fb"/><stop offset=".064" stop-color="#e1f0fb"/><stop offset=".082" stop-color="#deeffb"/><stop offset=".189" stop-color="#a6d4f2"/><stop offset=".265" stop-color="#deeffb"/><stop offset=".314" stop-color="#e8f4fc"/><stop offset=".439" stop-color="#ebf5fd"/><stop offset=".564" stop-color="#e3f1fc"/><stop offset=".689" stop-color="#dfeffb"/><stop offset=".813" stop-color="#e7f4fc"/><stop offset=".938" stop-color="#e2f1fb"/><stop offset="1" stop-color="#e2f1fb"/></linearGradient><linearGradient id="e235" x1="0" y1="0" x2="0" y2="1"><stop offset="0" stop-color="#e1f0fb"/><stop offset=".064" stop-color="#e1f0fb"/><stop offset=".088" stop-color="#deeffb"/><stop offset=".189" stop-color="#b7dcf5"/><stop offset=".247" stop-color="#deeffb"/><stop offset=".314" stop-color="#eaf5fc"/><stop offset=".439" stop-color="#ebf5fd"/><stop offset=".564" stop-color="#e0f0fb"/><stop offset=".689" stop-color="#e1f1fb"/><stop offset=".813" stop-color="#e6f3fc"/><stop offset="1" stop-color="#e8f4fc"/></linearGradient><linearGradient id="e236" x1="0" y1="0" x2="0" y2="1"><stop offset="0" stop-color="#e0f0fb"/><stop offset=".084" stop-color="#deeffb"/><stop offset=".189" stop-color="#c0e1f6"/><stop offset=".240" stop-color="#deeffb"/><stop offset=".314" stop-color="#e9f5fc"/><stop offset=".439" stop-color="#e6f3fc"/><stop offset=".564" stop-color="#dff0fb"/><stop offset=".689" stop-color="#e7f3fc"/><stop offset="1" stop-color="#eaf5fc"/></linearGradient><linearGradient id="e237" x1="0" y1="0" x2="0" y2="1"><stop offset="0" stop-color="#dfeffb"/><stop offset=".075" stop-color="#deeffb"/><stop offset=".189" stop-color="#cae5f8"/><stop offset=".230" stop-color="#deeffb"/><stop offset=".314" stop-color="#e9f4fc"/><stop offset=".439" stop-color="#e2f1fb"/><stop offset=".564" stop-color="#deeffb"/><stop offset=".689" stop-color="#ecf6fd"/><stop offset="1" stop-color="#ebf6fd"/></linearGradient><linearGradient id="e238" x1="0" y1="0" x2="0" y2="1"><stop offset="0" stop-color="#dceefb"/><stop offset=".064" stop-color="#dceefb"/><stop offset=".189" stop-color="#d4eaf9"/><stop offset=".215" stop-color="#deeffb"/><stop offset=".314" stop-color="#e8f4fc"/><stop offset=".431" stop-color="#deeffb"/><stop offset=".439" stop-color="#dbeefb"/><stop offset=".564" stop-color="#dbedfb"/><stop offset=".569" stop-color="#deeffb"/><stop offset=".689" stop-color="#f1f8fd"/><stop offset=".813" stop-color="#edf6fd"/><stop offset="1" stop-color="#edf6fd"/></linearGradient><linearGradient id="e239" x1="0" y1="0" x2="0" y2="1"><stop offset="0" stop-color="#aad6f3"/><stop offset=".064" stop-color="#aad6f3"/><stop offset=".189" stop-color="#c7e4f7"/><stop offset=".227" stop-color="#deeffb"/><stop offset=".314" stop-color="#ecf6fd"/><stop offset=".439" stop-color="#e1f0fb"/><stop offset=".564" stop-color="#e1f0fb"/><stop offset=".689" stop-color="#ebf5fd"/><stop offset="1" stop-color="#e7f3fc"/></linearGradient><linearGradient id="e240" x1="0" y1="0" x2="0" y2="1"><stop offset="0" stop-color="#78beeb"/><stop offset=".064" stop-color="#78beeb"/><stop offset=".189" stop-color="#baddf5"/><stop offset=".232" stop-color="#deeffb"/><stop offset=".314" stop-color="#f0f8fd"/><stop offset=".439" stop-color="#e5f2fc"/><stop offset=".813" stop-color="#e7f3fc"/><stop offset=".938" stop-color="#e1f0fb"/><stop offset="1" stop-color="#e1f0fb"/></linearGradient><linearGradient id="e241" x1="0" y1="0" x2="0" y2="1"><stop offset="0" stop-color="#55aae3"/><stop offset=".064" stop-color="#55aae3"/><stop offset=".100" stop-color="#64b4e8"/><stop offset=".189" stop-color="#add7f3"/><stop offset=".236" stop-color="#deeffb"/><stop offset=".314" stop-color="#f4fafe"/><stop offset=".439" stop-color="#e8f4fc"/><stop offset=".564" stop-color="#e8f4fc"/><stop offset=".689" stop-color="#e0f0fb"/><stop offset=".813" stop-color="#e4f2fc"/><stop offset=".892" stop-color="#deeffb"/><stop offset=".938" stop-color="#d2e9f9"/><stop offset="1" stop-color="#d2e9f9"/></linearGradient><linearGradient id="e242" x1="0" y1="0" x2="0" y2="1"><stop offset="0" stop-color="#57ace3"/><stop offset=".064" stop-color="#57ace3"/><stop offset=".108" stop-color="#64b4e8"/><stop offset=".189" stop-color="#93caef"/><stop offset=".259" stop-color="#deeffb"/><stop offset=".314" stop-color="#eef7fd"/><stop offset=".439" stop-color="#e6f3fc"/><stop offset=".564" stop-color="#e8f4fc"/><stop offset=".689" stop-color="#e3f1fc"/><stop offset="1" stop-color="#deeffb"/></linearGradient><linearGradient id="e243" x1="0" y1="0" x2="0" y2="1"><stop offset="0" stop-color="#59ade4"/><stop offset=".064" stop-color="#59ade4"/><stop offset=".129" stop-color="#64b4e8"/><stop offset=".189" stop-color="#78beeb"/><stop offset=".280" stop-color="#deeffb"/><stop offset=".314" stop-color="#e8f4fc"/><stop offset=".439" stop-color="#e4f2fc"/><stop offset=".564" stop-color="#e7f4fc"/><stop offset=".689" stop-color="#e5f2fc"/><stop offset=".803" stop-color="#deeffb"/><stop offset=".813" stop-color="#dceefb"/><stop offset=".831" stop-color="#deeffb"/><stop offset=".938" stop-color="#e2f1fb"/><stop offset="1" stop-color="#e2f1fb"/></linearGradient><linearGradient id="e244" x1="0" y1="0" x2="0" y2="1"><stop offset="0" stop-color="#5baee5"/><stop offset=".064" stop-color="#5baee5"/><stop offset=".189" stop-color="#61b2e7"/><stop offset=".193" stop-color="#64b4e8"/><stop offset=".300" stop-color="#deeffb"/><stop offset=".314" stop-color="#e2f1fc"/><stop offset=".439" stop-color="#e2f1fb"/><stop offset=".564" stop-color="#e7f3fc"/><stop offset=".689" stop-color="#e8f4fc"/><stop offset=".779" stop-color="#deeffb"/><stop offset=".813" stop-color="#d0e8f9"/><stop offset=".854" stop-color="#deeffb"/><stop offset=".938" stop-color="#e6f3fc"/><stop offset="1" stop-color="#e6f3fc"/></linearGradient><linearGradient id="e245" x1="0" y1="0" x2="0" y2="1"><stop offset="0" stop-color="#59ade4"/><stop offset=".064" stop-color="#59ade4"/><stop offset=".189" stop-color="#65b4e8"/><stop offset=".287" stop-color="#deeffb"/><stop offset=".314" stop-color="#e7f3fc"/><stop offset=".564" stop-color="#edf6fd"/><stop offset=".689" stop-color="#ebf5fd"/><stop offset=".813" stop-color="#e1f1fb"/><stop offset="1" stop-color="#e5f2fc"/></linearGradient><linearGradient id="e246" x1="0" y1="0" x2="0" y2="1"><stop offset="0" stop-color="#57abe3"/><stop offset=".064" stop-color="#57abe3"/><stop offset=".160" stop-color="#64b4e8"/><stop offset=".189" stop-color="#6cb8e9"/><stop offset=".275" stop-color="#deeffb"/><stop offset=".314" stop-color="#ecf6fd"/><stop offset=".439" stop-color="#f3f9fe"/><stop offset=".689" stop-color="#eff7fd"/><stop offset=".938" stop-color="#e3f2fc"/><stop offset="1" stop-color="#e3f2fc"/></linearGradient><linearGradient id="e247" x1="0" y1="0" x2="0" y2="1"><stop offset="0" stop-color="#55aae3"/><stop offset=".064" stop-color="#55aae3"/><stop offset=".148" stop-color="#64b4e8"/><stop offset=".189" stop-color="#72bbea"/><stop offset=".265" stop-color="#deeffb"/><stop offset=".314" stop-color="#f0f8fd"/><stop offset=".439" stop-color="#fbfdff"/><stop offset=".689" stop-color="#f2f9fd"/><stop offset=".813" stop-color="#eff7fd"/><stop offset=".938" stop-color="#e2f1fc"/><stop offset="1" stop-color="#e2f1fc"/></linearGradient><linearGradient id="e248" x1="0" y1="0" x2="0" y2="1"><stop offset="0" stop-color="#49a3de"/><stop offset=".064" stop-color="#49a3de"/><stop offset=".126" stop-color="#64b4e8"/><stop offset=".189" stop-color="#99cef0"/><stop offset=".251" stop-color="#deeffb"/><stop offset=".314" stop-color="#f0f8fd"/><stop offset=".439" stop-color="#f5fafe"/><stop offset=".689" stop-color="#ecf6fd"/><stop offset=".813" stop-color="#eef7fd"/><stop offset=".938" stop-color="#e0f0fb"/><stop offset="1" stop-color="#e0f0fb"/></linearGradient><linearGradient id="e249" x1="0" y1="0" x2="0" y2="1"><stop offset="0" stop-color="#3d9bda"/><stop offset=".064" stop-color="#3d9bda"/><stop offset=".120" stop-color="#64b4e8"/><stop offset=".189" stop-color="#c1e1f6"/><stop offset=".226" stop-color="#deeffb"/><stop offset=".314" stop-color="#f1f8fd"/><stop offset=".439" stop-color="#eef7fd"/><stop offset=".689" stop-color="#e6f3fc"/><stop offset=".813" stop-color="#edf6fd"/><stop offset=".938" stop-color="#deeffb"/><stop offset="1" stop-color="#deeffb"/></linearGradient><linearGradient id="e250" x1="0" y1="0" x2="0" y2="1"><stop offset="0" stop-color="#3194d6"/><stop offset=".064" stop-color="#3194d6"/><stop offset=".117" stop-color="#64b4e8"/><stop offset=".183" stop-color="#deeffb"/><stop offset=".189" stop-color="#e1f0fb"/><stop offset=".314" stop-color="#f1f8fd"/><stop offset=".439" stop-color="#e8f4fc"/><stop offset=".689" stop-color="#dff0fb"/><stop offset=".813" stop-color="#ecf6fd"/><stop offset=".922" stop-color="#deeffb"/><stop offset=".938" stop-color="#d6ebfa"/><stop offset="1" stop-color="#d6ebfa"/></linearGradient><linearGradient id="e251" x1="0" y1="0" x2="0" y2="1"><stop offset="0" stop-color="#51a8e1"/><stop offset=".064" stop-color="#51a8e1"/><stop offset=".090" stop-color="#64b4e8"/><stop offset=".176" stop-color="#deeffb"/><stop offset=".189" stop-color="#e3f1fc"/><stop offset=".314" stop-color="#f3f9fe"/><stop offset=".439" stop-color="#e7f4fc"/><stop offset=".564" stop-color="#e6f3fc"/><stop offset=".689" stop-color="#e1f0fb"/><stop offset=".813" stop-color="#ecf6fd"/><stop offset=".917" stop-color="#deeffb"/><stop offset=".938" stop-color="#d3eaf9"/><stop offset="1" stop-color="#d3eaf9"/></linearGradient><linearGradient id="e252" x1="0" y1="0" x2="0" y2="1"><stop offset="0" stop-color="#7cc0ec"/><stop offset=".064" stop-color="#7cc0ec"/><stop offset=".163" stop-color="#deeffb"/><stop offset=".189" stop-color="#e5f2fc"/><stop offset=".314" stop-color="#f5fafe"/><stop offset=".439" stop-color="#e7f3fc"/><stop offset=".564" stop-color="#e9f5fc"/><stop offset=".689" stop-color="#e2f1fc"/><stop offset=".813" stop-color="#ecf6fd"/><stop offset=".912" stop-color="#deeffb"/><stop offset=".938" stop-color="#d0e8f9"/><stop offset="1" stop-color="#d0e8f9"/></linearGradient><linearGradient id="e253" x1="0" y1="0" x2="0" y2="1"><stop offset="0" stop-color="#baddf5"/><stop offset=".064" stop-color="#baddf5"/><stop offset=".130" stop-color="#deeffb"/><stop offset=".314" stop-color="#f7fbfe"/><stop offset=".439" stop-color="#e6f3fc"/><stop offset=".564" stop-color="#ecf6fd"/><stop offset=".689" stop-color="#e4f2fc"/><stop offset=".813" stop-color="#ebf5fd"/><stop offset=".907" stop-color="#deeffb"/><stop offset=".938" stop-color="#cde7f8"/><stop offset="1" stop-color="#cde7f8"/></linearGradient><linearGradient id="e254" x1="0" y1="0" x2="0" y2="1"><stop offset="0" stop-color="#c9e5f8"/><stop offset=".064" stop-color="#c9e5f8"/><stop offset=".125" stop-color="#deeffb"/><stop offset=".314" stop-color="#eff7fd"/><stop offset=".439" stop-color="#e8f4fc"/><stop offset=".689" stop-color="#e2f1fc"/><stop offset=".813" stop-color="#e7f3fc"/><stop offset=".880" stop-color="#deeffb"/><stop offset=".938" stop-color="#c1e1f6"/><stop offset="1" stop-color="#c1e1f6"/></linearGradient><linearGradient id="e255" x1="0" y1="0" x2="0" y2="1"><stop offset="0" stop-color="#d8ecfa"/><stop offset=".064" stop-color="#d8ecfa"/><stop offset=".107" stop-color="#deeffb"/><stop offset=".314" stop-color="#e7f4fc"/><stop offset=".439" stop-color="#e9f5fc"/><stop offset=".564" stop-color="#ddeffb"/><stop offset=".813" stop-color="#e3f1fc"/><stop offset=".852" stop-color="#deeffb"/><stop offset=".938" stop-color="#b4dbf4"/><stop offset="1" stop-color="#b4dbf4"/></linearGradient><linearGradient id="e256" x1="0" y1="0" x2="0" y2="1"><stop offset="0" stop-color="#e0f0fb"/><stop offset=".195" stop-color="#deeffb"/><stop offset=".314" stop-color="#e0f0fb"/><stop offset=".439" stop-color="#ebf5fd"/><stop offset=".518" stop-color="#deeffb"/><stop offset=".564" stop-color="#c2e2f7"/><stop offset=".675" stop-color="#deeffb"/><stop offset=".822" stop-color="#deeffb"/><stop offset=".938" stop-color="#a7d5f3"/><stop offset="1" stop-color="#a7d5f3"/></linearGradient><linearGradient id="e257" x1="0" y1="0" x2="0" y2="1"><stop offset="0" stop-color="#a2d2f2"/><stop offset=".064" stop-color="#a2d2f2"/><stop offset=".189" stop-color="#c4e2f7"/><stop offset=".314" stop-color="#deeffb"/><stop offset=".439" stop-color="#e5f3fc"/><stop offset=".495" stop-color="#deeffb"/><stop offset=".564" stop-color="#bddff6"/><stop offset=".689" stop-color="#cee7f8"/><stop offset=".813" stop-color="#d7ecfa"/><stop offset=".938" stop-color="#aed8f3"/><stop offset="1" stop-color="#aed8f3"/></linearGradient><linearGradient id="e258" x1="0" y1="0" x2="0" y2="1"><stop offset="0" stop-color="#60b2e7"/><stop offset=".064" stop-color="#60b2e7"/><stop offset=".075" stop-color="#64b4e8"/><stop offset=".189" stop-color="#a9d6f3"/><stop offset=".314" stop-color="#d7ecfa"/><stop offset=".381" stop-color="#deeffb"/><stop offset=".439" stop-color="#e0f0fb"/><stop offset=".455" stop-color="#deeffb"/><stop offset=".564" stop-color="#b8dcf5"/><stop offset=".689" stop-color="#badef5"/><stop offset=".813" stop-color="#cce6f8"/><stop offset=".938" stop-color="#b4dbf4"/><stop offset="1" stop-color="#b4dbf4"/></linearGradient><linearGradient id="e259" x1="0" y1="0" x2="0" y2="1"><stop offset="0" stop-color="#3d9bda"/><stop offset=".064" stop-color="#3d9bda"/><stop offset=".143" stop-color="#64b4e8"/><stop offset=".189" stop-color="#8fc9ef"/><stop offset=".314" stop-color="#d1e9f9"/><stop offset=".439" stop-color="#cee7f9"/><stop offset=".564" stop-color="#b3daf4"/><stop offset=".689" stop-color="#a7d4f2"/><stop offset=".813" stop-color="#c1e1f6"/><stop offset=".938" stop-color="#badef5"/><stop offset="1" stop-color="#badef5"/></linearGradient><linearGradient id="e260" x1="0" y1="0" x2="0" y2="1"><stop offset="0" stop-color="#61b2e7"/><stop offset=".064" stop-color="#61b2e7"/><stop offset=".082" stop-color="#64b4e8"/><stop offset=".189" stop-color="#89c6ee"/><stop offset=".283" stop-color="#deeffb"/><stop offset=".314" stop-color="#e5f3fc"/><stop offset=".439" stop-color="#e0f0fb"/><stop offset=".564" stop-color="#ddeffb"/><stop offset=".689" stop-color="#c8e4f8"/><stop offset=".813" stop-color="#d4eaf9"/><stop offset=".938" stop-color="#cce6f8"/><stop offset="1" stop-color="#cce6f8"/></linearGradient><linearGradient id="e261" x1="0" y1="0" x2="0" y2="1"><stop offset="0" stop-color="#a3d2f2"/><stop offset=".064" stop-color="#a3d2f2"/><stop offset=".189" stop-color="#82c3ed"/><stop offset=".261" stop-color="#deeffb"/><stop offset=".314" stop-color="#f0f8fd"/><stop offset=".439" stop-color="#e6f3fc"/><stop offset=".564" stop-color="#e9f5fc"/><stop offset=".689" stop-color="#e1f1fb"/><stop offset="1" stop-color="#deeffb"/></linearGradient><linearGradient id="e262" x1="0" y1="0" x2="0" y2="1"><stop offset="0" stop-color="#e0f0fb"/><stop offset=".064" stop-color="#e0f0fb"/><stop offset=".074" stop-color="#deeffb"/><stop offset=".189" stop-color="#7cc0ec"/><stop offset=".248" stop-color="#deeffb"/><stop offset=".314" stop-color="#fbfdff"/><stop offset=".439" stop-color="#edf6fd"/><stop offset=".564" stop-color="#f5fafe"/><stop offset=".689" stop-color="#eaf5fc"/><stop offset=".938" stop-color="#e3f1fc"/><stop offset="1" stop-color="#e3f1fc"/></linearGradient><linearGradient id="e263" x1="0" y1="0" x2="0" y2="1"><stop offset="0" stop-color="#9ed0f1"/><stop offset=".189" stop-color="#a0d1f1"/><stop offset=".244" stop-color="#deeffb"/><stop offset=".314" stop-color="#f3f9fe"/><stop offset=".439" stop-color="#edf7fd"/><stop offset=".564" stop-color="#f0f8fd"/><stop offset=".689" stop-color="#e8f4fc"/><stop offset=".813" stop-color="#e5f2fc"/><stop offset="1" stop-color="#e5f2fc"/></linearGradient><linearGradient id="e264" x1="0" y1="0" x2="0" y2="1"><stop offset="0" stop-color="#5cafe5"/><stop offset=".064" stop-color="#5cafe5"/><stop offset=".080" stop-color="#64b4e8"/><stop offset=".189" stop-color="#c4e2f7"/><stop offset=".231" stop-color="#deeffb"/><stop offset=".314" stop-color="#ecf6fd"/><stop offset=".439" stop-color="#eef7fd"/><stop offset=".564" stop-color="#ecf6fd"/><stop offset=".813" stop-color="#e4f2fc"/><stop offset="1" stop-color="#e7f3fc"/></linearGradient><linearGradient id="e265" x1="0" y1="0" x2="0" y2="1"><stop offset="0" stop-color="#3798d8"/><stop offset=".064" stop-color="#3798d8"/><stop offset=".113" stop-color="#64b4e8"/><stop offset=".183" stop-color="#deeffb"/><stop offset=".189" stop-color="#e1f0fb"/><stop offset=".314" stop-color="#e4f2fc"/><stop offset=".439" stop-color="#eff7fd"/><stop offset=".564" stop-color="#e7f4fc"/><stop offset=".813" stop-color="#e4f2fc"/><stop offset=".938" stop-color="#e9f4fc"/><stop offset="1" stop-color="#e9f4fc"/></linearGradient><linearGradient id="e266" x1="0" y1="0" x2="0" y2="1"><stop offset="0" stop-color="#5dafe5"/><stop offset=".064" stop-color="#5dafe5"/><stop offset=".075" stop-color="#64b4e8"/><stop offset=".177" stop-color="#deeffb"/><stop offset=".189" stop-color="#e2f1fb"/><stop offset=".439" stop-color="#ebf5fd"/><stop offset=".564" stop-color="#e4f2fc"/><stop offset=".689" stop-color="#e6f3fc"/><stop offset=".813" stop-color="#e1f0fb"/><stop offset="1" stop-color="#e4f2fc"/></linearGradient><linearGradient id="e267" x1="0" y1="0" x2="0" y2="1"><stop offset="0" stop-color="#9fd1f1"/><stop offset=".064" stop-color="#9fd1f1"/><stop offset=".162" stop-color="#deeffb"/><stop offset=".189" stop-color="#e3f1fc"/><stop offset=".314" stop-color="#eaf5fc"/><stop offset=".439" stop-color="#e7f3fc"/><stop offset=".564" stop-color="#e0f0fb"/><stop offset=".689" stop-color="#e7f4fc"/><stop offset=".813" stop-color="#ddeefb"/><stop offset="1" stop-color="#dfeffb"/></linearGradient><linearGradient id="e268" x1="0" y1="0" x2="0" y2="1"><stop offset="0" stop-color="#e0f0fb"/><stop offset=".189" stop-color="#e4f2fc"/><stop offset=".314" stop-color="#eef7fd"/><stop offset=".439" stop-color="#e3f1fc"/><stop offset=".530" stop-color="#deeffb"/><stop offset=".564" stop-color="#d8ecfa"/><stop offset=".582" stop-color="#deeffb"/><stop offset=".689" stop-color="#e8f4fc"/><stop offset=".784" stop-color="#deeffb"/><stop offset=".813" stop-color="#d2e9f9"/><stop offset=".938" stop-color="#cde7f8"/><stop offset="1" stop-color="#cde7f8"/></linearGradient><linearGradient id="e269" x1="0" y1="0" x2="0" y2="1"><stop offset="0" stop-color="#9acef0"/><stop offset=".064" stop-color="#9acef0"/><stop offset=".167" stop-color="#deeffb"/><stop offset=".314" stop-color="#f2f9fd"/><stop offset=".564" stop-color="#e3f2fc"/><stop offset=".689" stop-color="#e9f5fc"/><stop offset=".813" stop-color="#e2f1fb"/><stop offset="1" stop-color="#e1f0fb"/></linearGradient><linearGradient id="e270" x1="0" y1="0" x2="0" y2="1"><stop offset="0" stop-color="#58ade4"/><stop offset=".064" stop-color="#58ade4"/><stop offset=".082" stop-color="#64b4e8"/><stop offset=".183" stop-color="#deeffb"/><stop offset=".314" stop-color="#f7fbfe"/><stop offset=".564" stop-color="#eaf5fc"/><stop offset="1" stop-color="#e9f4fc"/></linearGradient><linearGradient id="e271" x1="0" y1="0" x2="0" y2="1"><stop offset="0" stop-color="#3194d6"/><stop offset=".064" stop-color="#3194d6"/><stop offset=".120" stop-color="#64b4e8"/><stop offset=".189" stop-color="#deeffb"/><stop offset=".314" stop-color="#fbfdff"/><stop offset=".439" stop-color="#f8fbfe"/><stop offset=".689" stop-color="#ebf5fd"/><stop offset=".813" stop-color="#f0f8fd"/><stop offset="1" stop-color="#f0f8fd"/></linearGradient><linearGradient id="e272" x1="0" y1="0" x2="0" y2="1"><stop offset="0" stop-color="#5eb0e6"/><stop offset=".064" stop-color="#5eb0e6"/><stop offset=".078" stop-color="#64b4e8"/><stop offset=".189" stop-color="#c0e1f6"/><stop offset=".219" stop-color="#deeffb"/><stop offset=".314" stop-color="#f7fbfe"/><stop offset=".564" stop-color="#eaf5fc"/><stop offset=".689" stop-color="#e8f4fc"/><stop offset=".813" stop-color="#ebf6fd"/><stop offset="1" stop-color="#e9f4fc"/></linearGradient><linearGradient id="e273" x1="0" y1="0" x2="0" y2="1"><stop offset="0" stop-color="#afd8f4"/><stop offset=".064" stop-color="#afd8f4"/><stop offset=".189" stop-color="#a3d2f2"/><stop offset=".242" stop-color="#deeffb"/><stop offset=".314" stop-color="#f3f9fe"/><stop offset=".439" stop-color="#e8f4fc"/><stop offset=".564" stop-color="#e2f1fc"/><stop offset=".813" stop-color="#e7f3fc"/><stop offset=".938" stop-color="#e1f0fb"/><stop offset="1" stop-color="#e1f0fb"/></linearGradient><linearGradient id="e274" x1="0" y1="0" x2="0" y2="1"><stop offset="0" stop-color="#e8f4fc"/><stop offset=".064" stop-color="#e8f4fc"/><stop offset=".101" stop-color="#deeffb"/><stop offset=".189" stop-color="#86c4ed"/><stop offset=".261" stop-color="#deeffb"/><stop offset=".314" stop-color="#eff7fd"/><stop offset=".439" stop-color="#e0f0fb"/><stop offset=".490" stop-color="#deeffb"/><stop offset=".564" stop-color="#d3e9f9"/><stop offset=".620" stop-color="#deeffb"/><stop offset=".689" stop-color="#e2f1fb"/><stop offset=".813" stop-color="#e2f1fb"/><stop offset=".871" stop-color="#deeffb"/><stop offset=".938" stop-color="#cce6f8"/><stop offset="1" stop-color="#cce6f8"/></linearGradient><linearGradient id="e275" x1="0" y1="0" x2="0" y2="1"><stop offset="0" stop-color="#bddff6"/><stop offset=".064" stop-color="#bddff6"/><stop offset=".189" stop-color="#86c4ed"/><stop offset=".267" stop-color="#deeffb"/><stop offset=".314" stop-color="#ecf6fd"/><stop offset=".439" stop-color="#e4f2fc"/><stop offset=".564" stop-color="#dff0fb"/><stop offset=".813" stop-color="#e3f2fc"/><stop offset=".938" stop-color="#dfeffb"/><stop offset="1" stop-color="#dfeffb"/></linearGradient><linearGradient id="e276" x1="0" y1="0" x2="0" y2="1"><stop offset="0" stop-color="#76bdeb"/><stop offset=".064" stop-color="#76bdeb"/><stop offset=".189" stop-color="#86c4ed"/><stop offset=".274" stop-color="#deeffb"/><stop offset=".314" stop-color="#e9f4fc"/><stop offset=".564" stop-color="#e4f2fc"/><stop offset=".689" stop-color="#dfeffb"/><stop offset=".813" stop-color="#e5f2fc"/><stop offset="1" stop-color="#e4f2fc"/></linearGradient><linearGradient id="e277" x1="0" y1="0" x2="0" y2="1"><stop offset="0" stop-color="#49a3de"/><stop offset=".064" stop-color="#49a3de"/><stop offset=".140" stop-color="#64b4e8"/><stop offset=".189" stop-color="#86c4ed"/><stop offset=".282" stop-color="#deeffb"/><stop offset=".314" stop-color="#e6f3fc"/><stop offset=".439" stop-color="#eaf5fd"/><stop offset=".564" stop-color="#e8f4fc"/><stop offset=".680" stop-color="#deeffb"/><stop offset=".689" stop-color="#dbeefb"/><stop offset=".699" stop-color="#deeffb"/><stop offset=".813" stop-color="#e6f3fc"/><stop offset=".938" stop-color="#eaf5fc"/><stop offset="1" stop-color="#eaf5fc"/></linearGradient><linearGradient id="e278" x1="0" y1="0" x2="0" y2="1"><stop offset="0" stop-color="#4ba4df"/><stop offset=".064" stop-color="#4ba4df"/><stop offset=".132" stop-color="#64b4e8"/><stop offset=".189" stop-color="#8cc7ee"/><stop offset=".284" stop-color="#deeffb"/><stop offset=".314" stop-color="#e5f2fc"/><stop offset=".564" stop-color="#e9f5fc"/><stop offset=".689" stop-color="#e0f0fb"/><stop offset=".813" stop-color="#e5f2fc"/><stop offset="1" stop-color="#e4f2fc"/></linearGradient><linearGradient id="e279" x1="0" y1="0" x2="0" y2="1"><stop offset="0" stop-color="#4da5e0"/><stop offset=".064" stop-color="#4da5e0"/><stop offset=".125" stop-color="#64b4e8"/><stop offset=".189" stop-color="#93cbef"/><stop offset=".287" stop-color="#deeffb"/><stop offset=".314" stop-color="#e4f2fc"/><stop offset=".439" stop-color="#e4f2fc"/><stop offset=".564" stop-color="#eaf5fd"/><stop offset=".689" stop-color="#e3f1fc"/><stop offset=".813" stop-color="#e3f1fc"/><stop offset=".938" stop-color="#dfeffb"/><stop offset="1" stop-color="#dfeffb"/></linearGradient><linearGradient id="e280" x1="0" y1="0" x2="0" y2="1"><stop offset="0" stop-color="#4fa6e1"/><stop offset=".064" stop-color="#4fa6e1"/><stop offset=".118" stop-color="#64b4e8"/><stop offset=".189" stop-color="#99cef0"/><stop offset=".289" stop-color="#deeffb"/><stop offset=".314" stop-color="#e3f1fc"/><stop offset=".439" stop-color="#e0f0fb"/><stop offset=".564" stop-color="#ecf6fd"/><stop offset=".866" stop-color="#deeffb"/><stop offset=".938" stop-color="#cce6f8"/><stop offset="1" stop-color="#cce6f8"/></linearGradient><linearGradient id="e281" x1="0" y1="0" x2="0" y2="1"><stop offset="0" stop-color="#55aae3"/><stop offset=".064" stop-color="#55aae3"/><stop offset=".096" stop-color="#64b4e8"/><stop offset=".189" stop-color="#b7dcf5"/><stop offset=".245" stop-color="#deeffb"/><stop offset=".314" stop-color="#ebf5fd"/><stop offset=".439" stop-color="#e4f2fc"/><stop offset=".564" stop-color="#eef7fd"/><stop offset=".689" stop-color="#eaf5fc"/><stop offset=".896" stop-color="#deeffb"/><stop offset=".938" stop-color="#d4eaf9"/><stop offset="1" stop-color="#d4eaf9"/></linearGradient><linearGradient id="e282" x1="0" y1="0" x2="0" y2="1"><stop offset="0" stop-color="#5baee5"/><stop offset=".064" stop-color="#5baee5"/><stop offset=".081" stop-color="#64b4e8"/><stop offset=".189" stop-color="#d5ebfa"/><stop offset=".201" stop-color="#deeffb"/><stop offset=".314" stop-color="#f3f9fe"/><stop offset=".439" stop-color="#e7f3fc"/><stop offset=".564" stop-color="#f0f8fd"/><stop offset=".689" stop-color="#eff7fd"/><stop offset=".927" stop-color="#deeffb"/><stop offset=".938" stop-color="#dbeefb"/><stop offset="1" stop-color="#dbeefb"/></linearGradient><linearGradient id="e283" x1="0" y1="0" x2="0" y2="1"><stop offset="0" stop-color="#61b2e7"/><stop offset=".064" stop-color="#61b2e7"/><stop offset=".069" stop-color="#64b4e8"/><stop offset=".171" stop-color="#deeffb"/><stop offset=".189" stop-color="#e4f2fc"/><stop offset=".314" stop-color="#fbfdff"/><stop offset=".439" stop-color="#eaf5fc"/><stop offset=".564" stop-color="#f2f9fd"/><stop offset=".689" stop-color="#f4f9fe"/><stop offset=".813" stop-color="#e7f3fc"/><stop offset=".938" stop-color="#dff0fb"/><stop offset="1" stop-color="#dff0fb"/></linearGradient><linearGradient id="e284" x1="0" y1="0" x2="0" y2="1"><stop offset="0" stop-color="#93cbef"/><stop offset=".064" stop-color="#93cbef"/><stop offset=".157" stop-color="#deeffb"/><stop offset=".189" stop-color="#e5f2fc"/><stop offset=".314" stop-color="#f4fafe"/><stop offset=".439" stop-color="#ebf5fd"/><stop offset=".564" stop-color="#eaf5fc"/><stop offset=".689" stop-color="#edf6fd"/><stop offset=".813" stop-color="#e5f2fc"/><stop offset="1" stop-color="#e2f1fb"/></linearGradient><linearGradient id="e285" x1="0" y1="0" x2="0" y2="1"><stop offset="0" stop-color="#c9e5f8"/><stop offset=".064" stop-color="#c9e5f8"/><stop offset=".116" stop-color="#deeffb"/><stop offset=".189" stop-color="#e6f3fc"/><stop offset=".314" stop-color="#eef7fd"/><stop offset=".439" stop-color="#edf6fd"/><stop offset=".564" stop-color="#e2f1fb"/><stop offset=".689" stop-color="#e6f3fc"/><stop offset=".813" stop-color="#e3f1fc"/><stop offset="1" stop-color="#e4f2fc"/></linearGradient><linearGradient id="e286" x1="0" y1="0" x2="0" y2="1"><stop offset="0" stop-color="#e7f3fc"/><stop offset=".314" stop-color="#e7f3fc"/><stop offset=".439" stop-color="#eef7fd"/><stop offset=".536" stop-color="#deeffb"/><stop offset=".564" stop-color="#cde7f8"/><stop offset=".670" stop-color="#deeffb"/><stop offset=".813" stop-color="#e1f0fb"/><stop offset=".938" stop-color="#e7f3fc"/><stop offset="1" stop-color="#e7f3fc"/></linearGradient><linearGradient id="e287" x1="0" y1="0" x2="0" y2="1"><stop offset="0" stop-color="#c5e3f7"/><stop offset=".064" stop-color="#c5e3f7"/><stop offset=".122" stop-color="#deeffb"/><stop offset=".189" stop-color="#e6f3fc"/><stop offset=".314" stop-color="#edf6fd"/><stop offset=".439" stop-color="#f0f8fd"/><stop offset=".564" stop-color="#e0f0fb"/><stop offset=".689" stop-color="#dfeffb"/><stop offset=".813" stop-color="#e1f0fb"/><stop offset=".938" stop-color="#e7f3fc"/><stop offset="1" stop-color="#e7f3fc"/></linearGradient><linearGradient id="e288" x1="0" y1="0" x2="0" y2="1"><stop offset="0" stop-color="#8bc7ee"/><stop offset=".064" stop-color="#8bc7ee"/><stop offset=".160" stop-color="#deeffb"/><stop offset=".189" stop-color="#e5f2fc"/><stop offset=".314" stop-color="#f2f9fd"/><stop offset=".439" stop-color="#f1f8fd"/><stop offset=".564" stop-color="#e6f3fc"/><stop offset=".689" stop-color="#deeffb"/><stop offset=".813" stop-color="#e0f0fb"/><stop offset=".938" stop-color="#e7f3fc"/><stop offset="1" stop-color="#e7f3fc"/></linearGradient><linearGradient id="e289" x1="0" y1="0" x2="0" y2="1"><stop offset="0" stop-color="#5aaee5"/><stop offset=".064" stop-color="#5aaee5"/><stop offset=".078" stop-color="#64b4e8"/><stop offset=".172" stop-color="#deeffb"/><stop offset=".189" stop-color="#e4f2fc"/><stop offset=".314" stop-color="#f8fcfe"/><stop offset=".564" stop-color="#ecf6fd"/><stop offset=".689" stop-color="#deeffb"/><stop offset=".813" stop-color="#e0f0fb"/><stop offset=".938" stop-color="#e7f3fc"/><stop offset="1" stop-color="#e7f3fc"/></linearGradient><linearGradient id="e290" x1="0" y1="0" x2="0" y2="1"><stop offset="0" stop-color="#4ba4df"/><stop offset=".064" stop-color="#4ba4df"/><stop offset=".097" stop-color="#64b4e8"/><stop offset=".179" stop-color="#deeffb"/><stop offset=".189" stop-color="#e2f1fb"/><stop offset=".314" stop-color="#f3f9fe"/><stop offset=".564" stop-color="#edf6fd"/><stop offset=".689" stop-color="#e5f2fc"/><stop offset=".813" stop-color="#e4f2fc"/><stop offset="1" stop-color="#e6f3fc"/></linearGradient><linearGradient id="e291" x1="0" y1="0" x2="0" y2="1"><stop offset="0" stop-color="#3b9ada"/><stop offset=".064" stop-color="#3b9ada"/><stop offset=".111" stop-color="#64b4e8"/><stop offset=".184" stop-color="#deeffb"/><stop offset=".189" stop-color="#e0f0fb"/><stop offset=".314" stop-color="#eff7fd"/><stop offset=".439" stop-color="#ecf6fd"/><stop offset=".564" stop-color="#edf6fd"/><stop offset=".813" stop-color="#e7f3fc"/><stop offset="1" stop-color="#e6f3fc"/></linearGradient><linearGradient id="e292" x1="0" y1="0" x2="0" y2="1"><stop offset="0" stop-color="#2b90d4"/><stop offset=".064" stop-color="#2b90d4"/><stop offset=".123" stop-color="#64b4e8"/><stop offset=".189" stop-color="#deeffb"/><stop offset=".314" stop-color="#ebf5fd"/><stop offset=".439" stop-color="#e9f4fc"/><stop offset=".689" stop-color="#f1f8fd"/><stop offset=".813" stop-color="#eaf5fc"/><stop offset=".938" stop-color="#e5f2fc"/><stop offset="1" stop-color="#e5f2fc"/></linearGradient><linearGradient id="e293" x1="0" y1="0" x2="0" y2="1"><stop offset="0" stop-color="#3b9ada"/><stop offset=".064" stop-color="#3b9ada"/><stop offset=".123" stop-color="#64b4e8"/><stop offset=".189" stop-color="#bddff6"/><stop offset=".238" stop-color="#deeffb"/><stop offset=".314" stop-color="#ecf6fd"/><stop offset=".439" stop-color="#e3f1fc"/><stop offset=".564" stop-color="#eaf5fc"/><stop offset=".813" stop-color="#e8f4fc"/><stop offset=".938" stop-color="#e0f0fb"/><stop offset="1" stop-color="#e0f0fb"/></linearGradient><linearGradient id="e294" x1="0" y1="0" x2="0" y2="1"><stop offset="0" stop-color="#4ba4df"/><stop offset=".064" stop-color="#4ba4df"/><stop offset=".122" stop-color="#64b4e8"/><stop offset=".189" stop-color="#9ccff1"/><stop offset=".257" stop-color="#deeffb"/><stop offset=".314" stop-color="#edf6fd"/><stop offset=".433" stop-color="#deeffb"/><stop offset=".439" stop-color="#dbeefb"/><stop offset=".449" stop-color="#deeffb"/><stop offset=".564" stop-color="#e6f3fc"/><stop offset=".689" stop-color="#e1f0fb"/><stop offset=".813" stop-color="#e6f3fc"/><stop offset=".898" stop-color="#deeffb"/><stop offset=".938" stop-color="#cfe8f9"/><stop offset="1" stop-color="#cfe8f9"/></linearGradient><linearGradient id="e295" x1="0" y1="0" x2="0" y2="1"><stop offset="0" stop-color="#5baee5"/><stop offset=".064" stop-color="#5baee5"/><stop offset=".118" stop-color="#64b4e8"/><stop offset=".189" stop-color="#7cbfec"/><stop offset=".268" stop-color="#deeffb"/><stop offset=".314" stop-color="#edf6fd"/><stop offset=".402" stop-color="#deeffb"/><stop offset=".439" stop-color="#c7e4f7"/><stop offset=".514" stop-color="#deeffb"/><stop offset=".564" stop-color="#e2f1fb"/><stop offset=".617" stop-color="#deeffb"/><stop offset=".689" stop-color="#cae5f8"/><stop offset=".745" stop-color="#deeffb"/><stop offset=".813" stop-color="#e5f2fc"/><stop offset=".865" stop-color="#deeffb"/><stop offset=".938" stop-color="#bbdef6"/><stop offset="1" stop-color="#bbdef6"/></linearGradient><linearGradient id="e296" x1="0" y1="0" x2="0" y2="1"><stop offset="0" stop-color="#5dafe5"/><stop offset=".064" stop-color="#5dafe5"/><stop offset=".120" stop-color="#64b4e8"/><stop offset=".189" stop-color="#75bceb"/><stop offset=".280" stop-color="#deeffb"/><stop offset=".314" stop-color="#e8f4fc"/><stop offset=".419" stop-color="#deeffb"/><stop offset=".439" stop-color="#d7ebfa"/><stop offset=".490" stop-color="#deeffb"/><stop offset=".564" stop-color="#e1f0fb"/><stop offset=".597" stop-color="#deeffb"/><stop offset=".689" stop-color="#c2e1f7"/><stop offset=".778" stop-color="#deeffb"/><stop offset=".813" stop-color="#e1f0fb"/><stop offset=".855" stop-color="#deeffb"/><stop offset=".938" stop-color="#c8e4f8"/><stop offset="1" stop-color="#c8e4f8"/></linearGradient><linearGradient id="e297" x1="0" y1="0" x2="0" y2="1"><stop offset="0" stop-color="#5fb1e6"/><stop offset=".064" stop-color="#5fb1e6"/><stop offset=".126" stop-color="#64b4e8"/><stop offset=".189" stop-color="#6fb9ea"/><stop offset=".295" stop-color="#deeffb"/><stop offset=".314" stop-color="#e3f2fc"/><stop offset=".564" stop-color="#e0f0fb"/><stop offset=".581" stop-color="#deeffb"/><stop offset=".689" stop-color="#b9ddf5"/><stop offset=".813" stop-color="#dceefb"/><stop offset=".938" stop-color="#d4eaf9"/><stop offset="1" stop-color="#d4eaf9"/></linearGradient><linearGradient id="e298" x1="0" y1="0" x2="0" y2="1"><stop offset="0" stop-color="#61b2e7"/><stop offset=".064" stop-color="#61b2e7"/><stop offset=".141" stop-color="#64b4e8"/><stop offset=".189" stop-color="#68b6e9"/><stop offset=".314" stop-color="#deeffb"/><stop offset=".439" stop-color="#e5f2fc"/><stop offset=".567" stop-color="#deeffb"/><stop offset=".689" stop-color="#b1d9f4"/><stop offset=".813" stop-color="#cfe8f9"/><stop offset=".922" stop-color="#deeffb"/><stop offset="1" stop-color="#dfeffb"/></linearGradient><linearGradient id="e299" x1="0" y1="0" x2="0" y2="1"><stop offset="0" stop-color="#60b1e6"/><stop offset=".064" stop-color="#60b1e6"/><stop offset=".189" stop-color="#65b4e8"/><stop offset=".314" stop-color="#daedfa"/><stop offset=".339" stop-color="#deeffb"/><stop offset=".439" stop-color="#e2f1fb"/><stop offset=".546" stop-color="#deeffb"/><stop offset=".564" stop-color="#dceefb"/><stop offset=".689" stop-color="#b0d9f4"/><stop offset=".938" stop-color="#deeffb"/><stop offset="1" stop-color="#deeffb"/></linearGradient><linearGradient id="e300" x1="0" y1="0" x2="0" y2="1"><stop offset="0" stop-color="#5fb1e6"/><stop offset=".064" stop-color="#5fb1e6"/><stop offset=".191" stop-color="#64b4e8"/><stop offset=".314" stop-color="#d5ebfa"/><stop offset=".396" stop-color="#deeffb"/><stop offset=".439" stop-color="#dff0fb"/><stop offset=".493" stop-color="#deeffb"/><stop offset=".564" stop-color="#d8ecfa"/><stop offset=".689" stop-color="#b0d9f4"/><stop offset=".813" stop-color="#bee0f6"/><stop offset=".938" stop-color="#dceefb"/><stop offset="1" stop-color="#dceefb"/></linearGradient><linearGradient id="e301" x1="0" y1="0" x2="0" y2="1"><stop offset="0" stop-color="#5eb0e6"/><stop offset=".064" stop-color="#5eb0e6"/><stop offset=".189" stop-color="#61b2e7"/><stop offset=".195" stop-color="#64b4e8"/><stop offset=".314" stop-color="#d0e8f9"/><stop offset=".439" stop-color="#d9edfa"/><stop offset=".564" stop-color="#d4eaf9"/><stop offset=".689" stop-color="#afd8f4"/><stop offset=".813" stop-color="#b6dcf5"/><stop offset=".938" stop-color="#daedfa"/><stop offset="1" stop-color="#daedfa"/></linearGradient><linearGradient id="e302" x1="0" y1="0" x2="0" y2="1"><stop offset="0" stop-color="#61b2e7"/><stop offset=".064" stop-color="#61b2e7"/><stop offset=".122" stop-color="#64b4e8"/><stop offset=".189" stop-color="#6cb8e9"/><stop offset=".303" stop-color="#deeffb"/><stop offset=".314" stop-color="#e1f0fb"/><stop offset=".439" stop-color="#e0f0fb"/><stop offset=".510" stop-color="#deeffb"/><stop offset=".564" stop-color="#d7ecfa"/><stop offset=".689" stop-color="#c1e1f6"/><stop offset=".813" stop-color="#daedfa"/><stop offset=".847" stop-color="#deeffb"/><stop offset=".938" stop-color="#e1f1fb"/><stop offset="1" stop-color="#e1f1fb"/></linearGradient><linearGradient id="e303" x1="0" y1="0" x2="0" y2="1"><stop offset="0" stop-color="#64b4e8"/><stop offset=".069" stop-color="#64b4e8"/><stop offset=".189" stop-color="#79beeb"/><stop offset=".282" stop-color="#deeffb"/><stop offset=".314" stop-color="#e7f4fc"/><stop offset=".439" stop-color="#e4f2fc"/><stop offset=".547" stop-color="#deeffb"/><stop offset=".564" stop-color="#daedfa"/><stop offset=".689" stop-color="#d2e9f9"/><stop offset=".723" stop-color="#deeffb"/><stop offset=".813" stop-color="#e7f3fc"/><stop offset="1" stop-color="#e5f3fc"/></linearGradient><linearGradient id="e304" x1="0" y1="0" x2="0" y2="1"><stop offset="0" stop-color="#69b6e9"/><stop offset=".064" stop-color="#69b6e9"/><stop offset=".189" stop-color="#86c4ed"/><stop offset=".264" stop-color="#deeffb"/><stop offset=".314" stop-color="#eef7fd"/><stop offset=".439" stop-color="#e8f4fc"/><stop offset=".573" stop-color="#deeffb"/><stop offset=".689" stop-color="#dff0fb"/><stop offset=".813" stop-color="#f0f8fd"/><stop offset=".938" stop-color="#eaf5fc"/><stop offset="1" stop-color="#eaf5fc"/></linearGradient><linearGradient id="e305" x1="0" y1="0" x2="0" y2="1"><stop offset="0" stop-color="#65b4e8"/><stop offset=".064" stop-color="#65b4e8"/><stop offset=".189" stop-color="#96ccf0"/><stop offset=".269" stop-color="#deeffb"/><stop offset=".314" stop-color="#e9f4fc"/><stop offset=".439" stop-color="#e8f4fc"/><stop offset=".564" stop-color="#e2f1fb"/><stop offset=".689" stop-color="#e4f2fc"/><stop offset=".813" stop-color="#ebf5fd"/><stop offset=".938" stop-color="#e5f2fc"/><stop offset="1" stop-color="#e5f2fc"/></linearGradient><linearGradient id="e306" x1="0" y1="0" x2="0" y2="1"><stop offset="0" stop-color="#62b3e7"/><stop offset=".064" stop-color="#62b3e7"/><stop offset=".069" stop-color="#64b4e8"/><stop offset=".189" stop-color="#a6d4f2"/><stop offset=".279" stop-color="#deeffb"/><stop offset=".314" stop-color="#e4f2fc"/><stop offset=".439" stop-color="#e8f4fc"/><stop offset=".564" stop-color="#e6f3fc"/><stop offset=".689" stop-color="#e8f4fc"/><stop offset=".813" stop-color="#e6f3fc"/><stop offset=".938" stop-color="#e0f0fb"/><stop offset="1" stop-color="#e0f0fb"/></linearGradient><linearGradient id="e307" x1="0" y1="0" x2="0" y2="1"><stop offset="0" stop-color="#61b2e7"/><stop offset=".064" stop-color="#61b2e7"/><stop offset=".073" stop-color="#64b4e8"/><stop offset=".189" stop-color="#b6dcf5"/><stop offset=".306" stop-color="#deeffb"/><stop offset=".439" stop-color="#e8f4fc"/><stop offset=".689" stop-color="#ecf6fd"/><stop offset=".813" stop-color="#e2f1fb"/><stop offset=".879" stop-color="#deeffb"/><stop offset=".938" stop-color="#d2e9f9"/><stop offset="1" stop-color="#d2e9f9"/></linearGradient><linearGradient id="e308" x1="0" y1="0" x2="0" y2="1"><stop offset="0" stop-color="#60b1e6"/><stop offset=".064" stop-color="#60b1e6"/><stop offset=".079" stop-color="#64b4e8"/><stop offset=".189" stop-color="#a3d2f2"/><stop offset=".270" stop-color="#deeffb"/><stop offset=".314" stop-color="#e7f3fc"/><stop offset=".564" stop-color="#eff7fd"/><stop offset=".813" stop-color="#e6f3fc"/><stop offset=".938" stop-color="#deeffb"/><stop offset="1" stop-color="#deeffb"/></linearGradient><linearGradient id="e309" x1="0" y1="0" x2="0" y2="1"><stop offset="0" stop-color="#5fb1e6"/><stop offset=".064" stop-color="#5fb1e6"/><stop offset=".088" stop-color="#64b4e8"/><stop offset=".189" stop-color="#8fc9ef"/><stop offset=".259" stop-color="#deeffb"/><stop offset=".314" stop-color="#eff7fd"/><stop offset=".439" stop-color="#f0f8fd"/><stop offset=".564" stop-color="#f5fafe"/><stop offset=".689" stop-color="#ebf5fd"/><stop offset=".813" stop-color="#eaf5fd"/><stop offset=".938" stop-color="#e2f1fb"/><stop offset="1" stop-color="#e2f1fb"/></linearGradient><linearGradient id="e310" x1="0" y1="0" x2="0" y2="1"><stop offset="0" stop-color="#5eb0e6"/><stop offset=".064" stop-color="#5eb0e6"/><stop offset=".107" stop-color="#64b4e8"/><stop offset=".189" stop-color="#7cc0ec"/><stop offset=".253" stop-color="#deeffb"/><stop offset=".314" stop-color="#f7fbfe"/><stop offset=".439" stop-color="#f4fafe"/><stop offset=".564" stop-color="#fafdfe"/><stop offset=".689" stop-color="#ebf5fd"/><stop offset=".813" stop-color="#eff7fd"/><stop offset=".938" stop-color="#e5f2fc"/><stop offset="1" stop-color="#e5f2fc"/></linearGradient><linearGradient id="e311" x1="0" y1="0" x2="0" y2="1"><stop offset="0" stop-color="#60b1e6"/><stop offset=".064" stop-color="#60b1e6"/><stop offset=".097" stop-color="#64b4e8"/><stop offset=".189" stop-color="#7cc0ec"/><stop offset=".255" stop-color="#deeffb"/><stop offset=".314" stop-color="#f5fafe"/><stop offset=".439" stop-color="#eff7fd"/><stop offset=".564" stop-color="#eef7fd"/><stop offset=".689" stop-color="#e4f2fc"/><stop offset=".813" stop-color="#e6f3fc"/><stop offset="1" stop-color="#e3f1fc"/></linearGradient><linearGradient id="e312" x1="0" y1="0" x2="0" y2="1"><stop offset="0" stop-color="#62b2e7"/><stop offset=".064" stop-color="#62b2e7"/><stop offset=".085" stop-color="#64b4e8"/><stop offset=".189" stop-color="#7cc0ec"/><stop offset=".257" stop-color="#deeffb"/><stop offset=".314" stop-color="#f4fafe"/><stop offset=".564" stop-color="#e1f1fb"/><stop offset=".658" stop-color="#deeffb"/><stop offset=".689" stop-color="#daedfa"/><stop offset=".813" stop-color="#dceefb"/><stop offset=".938" stop-color="#e0f0fb"/><stop offset="1" stop-color="#e0f0fb"/></linearGradient><linearGradient id="e313" x1="0" y1="0" x2="0" y2="1"><stop offset="0" stop-color="#64b4e8"/><stop offset=".067" stop-color="#64b4e8"/><stop offset=".189" stop-color="#7cc0ec"/><stop offset=".259" stop-color="#deeffb"/><stop offset=".314" stop-color="#f3f9fe"/><stop offset=".439" stop-color="#e6f3fc"/><stop offset=".497" stop-color="#deeffb"/><stop offset=".564" stop-color="#bcdff6"/><stop offset=".689" stop-color="#c1e1f6"/><stop offset=".813" stop-color="#bcdff6"/><stop offset=".938" stop-color="#ddeffb"/><stop offset="1" stop-color="#ddeffb"/></linearGradient><linearGradient id="e314" x1="0" y1="0" x2="0" y2="1"><stop offset="0" stop-color="#97cdf0"/><stop offset=".064" stop-color="#97cdf0"/><stop offset=".189" stop-color="#86c4ed"/><stop offset=".262" stop-color="#deeffb"/><stop offset=".314" stop-color="#eff7fd"/><stop offset=".439" stop-color="#e6f3fc"/><stop offset=".499" stop-color="#deeffb"/><stop offset=".564" stop-color="#bfe0f6"/><stop offset=".689" stop-color="#d9edfa"/><stop offset=".813" stop-color="#bcdef6"/><stop offset=".938" stop-color="#deeffb"/><stop offset="1" stop-color="#deeffb"/></linearGradient><linearGradient id="e315" x1="0" y1="0" x2="0" y2="1"><stop offset="0" stop-color="#cbe6f8"/><stop offset=".064" stop-color="#cbe6f8"/><stop offset=".189" stop-color="#8fc9ef"/><stop offset=".266" stop-color="#deeffb"/><stop offset=".314" stop-color="#ebf5fd"/><stop offset=".439" stop-color="#e6f3fc"/><stop offset=".502" stop-color="#deeffb"/><stop offset=".564" stop-color="#c2e2f7"/><stop offset=".637" stop-color="#deeffb"/><stop offset=".689" stop-color="#e3f2fc"/><stop offset=".733" stop-color="#deeffb"/><stop offset=".813" stop-color="#bbdef6"/><stop offset=".928" stop-color="#deeffb"/><stop offset="1" stop-color="#dfeffb"/></linearGradient><linearGradient id="e316" x1="0" y1="0" x2="0" y2="1"><stop offset="0" stop-color="#e7f3fc"/><stop offset=".064" stop-color="#e7f3fc"/><stop offset=".104" stop-color="#deeffb"/><stop offset=".189" stop-color="#99cef0"/><stop offset=".272" stop-color="#deeffb"/><stop offset=".314" stop-color="#e7f3fc"/><stop offset=".439" stop-color="#e6f3fc"/><stop offset=".505" stop-color="#deeffb"/><stop offset=".564" stop-color="#c5e3f7"/><stop offset=".609" stop-color="#deeffb"/><stop offset=".689" stop-color="#eaf5fc"/><stop offset=".758" stop-color="#deeffb"/><stop offset=".813" stop-color="#bbdef5"/><stop offset=".923" stop-color="#deeffb"/><stop offset="1" stop-color="#dff0fb"/></linearGradient><linearGradient id="e317" x1="0" y1="0" x2="0" y2="1"><stop offset="0" stop-color="#e5f2fc"/><stop offset=".064" stop-color="#e5f2fc"/><stop offset=".116" stop-color="#deeffb"/><stop offset=".189" stop-color="#bbdef6"/><stop offset=".237" stop-color="#deeffb"/><stop offset=".314" stop-color="#edf6fd"/><stop offset=".439" stop-color="#e6f3fc"/><stop offset=".511" stop-color="#deeffb"/><stop offset=".564" stop-color="#c9e5f8"/><stop offset=".603" stop-color="#deeffb"/><stop offset=".689" stop-color="#eaf5fc"/><stop offset=".787" stop-color="#deeffb"/><stop offset=".813" stop-color="#d2e9f9"/><stop offset=".877" stop-color="#deeffb"/><stop offset=".938" stop-color="#e1f1fb"/><stop offset="1" stop-color="#e1f1fb"/></linearGradient><linearGradient id="e318" x1="0" y1="0" x2="0" y2="1"><stop offset="0" stop-color="#e3f1fc"/><stop offset=".064" stop-color="#e3f1fc"/><stop offset=".190" stop-color="#deeffb"/><stop offset=".314" stop-color="#f2f9fd"/><stop offset=".519" stop-color="#deeffb"/><stop offset=".564" stop-color="#cee7f8"/><stop offset=".596" stop-color="#deeffb"/><stop offset=".689" stop-color="#eaf5fd"/><stop offset=".813" stop-color="#e1f1fb"/><stop offset="1" stop-color="#e3f1fc"/></linearGradient><linearGradient id="e319" x1="0" y1="0" x2="0" y2="1"><stop offset="0" stop-color="#e0f0fb"/><stop offset=".064" stop-color="#e0f0fb"/><stop offset=".189" stop-color="#e7f3fc"/><stop offset=".314" stop-color="#f8fcfe"/><stop offset=".439" stop-color="#e6f3fc"/><stop offset=".528" stop-color="#deeffb"/><stop offset=".564" stop-color="#d2e9f9"/><stop offset=".589" stop-color="#deeffb"/><stop offset=".689" stop-color="#ebf5fd"/><stop offset="1" stop-color="#e5f2fc"/></linearGradient><linearGradient id="e320" x1="0" y1="0" x2="0" y2="1"><stop offset="0" stop-color="#9acef0"/><stop offset=".064" stop-color="#9acef0"/><stop offset=".148" stop-color="#deeffb"/><stop offset=".189" stop-color="#e7f3fc"/><stop offset=".314" stop-color="#f8fcfe"/><stop offset=".439" stop-color="#eaf5fd"/><stop offset=".564" stop-color="#e1f0fb"/><stop offset=".689" stop-color="#edf6fd"/><stop offset=".813" stop-color="#e5f3fc"/><stop offset="1" stop-color="#e7f3fc"/></linearGradient><linearGradient id="e321" x1="0" y1="0" x2="0" y2="1"><stop offset="0" stop-color="#58ade4"/><stop offset=".064" stop-color="#58ade4"/><stop offset=".080" stop-color="#64b4e8"/><stop offset=".166" stop-color="#deeffb"/><stop offset=".189" stop-color="#e7f3fc"/><stop offset=".314" stop-color="#f8fbfe"/><stop offset=".564" stop-color="#e7f3fc"/><stop offset=".689" stop-color="#eef7fd"/><stop offset=".813" stop-color="#e3f1fc"/><stop offset=".938" stop-color="#e9f4fc"/><stop offset="1" stop-color="#e9f4fc"/></linearGradient><linearGradient id="e322" x1="0" y1="0" x2="0" y2="1"><stop offset="0" stop-color="#3194d6"/><stop offset=".064" stop-color="#3194d6"/><stop offset=".112" stop-color="#64b4e8"/><stop offset=".173" stop-color="#deeffb"/><stop offset=".189" stop-color="#e7f3fc"/><stop offset=".314" stop-color="#f8fbfe"/><stop offset=".564" stop-color="#edf6fd"/><stop offset=".689" stop-color="#f0f8fd"/><stop offset=".813" stop-color="#e1f0fb"/><stop offset=".938" stop-color="#ebf5fd"/><stop offset="1" stop-color="#ebf5fd"/></linearGradient><linearGradient id="e323" x1="0" y1="0" x2="0" y2="1"><stop offset="0" stop-color="#3395d7"/><stop offset=".064" stop-color="#3395d7"/><stop offset=".111" stop-color="#64b4e8"/><stop offset=".172" stop-color="#deeffb"/><stop offset=".189" stop-color="#e7f3fc"/><stop offset=".314" stop-color="#f6fafe"/><stop offset=".439" stop-color="#f2f9fd"/><stop offset=".564" stop-color="#e9f4fc"/><stop offset=".689" stop-color="#eef7fd"/><stop offset=".813" stop-color="#e1f1fb"/><stop offset=".938" stop-color="#eaf5fd"/><stop offset="1" stop-color="#eaf5fd"/></linearGradient><linearGradient id="e324" x1="0" y1="0" x2="0" y2="1"><stop offset="0" stop-color="#3596d8"/><stop offset=".064" stop-color="#3596d8"/><stop offset=".110" stop-color="#64b4e8"/><stop offset=".172" stop-color="#deeffb"/><stop offset=".189" stop-color="#e7f3fc"/><stop offset=".314" stop-color="#f4fafe"/><stop offset=".439" stop-color="#f1f8fd"/><stop offset=".564" stop-color="#e4f2fc"/><stop offset=".689" stop-color="#ebf6fd"/><stop offset=".813" stop-color="#e2f1fb"/><stop offset=".938" stop-color="#e9f5fc"/><stop offset="1" stop-color="#e9f5fc"/></linearGradient><linearGradient id="e325" x1="0" y1="0" x2="0" y2="1"><stop offset="0" stop-color="#3797d8"/><stop offset=".064" stop-color="#3797d8"/><stop offset=".109" stop-color="#64b4e8"/><stop offset=".172" stop-color="#deeffb"/><stop offset=".189" stop-color="#e7f3fc"/><stop offset=".314" stop-color="#f2f9fd"/><stop offset=".439" stop-color="#f0f8fd"/><stop offset=".564" stop-color="#e0f0fb"/><stop offset=".689" stop-color="#e9f4fc"/><stop offset=".813" stop-color="#e2f1fb"/><stop offset=".938" stop-color="#e8f4fc"/><stop offset="1" stop-color="#e8f4fc"/></linearGradient><linearGradient id="e326" x1="0" y1="0" x2="0" y2="1"><stop offset="0" stop-color="#45a0dd"/><stop offset=".064" stop-color="#45a0dd"/><stop offset=".108" stop-color="#64b4e8"/><stop offset=".189" stop-color="#d3eaf9"/><stop offset=".207" stop-color="#deeffb"/><stop offset=".314" stop-color="#f0f7fd"/><stop offset=".439" stop-color="#ebf5fd"/><stop offset=".564" stop-color="#dfeffb"/><stop offset=".689" stop-color="#e9f4fc"/><stop offset=".813" stop-color="#e5f2fc"/><stop offset=".938" stop-color="#eaf5fc"/><stop offset="1" stop-color="#eaf5fc"/></linearGradient><linearGradient id="e327" x1="0" y1="0" x2="0" y2="1"><stop offset="0" stop-color="#53a9e2"/><stop offset=".064" stop-color="#53a9e2"/><stop offset=".105" stop-color="#64b4e8"/><stop offset=".189" stop-color="#a7d4f2"/><stop offset=".250" stop-color="#deeffb"/><stop offset=".314" stop-color="#edf6fd"/><stop offset=".439" stop-color="#e7f3fc"/><stop offset=".564" stop-color="#ddeefb"/><stop offset=".689" stop-color="#e8f4fc"/><stop offset=".813" stop-color="#e8f4fc"/><stop offset="1" stop-color="#ebf5fd"/></linearGradient><linearGradient id="e328" x1="0" y1="0" x2="0" y2="1"><stop offset="0" stop-color="#61b2e7"/><stop offset=".064" stop-color="#61b2e7"/><stop offset=".091" stop-color="#64b4e8"/><stop offset=".189" stop-color="#7cc0ec"/><stop offset=".273" stop-color="#deeffb"/><stop offset=".314" stop-color="#ebf5fd"/><stop offset=".535" stop-color="#deeffb"/><stop offset=".564" stop-color="#d9edfa"/><stop offset=".579" stop-color="#deeffb"/><stop offset=".689" stop-color="#e8f4fc"/><stop offset="1" stop-color="#ecf6fd"/></linearGradient><linearGradient id="e329" x1="0" y1="0" x2="0" y2="1"><stop offset="0" stop-color="#71baea"/><stop offset=".064" stop-color="#71baea"/><stop offset=".189" stop-color="#99cef0"/><stop offset=".255" stop-color="#deeffb"/><stop offset=".314" stop-color="#eef7fd"/><stop offset=".564" stop-color="#e2f1fc"/><stop offset=".689" stop-color="#e7f4fc"/><stop offset="1" stop-color="#e9f4fc"/></linearGradient><linearGradient id="e330" x1="0" y1="0" x2="0" y2="1"><stop offset="0" stop-color="#84c3ed"/><stop offset=".064" stop-color="#84c3ed"/><stop offset=".189" stop-color="#b7dcf5"/><stop offset=".232" stop-color="#deeffb"/><stop offset=".314" stop-color="#f2f9fd"/><stop offset=".439" stop-color="#eff7fd"/><stop offset=".564" stop-color="#e8f4fc"/><stop offset="1" stop-color="#e6f3fc"/></linearGradient><linearGradient id="e331" x1="0" y1="0" x2="0" y2="1"><stop offset="0" stop-color="#97cdf0"/><stop offset=".064" stop-color="#97cdf0"/><stop offset=".189" stop-color="#d4eaf9"/><stop offset=".201" stop-color="#deeffb"/><stop offset=".314" stop-color="#f6fafe"/><stop offset=".439" stop-color="#f4fafe"/><stop offset=".689" stop-color="#e7f3fc"/><stop offset=".813" stop-color="#e6f3fc"/><stop offset="1" stop-color="#e3f1fc"/></linearGradient><linearGradient id="e332" x1="0" y1="0" x2="0" y2="1"><stop offset="0" stop-color="#b2daf4"/><stop offset=".064" stop-color="#b2daf4"/><stop offset=".189" stop-color="#dbedfa"/><stop offset=".193" stop-color="#deeffb"/><stop offset=".314" stop-color="#f6fbfe"/><stop offset=".564" stop-color="#e8f4fc"/><stop offset=".689" stop-color="#e4f2fc"/><stop offset=".813" stop-color="#e8f4fc"/><stop offset=".938" stop-color="#deeffb"/><stop offset="1" stop-color="#deeffb"/></linearGradient><linearGradient id="e333" x1="0" y1="0" x2="0" y2="1"><stop offset="0" stop-color="#cde7f8"/><stop offset=".064" stop-color="#cde7f8"/><stop offset=".169" stop-color="#deeffb"/><stop offset=".189" stop-color="#dfeffb"/><stop offset=".314" stop-color="#f6fbfe"/><stop offset=".439" stop-color="#eaf5fc"/><stop offset=".564" stop-color="#e3f2fc"/><stop offset=".689" stop-color="#e0f0fb"/><stop offset=".813" stop-color="#eaf5fc"/><stop offset=".905" stop-color="#deeffb"/><stop offset=".938" stop-color="#cee7f9"/><stop offset="1" stop-color="#cee7f9"/></linearGradient><linearGradient id="e334" x1="0" y1="0" x2="0" y2="1"><stop offset="0" stop-color="#e1f0fb"/><stop offset=".189" stop-color="#e1f0fb"/><stop offset=".314" stop-color="#f7fbfe"/><stop offset=".439" stop-color="#e5f2fc"/><stop offset=".689" stop-color="#daedfa"/><stop offset=".698" stop-color="#deeffb"/><stop offset=".813" stop-color="#ebf5fd"/><stop offset=".889" stop-color="#deeffb"/><stop offset=".938" stop-color="#bddff6"/><stop offset="1" stop-color="#bddff6"/></linearGradient><linearGradient id="e335" x1="0" y1="0" x2="0" y2="1"><stop offset="0" stop-color="#e0f0fb"/><stop offset=".121" stop-color="#deeffb"/><stop offset=".189" stop-color="#d7ecfa"/><stop offset=".199" stop-color="#deeffb"/><stop offset=".314" stop-color="#f3f9fe"/><stop offset=".439" stop-color="#e8f4fc"/><stop offset=".564" stop-color="#e2f1fb"/><stop offset=".813" stop-color="#eaf5fc"/><stop offset=".938" stop-color="#ddeffb"/><stop offset="1" stop-color="#ddeffb"/></linearGradient><linearGradient id="e336" x1="0" y1="0" x2="0" y2="1"><stop offset="0" stop-color="#dfeffb"/><stop offset=".073" stop-color="#deeffb"/><stop offset=".189" stop-color="#c7e4f7"/><stop offset=".222" stop-color="#deeffb"/><stop offset=".314" stop-color="#eff7fd"/><stop offset=".564" stop-color="#e6f3fc"/><stop offset=".689" stop-color="#f1f8fd"/><stop offset=".813" stop-color="#e9f4fc"/><stop offset="1" stop-color="#e6f3fc"/></linearGradient><linearGradient id="e337" x1="0" y1="0" x2="0" y2="1"><stop offset="0" stop-color="#dceefb"/><stop offset=".064" stop-color="#dceefb"/><stop offset=".189" stop-color="#b7dcf5"/><stop offset=".245" stop-color="#deeffb"/><stop offset=".314" stop-color="#ebf5fd"/><stop offset=".439" stop-color="#eef7fd"/><stop offset=".564" stop-color="#e9f4fc"/><stop offset=".689" stop-color="#fbfdff"/><stop offset=".813" stop-color="#e8f4fc"/><stop offset=".938" stop-color="#eff7fd"/><stop offset="1" stop-color="#eff7fd"/></linearGradient><linearGradient id="e338" x1="0" y1="0" x2="0" y2="1"><stop offset="0" stop-color="#d0e8f9"/><stop offset=".064" stop-color="#d0e8f9"/><stop offset=".189" stop-color="#badef5"/><stop offset=".235" stop-color="#deeffb"/><stop offset=".314" stop-color="#eff7fd"/><stop offset=".439" stop-color="#f0f8fd"/><stop offset=".564" stop-color="#e9f5fc"/><stop offset=".689" stop-color="#fafdfe"/><stop offset=".813" stop-color="#e8f4fc"/><stop offset="1" stop-color="#ebf5fd"/></linearGradient><linearGradient id="e339" x1="0" y1="0" x2="0" y2="1"><stop offset="0" stop-color="#c5e3f7"/><stop offset=".064" stop-color="#c5e3f7"/><stop offset=".189" stop-color="#bddff6"/><stop offset=".227" stop-color="#deeffb"/><stop offset=".314" stop-color="#f2f9fd"/><stop offset=".439" stop-color="#f2f9fd"/><stop offset=".564" stop-color="#eaf5fc"/><stop offset=".689" stop-color="#f9fcfe"/><stop offset=".813" stop-color="#e8f4fc"/><stop offset="1" stop-color="#e8f4fc"/></linearGradient><linearGradient id="e340" x1="0" y1="0" x2="0" y2="1"><stop offset="0" stop-color="#b9ddf5"/><stop offset=".064" stop-color="#b9ddf5"/><stop offset=".189" stop-color="#c1e1f6"/><stop offset=".220" stop-color="#deeffb"/><stop offset=".314" stop-color="#f6fbfe"/><stop offset=".439" stop-color="#f5fafe"/><stop offset=".564" stop-color="#eaf5fc"/><stop offset=".689" stop-color="#f7fbfe"/><stop offset=".813" stop-color="#e8f4fc"/><stop offset=".938" stop-color="#e4f2fc"/><stop offset="1" stop-color="#e4f2fc"/></linearGradient><linearGradient id="e341" x1="0" y1="0" x2="0" y2="1"><stop offset="0" stop-color="#b6dbf5"/><stop offset=".064" stop-color="#b6dbf5"/><stop offset=".189" stop-color="#cee7f8"/><stop offset=".214" stop-color="#deeffb"/><stop offset=".314" stop-color="#f0f8fd"/><stop offset=".439" stop-color="#f3f9fe"/><stop offset=".564" stop-color="#e9f4fc"/><stop offset=".689" stop-color="#f5fafe"/><stop offset=".813" stop-color="#e5f2fc"/><stop offset="1" stop-color="#e7f3fc"/></linearGradient><linearGradient id="e342" x1="0" y1="0" x2="0" y2="1"><stop offset="0" stop-color="#b2daf4"/><stop offset=".064" stop-color="#b2daf4"/><stop offset=".198" stop-color="#deeffb"/><stop offset=".314" stop-color="#eaf5fc"/><stop offset=".439" stop-color="#f2f9fd"/><stop offset=".564" stop-color="#e8f4fc"/><stop offset=".689" stop-color="#f2f9fd"/><stop offset=".813" stop-color="#e1f0fb"/><stop offset=".938" stop-color="#e9f4fc"/><stop offset="1" stop-color="#e9f4fc"/></linearGradient><linearGradient id="e343" x1="0" y1="0" x2="0" y2="1"><stop offset="0" stop-color="#aed8f3"/><stop offset=".064" stop-color="#aed8f3"/><stop offset=".168" stop-color="#deeffb"/><stop offset=".189" stop-color="#e1f0fb"/><stop offset=".314" stop-color="#e3f2fc"/><stop offset=".439" stop-color="#f1f8fd"/><stop offset=".564" stop-color="#e7f4fc"/><stop offset=".689" stop-color="#f0f8fd"/><stop offset=".808" stop-color="#deeffb"/><stop offset=".813" stop-color="#dbeefb"/><stop offset=".820" stop-color="#deeffb"/><stop offset=".938" stop-color="#ecf6fd"/><stop offset="1" stop-color="#ecf6fd"/></linearGradient><linearGradient id="e344" x1="0" y1="0" x2="0" y2="1"><stop offset="0" stop-color="#97cdf0"/><stop offset=".064" stop-color="#97cdf0"/><stop offset=".164" stop-color="#deeffb"/><stop offset=".189" stop-color="#e3f1fc"/><stop offset=".314" stop-color="#e4f2fc"/><stop offset=".439" stop-color="#ecf6fd"/><stop offset=".564" stop-color="#e9f5fc"/><stop offset=".689" stop-color="#f0f8fd"/><stop offset=".813" stop-color="#deeffb"/><stop offset=".938" stop-color="#e8f4fc"/><stop offset="1" stop-color="#e8f4fc"/></linearGradient><linearGradient id="e345" x1="0" y1="0" x2="0" y2="1"><stop offset="0" stop-color="#80c1ec"/><stop offset=".064" stop-color="#80c1ec"/><stop offset=".162" stop-color="#deeffb"/><stop offset=".189" stop-color="#e5f2fc"/><stop offset=".314" stop-color="#e5f2fc"/><stop offset=".689" stop-color="#f0f8fd"/><stop offset=".813" stop-color="#dff0fb"/><stop offset=".938" stop-color="#e4f2fc"/><stop offset="1" stop-color="#e4f2fc"/></linearGradient><linearGradient id="e346" x1="0" y1="0" x2="0" y2="1"><stop offset="0" stop-color="#69b6e9"/><stop offset=".064" stop-color="#69b6e9"/><stop offset=".161" stop-color="#deeffb"/><stop offset=".189" stop-color="#e7f3fc"/><stop offset=".439" stop-color="#e4f2fc"/><stop offset=".564" stop-color="#edf6fd"/><stop offset=".689" stop-color="#f0f8fd"/><stop offset=".813" stop-color="#e0f0fb"/><stop offset="1" stop-color="#e0f0fb"/></linearGradient><linearGradient id="e347" x1="0" y1="0" x2="0" y2="1"><stop offset="0" stop-color="#93cbef"/><stop offset=".064" stop-color="#93cbef"/><stop offset=".168" stop-color="#deeffb"/><stop offset=".189" stop-color="#e2f1fb"/><stop offset=".314" stop-color="#e7f3fc"/><stop offset=".439" stop-color="#e5f2fc"/><stop offset=".689" stop-color="#eef7fd"/><stop offset=".813" stop-color="#ddeefb"/><stop offset=".938" stop-color="#d7ecfa"/><stop offset="1" stop-color="#d7ecfa"/></linearGradient><linearGradient id="e348" x1="0" y1="0" x2="0" y2="1"><stop offset="0" stop-color="#bedff6"/><stop offset=".064" stop-color="#bedff6"/><stop offset=".195" stop-color="#deeffb"/><stop offset=".314" stop-color="#e9f4fc"/><stop offset=".439" stop-color="#e6f3fc"/><stop offset=".564" stop-color="#e6f3fc"/><stop offset=".689" stop-color="#ebf5fd"/><stop offset=".792" stop-color="#deeffb"/><stop offset=".813" stop-color="#d4eaf9"/><stop offset=".938" stop-color="#c9e5f8"/><stop offset="1" stop-color="#c9e5f8"/></linearGradient><linearGradient id="e349" x1="0" y1="0" x2="0" y2="1"><stop offset="0" stop-color="#e0f0fb"/><stop offset=".064" stop-color="#e0f0fb"/><stop offset=".103" stop-color="#deeffb"/><stop offset=".189" stop-color="#cae5f8"/><stop offset=".224" stop-color="#deeffb"/><stop offset=".314" stop-color="#ebf5fd"/><stop offset=".564" stop-color="#e2f1fc"/><stop offset=".689" stop-color="#e8f4fc"/><stop offset=".771" stop-color="#deeffb"/><stop offset=".813" stop-color="#cce6f8"/><stop offset=".938" stop-color="#bbdef6"/><stop offset="1" stop-color="#bbdef6"/></linearGradient><linearGradient id="e350" x1="0" y1="0" x2="0" y2="1"><stop offset="0" stop-color="#9ed0f1"/><stop offset=".064" stop-color="#9ed0f1"/><stop offset=".189" stop-color="#c4e2f7"/><stop offset=".231" stop-color="#deeffb"/><stop offset=".314" stop-color="#ecf6fd"/><stop offset=".689" stop-color="#e3f1fc"/><stop offset=".762" stop-color="#deeffb"/><stop offset=".813" stop-color="#d1e9f9"/><stop offset=".938" stop-color="#c5e3f7"/><stop offset="1" stop-color="#c5e3f7"/></linearGradient><linearGradient id="e351" x1="0" y1="0" x2="0" y2="1"><stop offset="0" stop-color="#5cafe5"/><stop offset=".064" stop-color="#5cafe5"/><stop offset=".082" stop-color="#64b4e8"/><stop offset=".189" stop-color="#bddff6"/><stop offset=".236" stop-color="#deeffb"/><stop offset=".314" stop-color="#edf6fd"/><stop offset=".439" stop-color="#ecf6fd"/><stop offset=".564" stop-color="#e8f4fc"/><stop offset=".689" stop-color="#ddeffb"/><stop offset=".938" stop-color="#cfe8f9"/><stop offset="1" stop-color="#cfe8f9"/></linearGradient><linearGradient id="e352" x1="0" y1="0" x2="0" y2="1"><stop offset="0" stop-color="#3797d8"/><stop offset=".064" stop-color="#3797d8"/><stop offset=".128" stop-color="#64b4e8"/><stop offset=".189" stop-color="#b7dcf5"/><stop offset=".240" stop-color="#deeffb"/><stop offset=".314" stop-color="#edf6fd"/><stop offset=".439" stop-color="#eef7fd"/><stop offset=".564" stop-color="#ebf5fd"/><stop offset=".653" stop-color="#deeffb"/><stop offset=".689" stop-color="#cbe6f8"/><stop offset=".813" stop-color="#ddeefb"/><stop offset="1" stop-color="#d9edfa"/></linearGradient><linearGradient id="e353" x1="0" y1="0" x2="0" y2="1"><stop offset="0" stop-color="#3294d6"/><stop offset=".064" stop-color="#3294d6"/><stop offset=".136" stop-color="#64b4e8"/><stop offset=".189" stop-color="#a9d6f3"/><stop offset=".252" stop-color="#deeffb"/><stop offset=".314" stop-color="#ecf6fd"/><stop offset=".564" stop-color="#ebf5fd"/><stop offset=".649" stop-color="#deeffb"/><stop offset=".689" stop-color="#c8e5f8"/><stop offset=".813" stop-color="#dceefb"/><stop offset=".938" stop-color="#d8ecfa"/><stop offset="1" stop-color="#d8ecfa"/></linearGradient><linearGradient id="e354" x1="0" y1="0" x2="0" y2="1"><stop offset="0" stop-color="#2d91d5"/><stop offset=".064" stop-color="#2d91d5"/><stop offset=".145" stop-color="#64b4e8"/><stop offset=".189" stop-color="#9ccff1"/><stop offset=".262" stop-color="#deeffb"/><stop offset=".314" stop-color="#eaf5fc"/><stop offset=".439" stop-color="#e7f3fc"/><stop offset=".564" stop-color="#eaf5fc"/><stop offset=".645" stop-color="#deeffb"/><stop offset=".689" stop-color="#c6e3f7"/><stop offset=".813" stop-color="#daedfa"/><stop offset=".938" stop-color="#d6ebfa"/><stop offset="1" stop-color="#d6ebfa"/></linearGradient><linearGradient id="e355" x1="0" y1="0" x2="0" y2="1"><stop offset="0" stop-color="#288ed3"/><stop offset=".064" stop-color="#288ed3"/><stop offset=".155" stop-color="#64b4e8"/><stop offset=".189" stop-color="#8fc9ef"/><stop offset=".271" stop-color="#deeffb"/><stop offset=".314" stop-color="#e9f4fc"/><stop offset=".439" stop-color="#e4f2fc"/><stop offset=".564" stop-color="#eaf5fc"/><stop offset=".641" stop-color="#deeffb"/><stop offset=".689" stop-color="#c3e2f7"/><stop offset=".813" stop-color="#d9edfa"/><stop offset=".938" stop-color="#d5eafa"/><stop offset="1" stop-color="#d5eafa"/></linearGradient><linearGradient id="e356" x1="0" y1="0" x2="0" y2="1"><stop offset="0" stop-color="#288ed3"/><stop offset=".064" stop-color="#288ed3"/><stop offset=".155" stop-color="#64b4e8"/><stop offset=".189" stop-color="#8fc9ef"/><stop offset=".271" stop-color="#deeffb"/><stop offset=".314" stop-color="#e9f4fc"/><stop offset=".439" stop-color="#e4f2fc"/><stop offset=".564" stop-color="#eaf5fc"/><stop offset=".641" stop-color="#deeffb"/><stop offset=".689" stop-color="#c3e2f7"/><stop offset=".813" stop-color="#d9edfa"/><stop offset=".938" stop-color="#d5eafa"/><stop offset="1" stop-color="#d5eafa"/></linearGradient><linearGradient id="e357" x1="0" y1="0" x2="0" y2="1"><stop offset="0" stop-color="#288ed3"/><stop offset=".064" stop-color="#288ed3"/><stop offset=".155" stop-color="#64b4e8"/><stop offset=".189" stop-color="#8fc9ef"/><stop offset=".271" stop-color="#deeffb"/><stop offset=".314" stop-color="#e9f4fc"/><stop offset=".439" stop-color="#e4f2fc"/><stop offset=".564" stop-color="#eaf5fc"/><stop offset=".641" stop-color="#deeffb"/><stop offset=".689" stop-color="#c3e2f7"/><stop offset=".813" stop-color="#d9edfa"/><stop offset=".938" stop-color="#d5eafa"/><stop offset="1" stop-color="#d5eafa"/></linearGradient><linearGradient id="e358" x1="0" y1="0" x2="0" y2="1"><stop offset="0" stop-color="#288ed3"/><stop offset=".064" stop-color="#288ed3"/><stop offset=".155" stop-color="#64b4e8"/><stop offset=".189" stop-color="#8fc9ef"/><stop offset=".271" stop-color="#deeffb"/><stop offset=".314" stop-color="#e9f4fc"/><stop offset=".439" stop-color="#e4f2fc"/><stop offset=".564" stop-color="#eaf5fc"/><stop offset=".641" stop-color="#deeffb"/><stop offset=".689" stop-color="#c3e2f7"/><stop offset=".813" stop-color="#d9edfa"/><stop offset=".938" stop-color="#d5eafa"/><stop offset="1" stop-color="#d5eafa"/></linearGradient><linearGradient id="e359" x1="0" y1="0" x2="0" y2="1"><stop offset="0" stop-color="#288ed3"/><stop offset=".064" stop-color="#288ed3"/><stop offset=".155" stop-color="#64b4e8"/><stop offset=".189" stop-color="#8fc9ef"/><stop offset=".271" stop-color="#deeffb"/><stop offset=".314" stop-color="#e9f4fc"/><stop offset=".439" stop-color="#e4f2fc"/><stop offset=".564" stop-color="#eaf5fc"/><stop offset=".641" stop-color="#deeffb"/><stop offset=".689" stop-color="#c3e2f7"/><stop offset=".813" stop-color="#d9edfa"/><stop offset=".938" stop-color="#d5eafa"/><stop offset="1" stop-color="#d5eafa"/></linearGradient><linearGradient id="cbe" x1="0" y1="0" x2="0" y2="1"><stop offset="0.0000" stop-color="#258cd2"/><stop offset="0.3333" stop-color="#64b4e8"/><stop offset="0.6667" stop-color="#deeffb"/><stop offset="1.0000" stop-color="#ffffff"/></linearGradient></defs><rect width="2001" height="1016" fill="#fff"/><text x="1001.0" y="19.0" font-size="23.7" text-anchor="middle" fill="#2C3E50" stroke="#2C3E50" stroke-width="0.7" textLength="800.0" lengthAdjust="spacingAndGlyphs">MAGPIE Training Dynamics:Comprehensive Multi-Metric Analysis</text>
<text x="683.0" y="50.5" font-size="20" text-anchor="middle" fill="#2C3E50" stroke="#2C3E50" stroke-width="0.6" textLength="516.0" lengthAdjust="spacingAndGlyphs">MAGPIE Training Dynamics:Multi-Metric Evolution</text>
<g clip-path="url(#clipm)"><g shape-rendering="crispEdges" filter="url(#blurm)">
<rect x="112.15" y="86.4" width="5.62" height="557.1" fill="url(#m1)"/>
<rect x="117.78" y="86.4" width="5.62" height="557.1" fill="url(#m2)"/>
<rect x="123.40" y="86.4" width="5.62" height="557.1" fill="url(#m3)"/>
<rect x="129.03" y="86.4" width="5.62" height="557.1" fill="url(#m4)"/>
<rect x="134.65" y="86.4" width="5.62" height="557.1" fill="url(#m5)"/>
<rect x="140.28" y="86.4" width="5.62" height="557.1" fill="url(#m6)"/>
<rect x="145.90" y="86.4" width="5.62" height="557.1" fill="url(#m7)"/>
<rect x="151.53" y="86.4" width="5.62" height="557.1" fill="url(#m8)"/>
<rect x="157.15" y="86.4" width="5.62" height="557.1" fill="url(#m9)"/>
<rect x="162.78" y="86.4" width="5.62" height="557.1" fill="url(#m10)"/>
<rect x="168.40" y="86.4" width="5.62" height="557.1" fill="url(#m11)"/>
<rect x="174.03" y="86.4" width="5.62" height="557.1" fill="url(#m12)"/>
<rect x="179.65" y="86.4" width="5.62" height="557.1" fill="url(#m13)"/>
<rect x="185.28" y="86.4" width="5.62" height="557.1" fill="url(#m14)"/>
<rect x="190.90" y="86.4" width="5.62" height="557.1" fill="url(#m15)"/>
<rect x="196.53" y="86.4" width="5.62" height="557.1" fill="url(#m16)"/>
<rect x="202.15" y="86.4" width="5.62" height="557.1" fill="url(#m17)"/>
<rect x="207.78" y="86.4" width="5.62" height="557.1" fill="url(#m18)"/>
<rect x="213.40" y="86.4" width="5.62" height="557.1" fill="url(#m19)"/>
<rect x="219.03" y="86.4" width="5.62" height="557.1" fill="url(#m20)"/>
<rect x="224.65" y="86.4" width="5.62" height="557.1" fill="url(#m21)"/>
<rect x="230.28" y="86.4" width="5.62" height="557.1" fill="url(#m22)"/>
<rect x="235.90" y="86.4" width="5.62" height="557.1" fill="url(#m23)"/>
<rect x="241.53" y="86.4" width="5.62" height="557.1" fill="url(#m24)"/>
<rect x="247.15" y="86.4" width="5.62" height="557.1" fill="url(#m25)"/>
<rect x="252.78" y="86.4" width="5.62" height="557.1" fill="url(#m26)"/>
<rect x="258.40" y="86.4" width="5.62" height="557.1" fill="url(#m27)"/>
<rect x="264.02" y="86.4" width="5.62" height="557.1" fill="url(#m28)"/>
<rect x="269.65" y="86.4" width="5.62" height="557.1" fill="url(#m29)"/>
<rect x="275.27" y="86.4" width="5.62" height="557.1" fill="url(#m30)"/>
<rect x="280.90" y="86.4" width="5.62" height="557.1" fill="url(#m31)"/>
<rect x="286.52" y="86.4" width="5.62" height="557.1" fill="url(#m32)"/>
<rect x="292.15" y="86.4" width="5.62" height="557.1" fill="url(#m33)"/>
<rect x="297.77" y="86.4" width="5.62" height="557.1" fill="url(#m34)"/>
<rect x="303.40" y="86.4" width="5.62" height="557.1" fill="url(#m35)"/>
<rect x="309.02" y="86.4" width="5.62" height="557.1" fill="url(#m36)"/>
<rect x="314.65" y="86.4" width="5.62" height="557.1" fill="url(#m37)"/>
<rect x="320.27" y="86.4" width="5.62" height="557.1" fill="url(#m38)"/>
<rect x="325.90" y="86.4" width="5.62" height="557.1" fill="url(#m39)"/>
<rect x="331.52" y="86.4" width="5.62" height="557.1" fill="url(#m40)"/>
<rect x="337.15" y="86.4" width="5.62" height="557.1" fill="url(#m41)"/>
<rect x="342.77" y="86.4" width="5.62" height="557.1" fill="url(#m42)"/>
<rect x="348.40" y="86.4" width="5.62" height="557.1" fill="url(#m43)"/>
<rect x="354.02" y="86.4" width="5.62" height="557.1" fill="url(#m44)"/>
<rect x="359.65" y="86.4" width="5.62" height="557.1" fill="url(#m45)"/>
<rect x="365.27" y="86.4" width="5.62" height="557.1" fill="url(#m46)"/>
<rect x="370.90" y="86.4" width="5.62" height="557.1" fill="url(#m47)"/>
<rect x="376.52" y="86.4" width="5.62" height="557.1" fill="url(#m48)"/>
<rect x="382.15" y="86.4" width="5.62" height="557.1" fill="url(#m49)"/>
<rect x="387.77" y="86.4" width="5.62" height="557.1" fill="url(#m50)"/>
<rect x="393.40" y="86.4" width="5.62" height="557.1" fill="url(#m51)"/>
<rect x="399.02" y="86.4" width="5.62" height="557.1" fill="url(#m52)"/>
<rect x="404.65" y="86.4" width="5.62" height="557.1" fill="url(#m53)"/>
<rect x="410.27" y="86.4" width="5.62" height="557.1" fill="url(#m54)"/>
<rect x="415.90" y="86.4" width="5.62" height="557.1" fill="url(#m55)"/>
<rect x="421.52" y="86.4" width="5.62" height="557.1" fill="url(#m56)"/>
<rect x="427.15" y="86.4" width="5.62" height="557.1" fill="url(#m57)"/>
<rect x="432.77" y="86.4" width="5.62" height="557.1" fill="url(#m58)"/>
<rect x="438.40" y="86.4" width="5.62" height="557.1" fill="url(#m59)"/>
<rect x="444.02" y="86.4" width="5.62" height="557.1" fill="url(#m60)"/>
<rect x="449.65" y="86.4" width="5.62" height="557.1" fill="url(#m61)"/>
<rect x="455.27" y="86.4" width="5.62" height="557.1" fill="url(#m62)"/>
<rect x="460.90" y="86.4" width="5.62" height="557.1" fill="url(#m63)"/>
<rect x="466.52" y="86.4" width="5.62" height="557.1" fill="url(#m64)"/>
<rect x="472.15" y="86.4" width="5.62" height="557.1" fill="url(#m65)"/>
<rect x="477.77" y="86.4" width="5.62" height="557.1" fill="url(#m66)"/>
<rect x="483.40" y="86.4" width="5.62" height="557.1" fill="url(#m67)"/>
<rect x="489.02" y="86.4" width="5.62" height="557.1" fill="url(#m68)"/>
<rect x="494.65" y="86.4" width="5.62" height="557.1" fill="url(#m69)"/>
<rect x="500.27" y="86.4" width="5.62" height="557.1" fill="url(#m70)"/>
<rect x="505.90" y="86.4" width="5.62" height="557.1" fill="url(#m71)"/>
<rect x="511.52" y="86.4" width="5.62" height="557.1" fill="url(#m72)"/>
<rect x="517.15" y="86.4" width="5.62" height="557.1" fill="url(#m73)"/>
<rect x="522.77" y="86.4" width="5.62" height="557.1" fill="url(#m74)"/>
<rect x="528.40" y="86.4" width="5.62" height="557.1" fill="url(#m75)"/>
<rect x="534.02" y="86.4" width="5.62" height="557.1" fill="url(#m76)"/>
<rect x="539.65" y="86.4" width="5.62" height="557.1" fill="url(#m77)"/>
<rect x="545.27" y="86.4" width="5.62" height="557.1" fill="url(#m78)"/>
<rect x="550.90" y="86.4" width="5.62" height="557.1" fill="url(#m79)"/>
<rect x="556.52" y="86.4" width="5.62" height="557.1" fill="url(#m80)"/>
<rect x="562.15" y="86.4" width="5.62" height="557.1" fill="url(#m81)"/>
<rect x="567.77" y="86.4" width="5.62" height="557.1" fill="url(#m82)"/>
<rect x="573.40" y="86.4" width="5.62" height="557.1" fill="url(#m83)"/>
<rect x="579.02" y="86.4" width="5.62" height="557.1" fill="url(#m84)"/>
<rect x="584.65" y="86.4" width="5.62" height="557.1" fill="url(#m85)"/>
<rect x="590.27" y="86.4" width="5.62" height="557.1" fill="url(#m86)"/>
<rect x="595.90" y="86.4" width="5.62" height="557.1" fill="url(#m87)"/>
<rect x="601.52" y="86.4" width="5.62" height="557.1" fill="url(#m88)"/>
<rect x="607.15" y="86.4" width="5.62" height="557.1" fill="url(#m89)"/>
<rect x="612.77" y="86.4" width="5.62" height="557.1" fill="url(#m90)"/>
<rect x="618.40" y="86.4" width="5.62" height="557.1" fill="url(#m91)"/>
<rect x="624.02" y="86.4" width="5.62" height="557.1" fill="url(#m92)"/>
<rect x="629.65" y="86.4" width="5.62" height="557.1" fill="url(#m93)"/>
<rect x="635.27" y="86.4" width="5.62" height="557.1" fill="url(#m94)"/>
<rect x="640.90" y="86.4" width="5.62" height="557.1" fill="url(#m95)"/>
<rect x="646.52" y="86.4" width="5.62" height="557.1" fill="url(#m96)"/>
<rect x="652.15" y="86.4" width="5.62" height="557.1" fill="url(#m97)"/>
<rect x="657.77" y="86.4" width="5.62" height="557.1" fill="url(#m98)"/>
<rect x="663.40" y="86.4" width="5.62" height="557.1" fill="url(#m99)"/>
<rect x="669.02" y="86.4" width="5.62" height="557.1" fill="url(#m100)"/>
<rect x="674.65" y="86.4" width="5.62" height="557.1" fill="url(#m101)"/>
<rect x="680.27" y="86.4" width="5.62" height="557.1" fill="url(#m102)"/>
<rect x="685.90" y="86.4" width="5.62" height="557.1" fill="url(#m103)"/>
<rect x="691.52" y="86.4" width="5.62" height="557.1" fill="url(#m104)"/>
<rect x="697.15" y="86.4" width="5.62" height="557.1" fill="url(#m105)"/>
<rect x="702.77" y="86.4" width="5.62" height="557.1" fill="url(#m106)"/>
<rect x="708.40" y="86.4" width="5.62" height="557.1" fill="url(#m107)"/>
<rect x="714.02" y="86.4" width="5.62" height="557.1" fill="url(#m108)"/>
<rect x="719.65" y="86.4" width="5.62" height="557.1" fill="url(#m109)"/>
<rect x="725.27" y="86.4" width="5.62" height="557.1" fill="url(#m110)"/>
<rect x="730.90" y="86.4" width="5.62" height="557.1" fill="url(#m111)"/>
<rect x="736.52" y="86.4" width="5.62" height="557.1" fill="url(#m112)"/>
<rect x="742.15" y="86.4" width="5.62" height="557.1" fill="url(#m113)"/>
<rect x="747.77" y="86.4" width="5.62" height="557.1" fill="url(#m114)"/>
<rect x="753.40" y="86.4" width="5.62" height="557.1" fill="url(#m115)"/>
<rect x="759.02" y="86.4" width="5.62" height="557.1" fill="url(#m116)"/>
<rect x="764.65" y="86.4" width="5.62" height="557.1" fill="url(#m117)"/>
<rect x="770.27" y="86.4" width="5.62" height="557.1" fill="url(#m118)"/>
<rect x="775.90" y="86.4" width="5.62" height="557.1" fill="url(#m119)"/>
<rect x="781.52" y="86.4" width="5.62" height="557.1" fill="url(#m120)"/>
<rect x="787.15" y="86.4" width="5.62" height="557.1" fill="url(#m121)"/>
<rect x="792.77" y="86.4" width="5.62" height="557.1" fill="url(#m122)"/>
<rect x="798.40" y="86.4" width="5.62" height="557.1" fill="url(#m123)"/>
<rect x="804.02" y="86.4" width="5.62" height="557.1" fill="url(#m124)"/>
<rect x="809.65" y="86.4" width="5.62" height="557.1" fill="url(#m125)"/>
<rect x="815.27" y="86.4" width="5.62" height="557.1" fill="url(#m126)"/>
<rect x="820.90" y="86.4" width="5.62" height="557.1" fill="url(#m127)"/>
<rect x="826.52" y="86.4" width="5.62" height="557.1" fill="url(#m128)"/>
<rect x="832.15" y="86.4" width="5.62" height="557.1" fill="url(#m129)"/>
<rect x="837.77" y="86.4" width="5.62" height="557.1" fill="url(#m130)"/>
<rect x="843.40" y="86.4" width="5.62" height="557.1" fill="url(#m131)"/>
<rect x="849.02" y="86.4" width="5.62" height="557.1" fill="url(#m132)"/>
<rect x="854.65" y="86.4" width="5.62" height="557.1" fill="url(#m133)"/>
<rect x="860.27" y="86.4" width="5.62" height="557.1" fill="url(#m134)"/>
<rect x="865.90" y="86.4" width="5.62" height="557.1" fill="url(#m135)"/>
<rect x="871.52" y="86.4" width="5.62" height="557.1" fill="url(#m136)"/>
<rect x="877.15" y="86.4" width="5.62" height="557.1" fill="url(#m137)"/>
<rect x="882.77" y="86.4" width="5.62" height="557.1" fill="url(#m138)"/>
<rect x="888.40" y="86.4" width="5.62" height="557.1" fill="url(#m139)"/>
<rect x="894.02" y="86.4" width="5.62" height="557.1" fill="url(#m140)"/>
<rect x="899.65" y="86.4" width="5.62" height="557.1" fill="url(#m141)"/>
<rect x="905.27" y="86.4" width="5.62" height="557.1" fill="url(#m142)"/>
<rect x="910.90" y="86.4" width="5.62" height="557.1" fill="url(#m143)"/>
<rect x="916.52" y="86.4" width="5.62" height="557.1" fill="url(#m144)"/>
<rect x="922.15" y="86.4" width="5.62" height="557.1" fill="url(#m145)"/>
<rect x="927.77" y="86.4" width="5.62" height="557.1" fill="url(#m146)"/>
<rect x="933.40" y="86.4" width="5.62" height="557.1" fill="url(#m147)"/>
<rect x="939.02" y="86.4" width="5.62" height="557.1" fill="url(#m148)"/>
<rect x="944.65" y="86.4" width="5.62" height="557.1" fill="url(#m149)"/>
<rect x="950.27" y="86.4" width="5.62" height="557.1" fill="url(#m150)"/>
<rect x="955.90" y="86.4" width="5.62" height="557.1" fill="url(#m151)"/>
<rect x="961.52" y="86.4" width="5.62" height="557.1" fill="url(#m152)"/>
<rect x="967.15" y="86.4" width="5.62" height="557.1" fill="url(#m153)"/>
<rect x="972.77" y="86.4" width="5.62" height="557.1" fill="url(#m154)"/>
<rect x="978.40" y="86.4" width="5.62" height="557.1" fill="url(#m155)"/>
<rect x="984.02" y="86.4" width="5.62" height="557.1" fill="url(#m156)"/>
<rect x="989.65" y="86.4" width="5.62" height="557.1" fill="url(#m157)"/>
<rect x="995.27" y="86.4" width="5.62" height="557.1" fill="url(#m158)"/>
<rect x="1000.90" y="86.4" width="5.62" height="557.1" fill="url(#m159)"/>
<rect x="1006.52" y="86.4" width="5.62" height="557.1" fill="url(#m160)"/>
<rect x="1012.15" y="86.4" width="5.62" height="557.1" fill="url(#m161)"/>
<rect x="1017.77" y="86.4" width="5.62" height="557.1" fill="url(#m162)"/>
<rect x="1023.40" y="86.4" width="5.62" height="557.1" fill="url(#m163)"/>
<rect x="1029.03" y="86.4" width="5.62" height="557.1" fill="url(#m164)"/>
<rect x="1034.65" y="86.4" width="5.62" height="557.1" fill="url(#m165)"/>
<rect x="1040.28" y="86.4" width="5.62" height="557.1" fill="url(#m166)"/>
<rect x="1045.90" y="86.4" width="5.62" height="557.1" fill="url(#m167)"/>
<rect x="1051.53" y="86.4" width="5.62" height="557.1" fill="url(#m168)"/>
<rect x="1057.15" y="86.4" width="5.62" height="557.1" fill="url(#m169)"/>
<rect x="1062.78" y="86.4" width="5.62" height="557.1" fill="url(#m170)"/>
<rect x="1068.40" y="86.4" width="5.62" height="557.1" fill="url(#m171)"/>
<rect x="1074.03" y="86.4" width="5.62" height="557.1" fill="url(#m172)"/>
<rect x="1079.65" y="86.4" width="5.62" height="557.1" fill="url(#m173)"/>
<rect x="1085.28" y="86.4" width="5.62" height="557.1" fill="url(#m174)"/>
<rect x="1090.90" y="86.4" width="5.62" height="557.1" fill="url(#m175)"/>
<rect x="1096.53" y="86.4" width="5.62" height="557.1" fill="url(#m176)"/>
<rect x="1102.15" y="86.4" width="5.62" height="557.1" fill="url(#m177)"/>
<rect x="1107.78" y="86.4" width="5.62" height="557.1" fill="url(#m178)"/>
<rect x="1113.40" y="86.4" width="5.62" height="557.1" fill="url(#m179)"/>
<rect x="1119.03" y="86.4" width="5.62" height="557.1" fill="url(#m180)"/>
<rect x="1124.65" y="86.4" width="5.62" height="557.1" fill="url(#m181)"/>
<rect x="1130.28" y="86.4" width="5.62" height="557.1" fill="url(#m182)"/>
<rect x="1135.90" y="86.4" width="5.62" height="557.1" fill="url(#m183)"/>
<rect x="1141.53" y="86.4" width="5.62" height="557.1" fill="url(#m184)"/>
<rect x="1147.15" y="86.4" width="5.62" height="557.1" fill="url(#m185)"/>
<rect x="1152.78" y="86.4" width="5.62" height="557.1" fill="url(#m186)"/>
<rect x="1158.40" y="86.4" width="5.62" height="557.1" fill="url(#m187)"/>
<rect x="1164.03" y="86.4" width="5.62" height="557.1" fill="url(#m188)"/>
<rect x="1169.65" y="86.4" width="5.62" height="557.1" fill="url(#m189)"/>
<rect x="1175.28" y="86.4" width="5.62" height="557.1" fill="url(#m190)"/>
<rect x="1180.90" y="86.4" width="5.62" height="557.1" fill="url(#m191)"/>
<rect x="1186.53" y="86.4" width="5.62" height="557.1" fill="url(#m192)"/>
<rect x="1192.15" y="86.4" width="5.62" height="557.1" fill="url(#m193)"/>
<rect x="1197.78" y="86.4" width="5.62" height="557.1" fill="url(#m194)"/>
<rect x="1203.40" y="86.4" width="5.62" height="557.1" fill="url(#m195)"/>
<rect x="1209.03" y="86.4" width="5.62" height="557.1" fill="url(#m196)"/>
<rect x="1214.65" y="86.4" width="5.62" height="557.1" fill="url(#m197)"/>
<rect x="1220.28" y="86.4" width="5.62" height="557.1" fill="url(#m198)"/>
<rect x="1225.90" y="86.4" width="5.62" height="557.1" fill="url(#m199)"/>
<rect x="1231.53" y="86.4" width="5.62" height="557.1" fill="url(#m200)"/>
<rect x="1237.15" y="86.4" width="5.62" height="557.1" fill="url(#m201)"/>
<rect x="1242.78" y="86.4" width="5.62" height="557.1" fill="url(#m202)"/>
<rect x="1248.40" y="86.4" width="5.62" height="557.1" fill="url(#m203)"/>
<rect x="1254.03" y="86.4" width="5.62" height="557.1" fill="url(#m204)"/>
</g></g>
<rect x="123.4" y="86.4" width="1124.1999999999998" height="557.1" fill="none" stroke="#231815" stroke-width="1.3"/>
<line x1="118.4" y1="123.5" x2="123.4" y2="123.5" stroke="#231815" stroke-width="1.1"/>
<text x="114.4" y="128.5" font-size="16" text-anchor="end" fill="#231815" stroke="#231815" stroke-width="0.55" textLength="76.6" lengthAdjust="spacingAndGlyphs">Train Loss</text>
<line x1="118.4" y1="192.9" x2="123.4" y2="192.9" stroke="#231815" stroke-width="1.1"/>
<text x="114.4" y="197.9" font-size="16" text-anchor="end" fill="#231815" stroke="#231815" stroke-width="0.55" textLength="61.4" lengthAdjust="spacingAndGlyphs">Val Loss</text>
<line x1="118.4" y1="262.3" x2="123.4" y2="262.3" stroke="#231815" stroke-width="1.1"/>
<text x="114.4" y="267.3" font-size="16" text-anchor="end" fill="#231815" stroke="#231815" stroke-width="0.55" textLength="40.5" lengthAdjust="spacingAndGlyphs">BLEU</text>
<line x1="118.4" y1="331.7" x2="123.4" y2="331.7" stroke="#231815" stroke-width="1.1"/>
<text x="114.4" y="336.7" font-size="16" text-anchor="end" fill="#231815" stroke="#231815" stroke-width="0.55" textLength="70.2" lengthAdjust="spacingAndGlyphs">ROUGE-L</text>
<line x1="118.4" y1="401.1" x2="123.4" y2="401.1" stroke="#231815" stroke-width="1.1"/>
<text x="114.4" y="406.1" font-size="16" text-anchor="end" fill="#231815" stroke="#231815" stroke-width="0.55" textLength="82.5" lengthAdjust="spacingAndGlyphs">Expert Use</text>
<line x1="118.4" y1="470.5" x2="123.4" y2="470.5" stroke="#231815" stroke-width="1.1"/>
<text x="114.4" y="475.5" font-size="16" text-anchor="end" fill="#231815" stroke="#231815" stroke-width="0.55" textLength="74.4" lengthAdjust="spacingAndGlyphs">Attention</text>
<line x1="118.4" y1="539.9" x2="123.4" y2="539.9" stroke="#231815" stroke-width="1.1"/>
<text x="114.4" y="544.9" font-size="16" text-anchor="end" fill="#231815" stroke="#231815" stroke-width="0.55" textLength="82.5" lengthAdjust="spacingAndGlyphs">Learn Rate</text>
<line x1="118.4" y1="609.3" x2="123.4" y2="609.3" stroke="#231815" stroke-width="1.1"/>
<text x="114.4" y="614.3" font-size="16" text-anchor="end" fill="#231815" stroke="#231815" stroke-width="0.55" textLength="83.6" lengthAdjust="spacingAndGlyphs">Grad Norm</text>
<line x1="133.7" y1="643.5" x2="133.7" y2="648.5" stroke="#231815" stroke-width="1.1"/>
<text x="133.7" y="664.6" font-size="15" text-anchor="middle" fill="#231815" stroke="#231815" stroke-width="0.5">E0</text>
<line x1="358.7" y1="643.5" x2="358.7" y2="648.5" stroke="#231815" stroke-width="1.1"/>
<text x="358.7" y="664.6" font-size="15" text-anchor="middle" fill="#231815" stroke="#231815" stroke-width="0.5" textLength="27.6" lengthAdjust="spacingAndGlyphs">E10</text>
<line x1="583.7" y1="643.5" x2="583.7" y2="648.5" stroke="#231815" stroke-width="1.1"/>
<text x="583.7" y="664.6" font-size="15" text-anchor="middle" fill="#231815" stroke="#231815" stroke-width="0.5" textLength="27.6" lengthAdjust="spacingAndGlyphs">E20</text>
<line x1="808.7" y1="643.5" x2="808.7" y2="648.5" stroke="#231815" stroke-width="1.1"/>
<text x="808.7" y="664.6" font-size="15" text-anchor="middle" fill="#231815" stroke="#231815" stroke-width="0.5" textLength="27.6" lengthAdjust="spacingAndGlyphs">E30</text>
<line x1="1033.7" y1="643.5" x2="1033.7" y2="648.5" stroke="#231815" stroke-width="1.1"/>
<text x="1033.7" y="664.6" font-size="15" text-anchor="middle" fill="#231815" stroke="#231815" stroke-width="0.5" textLength="27.6" lengthAdjust="spacingAndGlyphs">E40</text>
<text x="684.8" y="687.3" font-size="18" text-anchor="middle" fill="#231815" stroke="#231815" stroke-width="0.5" textLength="136.9" lengthAdjust="spacingAndGlyphs">Training Epochs</text>
<text x="13.8" y="366.0" font-size="18" text-anchor="middle" fill="#231815" stroke="#231815" stroke-width="0.5" textLength="142.0" lengthAdjust="spacingAndGlyphs" transform="rotate(-90 13.8 366.0)">Training Metrics</text>
<text x="688.2" y="126.8" font-size="14.8" text-anchor="end" fill="#231815" stroke="#231815" stroke-width="0.45" textLength="21.5" lengthAdjust="spacingAndGlyphs">0.4</text>
<text x="688.2" y="196.2" font-size="14.8" text-anchor="end" fill="#231815" stroke="#231815" stroke-width="0.45" textLength="21.5" lengthAdjust="spacingAndGlyphs">0.5</text>
<text x="688.2" y="265.6" font-size="14.8" text-anchor="end" fill="#ffffff" stroke="#ffffff" stroke-width="0.45" textLength="29.7" lengthAdjust="spacingAndGlyphs">91.3</text>
<text x="688.2" y="335.0" font-size="14.8" text-anchor="end" fill="#ffffff" stroke="#ffffff" stroke-width="0.45" textLength="29.7" lengthAdjust="spacingAndGlyphs">93.4</text>
<text x="688.2" y="404.4" font-size="14.8" text-anchor="end" fill="#ffffff" stroke="#ffffff" stroke-width="0.45" textLength="29.7" lengthAdjust="spacingAndGlyphs">72.3</text>
<text x="688.2" y="473.8" font-size="14.8" text-anchor="end" fill="#ffffff" stroke="#ffffff" stroke-width="0.45" textLength="29.7" lengthAdjust="spacingAndGlyphs">69.2</text>
<text x="688.2" y="543.2" font-size="14.8" text-anchor="end" fill="#231815" stroke="#231815" stroke-width="0.45" textLength="29.7" lengthAdjust="spacingAndGlyphs">44.4</text>
<text x="688.2" y="612.6" font-size="14.8" text-anchor="end" fill="#231815" stroke="#231815" stroke-width="0.45" textLength="21.5" lengthAdjust="spacingAndGlyphs">1.4</text>
<rect x="1262.3" y="86.2" width="45.90000000000009" height="556.8" fill="url(#cbm)"/>
<rect x="1262.3" y="86.2" width="45.90000000000009" height="556.8" fill="none" stroke="#231815" stroke-width="1.3"/>
<line x1="1308.2" y1="643.0" x2="1312.8" y2="643.0" stroke="#231815" stroke-width="1.1"/>
<text x="1317.8" y="647.8" font-size="15" text-anchor="start" fill="#231815" stroke="#231815" stroke-width="0.5" textLength="9.0" lengthAdjust="spacingAndGlyphs">0</text>
<line x1="1308.2" y1="531.6" x2="1312.8" y2="531.6" stroke="#231815" stroke-width="1.1"/>
<text x="1317.8" y="536.4" font-size="15" text-anchor="start" fill="#231815" stroke="#231815" stroke-width="0.5" textLength="19.0" lengthAdjust="spacingAndGlyphs">20</text>
<line x1="1308.2" y1="420.3" x2="1312.8" y2="420.3" stroke="#231815" stroke-width="1.1"/>
<text x="1317.8" y="425.1" font-size="15" text-anchor="start" fill="#231815" stroke="#231815" stroke-width="0.5" textLength="19.0" lengthAdjust="spacingAndGlyphs">40</text>
<line x1="1308.2" y1="308.9" x2="1312.8" y2="308.9" stroke="#231815" stroke-width="1.1"/>
<text x="1317.8" y="313.7" font-size="15" text-anchor="start" fill="#231815" stroke="#231815" stroke-width="0.5" textLength="19.0" lengthAdjust="spacingAndGlyphs">60</text>
<line x1="1308.2" y1="197.6" x2="1312.8" y2="197.6" stroke="#231815" stroke-width="1.1"/>
<text x="1317.8" y="202.4" font-size="15" text-anchor="start" fill="#231815" stroke="#231815" stroke-width="0.5" textLength="19.0" lengthAdjust="spacingAndGlyphs">80</text>
<line x1="1308.2" y1="86.2" x2="1312.8" y2="86.2" stroke="#231815" stroke-width="1.1"/>
<text x="1317.8" y="91.0" font-size="15" text-anchor="start" fill="#231815" stroke="#231815" stroke-width="0.5" textLength="28.5" lengthAdjust="spacingAndGlyphs">100</text>
<text x="1369.8" y="367.0" font-size="18" text-anchor="middle" fill="#231815" stroke="#231815" stroke-width="0.5" textLength="152.0" lengthAdjust="spacingAndGlyphs" transform="rotate(90 1369.8 367.0)">Normalized Score</text>
<rect x="1506.2" y="86.9" width="493.0999999999999" height="230.99999999999997" fill="#fff"/>
<polyline points="1527.4,96.9 1536.6,114.2 1545.8,128.1 1554.9,143.6 1564.1,155.3 1573.3,167.6 1582.5,179.4 1591.7,188.4 1600.8,199.0 1610.0,206.6 1619.2,215.6 1628.4,222.9 1637.6,228.8 1646.7,234.1 1655.9,241.7 1665.1,246.8 1674.3,250.7 1683.5,254.5 1692.6,259.6 1701.8,264.0 1711.0,266.1 1720.2,271.8 1729.4,272.8 1738.5,277.0 1747.7,280.0 1756.9,282.5 1766.1,284.2 1775.3,285.0 1784.4,288.5 1793.6,289.2 1802.8,290.7 1812.0,292.8 1821.2,293.8 1830.3,296.3 1839.5,297.5 1848.7,298.2 1857.9,298.0 1867.1,299.5 1876.2,300.7 1885.4,300.8 1894.6,301.8 1903.8,302.9 1913.0,302.2 1922.1,303.0 1931.3,304.7 1940.5,304.4 1949.7,305.0 1958.9,304.5 1968.0,305.2 1977.2,306.7" fill="none" stroke="#E74C3C" stroke-width="3.2" stroke-linejoin="round" stroke-opacity="0.85"/>
<circle cx="1527.4" cy="96.9" r="2.5" fill="#E43E2E" fill-opacity="1"/>
<circle cx="1536.6" cy="114.2" r="2.5" fill="#E43E2E" fill-opacity="1"/>
<circle cx="1545.8" cy="128.1" r="2.5" fill="#E43E2E" fill-opacity="1"/>
<circle cx="1554.9" cy="143.6" r="2.5" fill="#E43E2E" fill-opacity="1"/>
<circle cx="1564.1" cy="155.3" r="2.5" fill="#E43E2E" fill-opacity="1"/>
<circle cx="1573.3" cy="167.6" r="2.5" fill="#E43E2E" fill-opacity="1"/>
<circle cx="1582.5" cy="179.4" r="2.5" fill="#E43E2E" fill-opacity="1"/>
<circle cx="1591.7" cy="188.4" r="2.5" fill="#E43E2E" fill-opacity="1"/>
<circle cx="1600.8" cy="199.0" r="2.5" fill="#E43E2E" fill-opacity="1"/>
<circle cx="1610.0" cy="206.6" r="2.5" fill="#E43E2E" fill-opacity="1"/>
<circle cx="1619.2" cy="215.6" r="2.5" fill="#E43E2E" fill-opacity="1"/>
<circle cx="1628.4" cy="222.9" r="2.5" fill="#E43E2E" fill-opacity="1"/>
<circle cx="1637.6" cy="228.8" r="2.5" fill="#E43E2E" fill-opacity="1"/>
<circle cx="1646.7" cy="234.1" r="2.5" fill="#E43E2E" fill-opacity="1"/>
<circle cx="1655.9" cy="241.7" r="2.5" fill="#E43E2E" fill-opacity="1"/>
<circle cx="1665.1" cy="246.8" r="2.5" fill="#E43E2E" fill-opacity="1"/>
<circle cx="1674.3" cy="250.7" r="2.5" fill="#E43E2E" fill-opacity="1"/>
<circle cx="1683.5" cy="254.5" r="2.5" fill="#E43E2E" fill-opacity="1"/>
<circle cx="1692.6" cy="259.6" r="2.5" fill="#E43E2E" fill-opacity="1"/>
<circle cx="1701.8" cy="264.0" r="2.5" fill="#E43E2E" fill-opacity="1"/>
<circle cx="1711.0" cy="266.1" r="2.5" fill="#E43E2E" fill-opacity="1"/>
<circle cx="1720.2" cy="271.8" r="2.5" fill="#E43E2E" fill-opacity="1"/>
<circle cx="1729.4" cy="272.8" r="2.5" fill="#E43E2E" fill-opacity="1"/>
<circle cx="1738.5" cy="277.0" r="2.5" fill="#E43E2E" fill-opacity="1"/>
<circle cx="1747.7" cy="280.0" r="2.5" fill="#E43E2E" fill-opacity="1"/>
<circle cx="1756.9" cy="282.5" r="2.5" fill="#E43E2E" fill-opacity="1"/>
<circle cx="1766.1" cy="284.2" r="2.5" fill="#E43E2E" fill-opacity="1"/>
<circle cx="1775.3" cy="285.0" r="2.5" fill="#E43E2E" fill-opacity="1"/>
<circle cx="1784.4" cy="288.5" r="2.5" fill="#E43E2E" fill-opacity="1"/>
<circle cx="1793.6" cy="289.2" r="2.5" fill="#E43E2E" fill-opacity="1"/>
<circle cx="1802.8" cy="290.7" r="2.5" fill="#E43E2E" fill-opacity="1"/>
<circle cx="1812.0" cy="292.8" r="2.5" fill="#E43E2E" fill-opacity="1"/>
<circle cx="1821.2" cy="293.8" r="2.5" fill="#E43E2E" fill-opacity="1"/>
<circle cx="1830.3" cy="296.3" r="2.5" fill="#E43E2E" fill-opacity="1"/>
<circle cx="1839.5" cy="297.5" r="2.5" fill="#E43E2E" fill-opacity="1"/>
<circle cx="1848.7" cy="298.2" r="2.5" fill="#E43E2E" fill-opacity="1"/>
<circle cx="1857.9" cy="298.0" r="2.5" fill="#E43E2E" fill-opacity="1"/>
<circle cx="1867.1" cy="299.5" r="2.5" fill="#E43E2E" fill-opacity="1"/>
<circle cx="1876.2" cy="300.7" r="2.5" fill="#E43E2E" fill-opacity="1"/>
<circle cx="1885.4" cy="300.8" r="2.5" fill="#E43E2E" fill-opacity="1"/>
<circle cx="1894.6" cy="301.8" r="2.5" fill="#E43E2E" fill-opacity="1"/>
<circle cx="1903.8" cy="302.9" r="2.5" fill="#E43E2E" fill-opacity="1"/>
<circle cx="1913.0" cy="302.2" r="2.5" fill="#E43E2E" fill-opacity="1"/>
<circle cx="1922.1" cy="303.0" r="2.5" fill="#E43E2E" fill-opacity="1"/>
<circle cx="1931.3" cy="304.7" r="2.5" fill="#E43E2E" fill-opacity="1"/>
<circle cx="1940.5" cy="304.4" r="2.5" fill="#E43E2E" fill-opacity="1"/>
<circle cx="1949.7" cy="305.0" r="2.5" fill="#E43E2E" fill-opacity="1"/>
<circle cx="1958.9" cy="304.5" r="2.5" fill="#E43E2E" fill-opacity="1"/>
<circle cx="1968.0" cy="305.2" r="2.5" fill="#E43E2E" fill-opacity="1"/>
<circle cx="1977.2" cy="306.7" r="2.5" fill="#E43E2E" fill-opacity="1"/>
<polyline points="1527.4,114.0 1536.6,126.4 1545.8,136.7 1554.9,146.3 1564.1,157.2 1573.3,165.6 1582.5,175.0 1591.7,181.7 1600.8,189.0 1610.0,196.5 1619.2,202.5 1628.4,209.9 1637.6,215.0 1646.7,220.7 1655.9,225.9 1665.1,231.0 1674.3,234.7 1683.5,238.8 1692.6,243.8 1701.8,247.2 1711.0,252.0 1720.2,254.0 1729.4,257.2 1738.5,259.5 1747.7,262.6 1756.9,266.3 1766.1,268.5 1775.3,270.2 1784.4,273.7 1793.6,274.8 1802.8,277.3 1812.0,279.2 1821.2,281.0 1830.3,281.2 1839.5,283.9 1848.7,285.1 1857.9,286.1 1867.1,286.3 1876.2,289.1 1885.4,289.4 1894.6,290.3 1903.8,290.5 1913.0,291.6 1922.1,292.3 1931.3,294.3 1940.5,294.8 1949.7,295.6 1958.9,295.2 1968.0,295.6 1977.2,297.9" fill="none" stroke="#F39C12" stroke-width="3.2" stroke-linejoin="round" stroke-opacity="0.85"/>
<rect x="1524.7" y="111.2" width="5.5" height="5.5" fill="#F09A1A" fill-opacity="1"/>
<rect x="1533.8" y="123.7" width="5.5" height="5.5" fill="#F09A1A" fill-opacity="1"/>
<rect x="1543.0" y="134.0" width="5.5" height="5.5" fill="#F09A1A" fill-opacity="1"/>
<rect x="1552.2" y="143.6" width="5.5" height="5.5" fill="#F09A1A" fill-opacity="1"/>
<rect x="1561.4" y="154.4" width="5.5" height="5.5" fill="#F09A1A" fill-opacity="1"/>
<rect x="1570.6" y="162.8" width="5.5" height="5.5" fill="#F09A1A" fill-opacity="1"/>
<rect x="1579.7" y="172.3" width="5.5" height="5.5" fill="#F09A1A" fill-opacity="1"/>
<rect x="1588.9" y="179.0" width="5.5" height="5.5" fill="#F09A1A" fill-opacity="1"/>
<rect x="1598.1" y="186.3" width="5.5" height="5.5" fill="#F09A1A" fill-opacity="1"/>
<rect x="1607.3" y="193.7" width="5.5" height="5.5" fill="#F09A1A" fill-opacity="1"/>
<rect x="1616.5" y="199.8" width="5.5" height="5.5" fill="#F09A1A" fill-opacity="1"/>
<rect x="1625.6" y="207.1" width="5.5" height="5.5" fill="#F09A1A" fill-opacity="1"/>
<rect x="1634.8" y="212.2" width="5.5" height="5.5" fill="#F09A1A" fill-opacity="1"/>
<rect x="1644.0" y="217.9" width="5.5" height="5.5" fill="#F09A1A" fill-opacity="1"/>
<rect x="1653.2" y="223.1" width="5.5" height="5.5" fill="#F09A1A" fill-opacity="1"/>
<rect x="1662.4" y="228.2" width="5.5" height="5.5" fill="#F09A1A" fill-opacity="1"/>
<rect x="1671.5" y="232.0" width="5.5" height="5.5" fill="#F09A1A" fill-opacity="1"/>
<rect x="1680.7" y="236.1" width="5.5" height="5.5" fill="#F09A1A" fill-opacity="1"/>
<rect x="1689.9" y="241.1" width="5.5" height="5.5" fill="#F09A1A" fill-opacity="1"/>
<rect x="1699.1" y="244.4" width="5.5" height="5.5" fill="#F09A1A" fill-opacity="1"/>
<rect x="1708.2" y="249.2" width="5.5" height="5.5" fill="#F09A1A" fill-opacity="1"/>
<rect x="1717.4" y="251.3" width="5.5" height="5.5" fill="#F09A1A" fill-opacity="1"/>
<rect x="1726.6" y="254.5" width="5.5" height="5.5" fill="#F09A1A" fill-opacity="1"/>
<rect x="1735.8" y="256.7" width="5.5" height="5.5" fill="#F09A1A" fill-opacity="1"/>
<rect x="1745.0" y="259.8" width="5.5" height="5.5" fill="#F09A1A" fill-opacity="1"/>
<rect x="1754.2" y="263.5" width="5.5" height="5.5" fill="#F09A1A" fill-opacity="1"/>
<rect x="1763.3" y="265.8" width="5.5" height="5.5" fill="#F09A1A" fill-opacity="1"/>
<rect x="1772.5" y="267.5" width="5.5" height="5.5" fill="#F09A1A" fill-opacity="1"/>
<rect x="1781.7" y="271.0" width="5.5" height="5.5" fill="#F09A1A" fill-opacity="1"/>
<rect x="1790.9" y="272.1" width="5.5" height="5.5" fill="#F09A1A" fill-opacity="1"/>
<rect x="1800.1" y="274.6" width="5.5" height="5.5" fill="#F09A1A" fill-opacity="1"/>
<rect x="1809.2" y="276.5" width="5.5" height="5.5" fill="#F09A1A" fill-opacity="1"/>
<rect x="1818.4" y="278.3" width="5.5" height="5.5" fill="#F09A1A" fill-opacity="1"/>
<rect x="1827.6" y="278.4" width="5.5" height="5.5" fill="#F09A1A" fill-opacity="1"/>
<rect x="1836.8" y="281.2" width="5.5" height="5.5" fill="#F09A1A" fill-opacity="1"/>
<rect x="1846.0" y="282.3" width="5.5" height="5.5" fill="#F09A1A" fill-opacity="1"/>
<rect x="1855.1" y="283.4" width="5.5" height="5.5" fill="#F09A1A" fill-opacity="1"/>
<rect x="1864.3" y="283.6" width="5.5" height="5.5" fill="#F09A1A" fill-opacity="1"/>
<rect x="1873.5" y="286.4" width="5.5" height="5.5" fill="#F09A1A" fill-opacity="1"/>
<rect x="1882.7" y="286.7" width="5.5" height="5.5" fill="#F09A1A" fill-opacity="1"/>
<rect x="1891.9" y="287.5" width="5.5" height="5.5" fill="#F09A1A" fill-opacity="1"/>
<rect x="1901.0" y="287.8" width="5.5" height="5.5" fill="#F09A1A" fill-opacity="1"/>
<rect x="1910.2" y="288.8" width="5.5" height="5.5" fill="#F09A1A" fill-opacity="1"/>
<rect x="1919.4" y="289.6" width="5.5" height="5.5" fill="#F09A1A" fill-opacity="1"/>
<rect x="1928.6" y="291.6" width="5.5" height="5.5" fill="#F09A1A" fill-opacity="1"/>
<rect x="1937.8" y="292.0" width="5.5" height="5.5" fill="#F09A1A" fill-opacity="1"/>
<rect x="1946.9" y="292.8" width="5.5" height="5.5" fill="#F09A1A" fill-opacity="1"/>
<rect x="1956.1" y="292.4" width="5.5" height="5.5" fill="#F09A1A" fill-opacity="1"/>
<rect x="1965.3" y="292.9" width="5.5" height="5.5" fill="#F09A1A" fill-opacity="1"/>
<rect x="1974.5" y="295.1" width="5.5" height="5.5" fill="#F09A1A" fill-opacity="1"/>
<line x1="1527.8" y1="86.9" x2="1527.8" y2="317.9" stroke="#a8a8a8" stroke-width="1.1" stroke-opacity="0.57"/>
<line x1="1619.6" y1="86.9" x2="1619.6" y2="317.9" stroke="#a8a8a8" stroke-width="1.1" stroke-opacity="0.57"/>
<line x1="1711.4" y1="86.9" x2="1711.4" y2="317.9" stroke="#a8a8a8" stroke-width="1.1" stroke-opacity="0.57"/>
<line x1="1803.2" y1="86.9" x2="1803.2" y2="317.9" stroke="#a8a8a8" stroke-width="1.1" stroke-opacity="0.57"/>
<line x1="1895.0" y1="86.9" x2="1895.0" y2="317.9" stroke="#a8a8a8" stroke-width="1.1" stroke-opacity="0.57"/>
<line x1="1986.8" y1="86.9" x2="1986.8" y2="317.9" stroke="#a8a8a8" stroke-width="1.1" stroke-opacity="0.57"/>
<line x1="1506.2" y1="309.2" x2="1999.3" y2="309.2" stroke="#a8a8a8" stroke-width="1.1" stroke-opacity="0.57"/>
<line x1="1506.2" y1="266.5" x2="1999.3" y2="266.5" stroke="#a8a8a8" stroke-width="1.1" stroke-opacity="0.57"/>
<line x1="1506.2" y1="223.8" x2="1999.3" y2="223.8" stroke="#a8a8a8" stroke-width="1.1" stroke-opacity="0.57"/>
<line x1="1506.2" y1="181.1" x2="1999.3" y2="181.1" stroke="#a8a8a8" stroke-width="1.1" stroke-opacity="0.57"/>
<line x1="1506.2" y1="138.4" x2="1999.3" y2="138.4" stroke="#a8a8a8" stroke-width="1.1" stroke-opacity="0.57"/>
<line x1="1506.2" y1="95.7" x2="1999.3" y2="95.7" stroke="#a8a8a8" stroke-width="1.1" stroke-opacity="0.57"/>
<rect x="1868.6" y="92.5" width="124.60000000000014" height="50.099999999999994" rx="4.5" fill="#fff" fill-opacity="0.9" stroke="#c8c8c8" stroke-width="1.1"/>
<line x1="1872.1" y1="106.1" x2="1908.6" y2="106.1" stroke="#E74C3C" stroke-width="4.5" stroke-opacity="0.8"/>
<rect x="1887.5" y="101.6" width="5.6" height="9" fill="#EE5032"/>
<text x="1917.8" y="110.7" font-size="15" text-anchor="start" fill="#231815" stroke="#231815" stroke-width="0.45" textLength="57.5" lengthAdjust="spacingAndGlyphs">Training</text>
<line x1="1872.1" y1="128.5" x2="1908.6" y2="128.5" stroke="#F39C12" stroke-width="4.5" stroke-opacity="0.8"/>
<rect x="1885.5" y="124.5" width="9.5" height="8" fill="#EBA52D"/>
<text x="1917.8" y="134.5" font-size="15" text-anchor="start" fill="#231815" stroke="#231815" stroke-width="0.45" textLength="70.5" lengthAdjust="spacingAndGlyphs">Validation</text>
<rect x="1506.2" y="86.9" width="493.0999999999999" height="230.99999999999997" fill="none" stroke="#2b2220" stroke-width="1.6"/>
<line x1="1527.4" y1="317.9" x2="1527.4" y2="322.9" stroke="#231815" stroke-width="1.1"/>
<text x="1527.4" y="339.1" font-size="15" text-anchor="middle" fill="#231815" stroke="#231815" stroke-width="0.5">0</text>
<line x1="1619.2" y1="317.9" x2="1619.2" y2="322.9" stroke="#231815" stroke-width="1.1"/>
<text x="1619.2" y="339.1" font-size="15" text-anchor="middle" fill="#231815" stroke="#231815" stroke-width="0.5" textLength="19.5" lengthAdjust="spacingAndGlyphs">10</text>
<line x1="1711.0" y1="317.9" x2="1711.0" y2="322.9" stroke="#231815" stroke-width="1.1"/>
<text x="1711.0" y="339.1" font-size="15" text-anchor="middle" fill="#231815" stroke="#231815" stroke-width="0.5" textLength="19.5" lengthAdjust="spacingAndGlyphs">20</text>
<line x1="1802.8" y1="317.9" x2="1802.8" y2="322.9" stroke="#231815" stroke-width="1.1"/>
<text x="1802.8" y="339.1" font-size="15" text-anchor="middle" fill="#231815" stroke="#231815" stroke-width="0.5" textLength="19.5" lengthAdjust="spacingAndGlyphs">30</text>
<line x1="1894.6" y1="317.9" x2="1894.6" y2="322.9" stroke="#231815" stroke-width="1.1"/>
<text x="1894.6" y="339.1" font-size="15" text-anchor="middle" fill="#231815" stroke="#231815" stroke-width="0.5" textLength="19.5" lengthAdjust="spacingAndGlyphs">40</text>
<line x1="1986.4" y1="317.9" x2="1986.4" y2="322.9" stroke="#231815" stroke-width="1.1"/>
<text x="1986.4" y="339.1" font-size="15" text-anchor="middle" fill="#231815" stroke="#231815" stroke-width="0.5" textLength="19.5" lengthAdjust="spacingAndGlyphs">50</text>
<line x1="1501.2" y1="310.4" x2="1506.2" y2="310.4" stroke="#231815" stroke-width="1.1"/>
<text x="1497.4" y="315.8" font-size="15" text-anchor="end" fill="#231815" stroke="#231815" stroke-width="0.5" textLength="27.0" lengthAdjust="spacingAndGlyphs">0.0</text>
<line x1="1501.2" y1="267.7" x2="1506.2" y2="267.7" stroke="#231815" stroke-width="1.1"/>
<text x="1497.4" y="273.1" font-size="15" text-anchor="end" fill="#231815" stroke="#231815" stroke-width="0.5" textLength="27.0" lengthAdjust="spacingAndGlyphs">0.5</text>
<line x1="1501.2" y1="225.0" x2="1506.2" y2="225.0" stroke="#231815" stroke-width="1.1"/>
<text x="1497.4" y="230.4" font-size="15" text-anchor="end" fill="#231815" stroke="#231815" stroke-width="0.5" textLength="27.0" lengthAdjust="spacingAndGlyphs">1.0</text>
<line x1="1501.2" y1="182.3" x2="1506.2" y2="182.3" stroke="#231815" stroke-width="1.1"/>
<text x="1497.4" y="187.7" font-size="15" text-anchor="end" fill="#231815" stroke="#231815" stroke-width="0.5" textLength="27.0" lengthAdjust="spacingAndGlyphs">1.5</text>
<line x1="1501.2" y1="139.6" x2="1506.2" y2="139.6" stroke="#231815" stroke-width="1.1"/>
<text x="1497.4" y="145.0" font-size="15" text-anchor="end" fill="#231815" stroke="#231815" stroke-width="0.5" textLength="27.0" lengthAdjust="spacingAndGlyphs">2.0</text>
<line x1="1501.2" y1="96.9" x2="1506.2" y2="96.9" stroke="#231815" stroke-width="1.1"/>
<text x="1497.4" y="102.3" font-size="15" text-anchor="end" fill="#231815" stroke="#231815" stroke-width="0.5" textLength="27.0" lengthAdjust="spacingAndGlyphs">2.5</text>
<text x="1749.3" y="65.1" font-size="16.67" text-anchor="middle" fill="#231815" stroke="#231815" stroke-width="0.5" textLength="101.0" lengthAdjust="spacingAndGlyphs">Loss Curves</text>
<text x="1752.1" y="362.2" font-size="18" text-anchor="middle" fill="#231815" stroke="#231815" stroke-width="0.5" textLength="62.0" lengthAdjust="spacingAndGlyphs">Epochs</text>
<text x="1465.6" y="203.2" font-size="18" text-anchor="middle" fill="#231815" stroke="#231815" stroke-width="0.5" textLength="38.5" lengthAdjust="spacingAndGlyphs" transform="rotate(-90 1465.6 203.2)">Loss</text>
<rect x="1506.2" y="411.9" width="493.0999999999999" height="231.0" fill="#fff"/>
<polyline points="1527.4,634.0 1536.6,610.4 1545.8,593.3 1554.9,578.3 1564.1,561.1 1573.3,546.1 1582.5,526.9 1591.7,524.7 1600.8,514.0 1610.0,507.6 1619.2,507.6 1628.4,492.6 1637.6,486.2 1646.7,469.0 1655.9,475.5 1665.1,469.0 1674.3,466.9 1683.5,468.0 1692.6,451.9 1701.8,450.8 1711.0,447.6 1720.2,454.0 1729.4,441.2 1738.5,451.9 1747.7,441.2 1756.9,430.5 1766.1,443.3 1775.3,441.2 1784.4,436.9 1793.6,438.0 1802.8,441.2 1812.0,432.6 1821.2,436.9 1830.3,430.5 1839.5,434.8 1848.7,424.0 1857.9,432.6 1867.1,430.5 1876.2,426.2 1885.4,433.7 1894.6,428.3 1903.8,424.0 1913.0,434.8 1922.1,427.3 1931.3,426.2 1940.5,424.0 1949.7,432.6 1958.9,431.5 1968.0,426.2 1977.2,425.1" fill="none" stroke="#27AE60" stroke-width="3.2" stroke-linejoin="round" stroke-opacity="0.85"/>
<circle cx="1527.4" cy="634.0" r="2.5" fill="#27AE60" fill-opacity="1"/>
<circle cx="1536.6" cy="610.4" r="2.5" fill="#27AE60" fill-opacity="1"/>
<circle cx="1545.8" cy="593.3" r="2.5" fill="#27AE60" fill-opacity="1"/>
<circle cx="1554.9" cy="578.3" r="2.5" fill="#27AE60" fill-opacity="1"/>
<circle cx="1564.1" cy="561.1" r="2.5" fill="#27AE60" fill-opacity="1"/>
<circle cx="1573.3" cy="546.1" r="2.5" fill="#27AE60" fill-opacity="1"/>
<circle cx="1582.5" cy="526.9" r="2.5" fill="#27AE60" fill-opacity="1"/>
<circle cx="1591.7" cy="524.7" r="2.5" fill="#27AE60" fill-opacity="1"/>
<circle cx="1600.8" cy="514.0" r="2.5" fill="#27AE60" fill-opacity="1"/>
<circle cx="1610.0" cy="507.6" r="2.5" fill="#27AE60" fill-opacity="1"/>
<circle cx="1619.2" cy="507.6" r="2.5" fill="#27AE60" fill-opacity="1"/>
<circle cx="1628.4" cy="492.6" r="2.5" fill="#27AE60" fill-opacity="1"/>
<circle cx="1637.6" cy="486.2" r="2.5" fill="#27AE60" fill-opacity="1"/>
<circle cx="1646.7" cy="469.0" r="2.5" fill="#27AE60" fill-opacity="1"/>
<circle cx="1655.9" cy="475.5" r="2.5" fill="#27AE60" fill-opacity="1"/>
<circle cx="1665.1" cy="469.0" r="2.5" fill="#27AE60" fill-opacity="1"/>
<circle cx="1674.3" cy="466.9" r="2.5" fill="#27AE60" fill-opacity="1"/>
<circle cx="1683.5" cy="468.0" r="2.5" fill="#27AE60" fill-opacity="1"/>
<circle cx="1692.6" cy="451.9" r="2.5" fill="#27AE60" fill-opacity="1"/>
<circle cx="1701.8" cy="450.8" r="2.5" fill="#27AE60" fill-opacity="1"/>
<circle cx="1711.0" cy="447.6" r="2.5" fill="#27AE60" fill-opacity="1"/>
<circle cx="1720.2" cy="454.0" r="2.5" fill="#27AE60" fill-opacity="1"/>
<circle cx="1729.4" cy="441.2" r="2.5" fill="#27AE60" fill-opacity="1"/>
<circle cx="1738.5" cy="451.9" r="2.5" fill="#27AE60" fill-opacity="1"/>
<circle cx="1747.7" cy="441.2" r="2.5" fill="#27AE60" fill-opacity="1"/>
<circle cx="1756.9" cy="430.5" r="2.5" fill="#27AE60" fill-opacity="1"/>
<circle cx="1766.1" cy="443.3" r="2.5" fill="#27AE60" fill-opacity="1"/>
<circle cx="1775.3" cy="441.2" r="2.5" fill="#27AE60" fill-opacity="1"/>
<circle cx="1784.4" cy="436.9" r="2.5" fill="#27AE60" fill-opacity="1"/>
<circle cx="1793.6" cy="438.0" r="2.5" fill="#27AE60" fill-opacity="1"/>
<circle cx="1802.8" cy="441.2" r="2.5" fill="#27AE60" fill-opacity="1"/>
<circle cx="1812.0" cy="432.6" r="2.5" fill="#27AE60" fill-opacity="1"/>
<circle cx="1821.2" cy="436.9" r="2.5" fill="#27AE60" fill-opacity="1"/>
<circle cx="1830.3" cy="430.5" r="2.5" fill="#27AE60" fill-opacity="1"/>
<circle cx="1839.5" cy="434.8" r="2.5" fill="#27AE60" fill-opacity="1"/>
<circle cx="1848.7" cy="424.0" r="2.5" fill="#27AE60" fill-opacity="1"/>
<circle cx="1857.9" cy="432.6" r="2.5" fill="#27AE60" fill-opacity="1"/>
<circle cx="1867.1" cy="430.5" r="2.5" fill="#27AE60" fill-opacity="1"/>
<circle cx="1876.2" cy="426.2" r="2.5" fill="#27AE60" fill-opacity="1"/>
<circle cx="1885.4" cy="433.7" r="2.5" fill="#27AE60" fill-opacity="1"/>
<circle cx="1894.6" cy="428.3" r="2.5" fill="#27AE60" fill-opacity="1"/>
<circle cx="1903.8" cy="424.0" r="2.5" fill="#27AE60" fill-opacity="1"/>
<circle cx="1913.0" cy="434.8" r="2.5" fill="#27AE60" fill-opacity="1"/>
<circle cx="1922.1" cy="427.3" r="2.5" fill="#27AE60" fill-opacity="1"/>
<circle cx="1931.3" cy="426.2" r="2.5" fill="#27AE60" fill-opacity="1"/>
<circle cx="1940.5" cy="424.0" r="2.5" fill="#27AE60" fill-opacity="1"/>
<circle cx="1949.7" cy="432.6" r="2.5" fill="#27AE60" fill-opacity="1"/>
<circle cx="1958.9" cy="431.5" r="2.5" fill="#27AE60" fill-opacity="1"/>
<circle cx="1968.0" cy="426.2" r="2.5" fill="#27AE60" fill-opacity="1"/>
<circle cx="1977.2" cy="425.1" r="2.5" fill="#27AE60" fill-opacity="1"/>
<polyline points="1527.4,634.0 1536.6,610.4 1545.8,591.1 1554.9,571.8 1564.1,554.7 1573.3,544.0 1582.5,520.4 1591.7,514.0 1600.8,509.7 1610.0,494.7 1619.2,492.6 1628.4,477.6 1637.6,471.2 1646.7,471.2 1655.9,460.5 1665.1,457.2 1674.3,453.0 1683.5,445.5 1692.6,449.7 1701.8,448.7 1711.0,446.5 1720.2,444.4 1729.4,439.0 1738.5,436.9 1747.7,435.8 1756.9,432.6 1766.1,434.8 1775.3,428.3 1784.4,433.7 1793.6,421.9 1802.8,429.4 1812.0,433.7 1821.2,434.8 1830.3,428.3 1839.5,431.5 1848.7,426.2 1857.9,426.2 1867.1,428.3 1876.2,429.4 1885.4,432.6 1894.6,427.3 1903.8,424.0 1913.0,426.2 1922.1,430.5 1931.3,428.3 1940.5,425.1 1949.7,428.3 1958.9,427.3 1968.0,425.1 1977.2,429.4" fill="none" stroke="#3498DB" stroke-width="3.2" stroke-linejoin="round" stroke-opacity="0.85"/>
<path d="M1527.4 631.2L1530.2 636.7L1524.7 636.7Z" fill="#3498DB" fill-opacity="1"/>
<path d="M1536.6 607.6L1539.3 613.1L1533.8 613.1Z" fill="#3498DB" fill-opacity="1"/>
<path d="M1545.8 588.4L1548.5 593.9L1543.0 593.9Z" fill="#3498DB" fill-opacity="1"/>
<path d="M1554.9 569.1L1557.7 574.6L1552.2 574.6Z" fill="#3498DB" fill-opacity="1"/>
<path d="M1564.1 552.0L1566.9 557.5L1561.4 557.5Z" fill="#3498DB" fill-opacity="1"/>
<path d="M1573.3 541.2L1576.1 546.7L1570.6 546.7Z" fill="#3498DB" fill-opacity="1"/>
<path d="M1582.5 517.7L1585.2 523.2L1579.7 523.2Z" fill="#3498DB" fill-opacity="1"/>
<path d="M1591.7 511.3L1594.4 516.8L1588.9 516.8Z" fill="#3498DB" fill-opacity="1"/>
<path d="M1600.8 507.0L1603.6 512.5L1598.1 512.5Z" fill="#3498DB" fill-opacity="1"/>
<path d="M1610.0 492.0L1612.8 497.5L1607.3 497.5Z" fill="#3498DB" fill-opacity="1"/>
<path d="M1619.2 489.8L1622.0 495.3L1616.5 495.3Z" fill="#3498DB" fill-opacity="1"/>
<path d="M1628.4 474.8L1631.1 480.3L1625.6 480.3Z" fill="#3498DB" fill-opacity="1"/>
<path d="M1637.6 468.4L1640.3 473.9L1634.8 473.9Z" fill="#3498DB" fill-opacity="1"/>
<path d="M1646.7 468.4L1649.5 473.9L1644.0 473.9Z" fill="#3498DB" fill-opacity="1"/>
<path d="M1655.9 457.7L1658.7 463.2L1653.2 463.2Z" fill="#3498DB" fill-opacity="1"/>
<path d="M1665.1 454.5L1667.9 460.0L1662.4 460.0Z" fill="#3498DB" fill-opacity="1"/>
<path d="M1674.3 450.2L1677.0 455.7L1671.5 455.7Z" fill="#3498DB" fill-opacity="1"/>
<path d="M1683.5 442.7L1686.2 448.2L1680.7 448.2Z" fill="#3498DB" fill-opacity="1"/>
<path d="M1692.6 447.0L1695.4 452.5L1689.9 452.5Z" fill="#3498DB" fill-opacity="1"/>
<path d="M1701.8 445.9L1704.6 451.4L1699.1 451.4Z" fill="#3498DB" fill-opacity="1"/>
<path d="M1711.0 443.8L1713.8 449.3L1708.2 449.3Z" fill="#3498DB" fill-opacity="1"/>
<path d="M1720.2 441.6L1722.9 447.1L1717.4 447.1Z" fill="#3498DB" fill-opacity="1"/>
<path d="M1729.4 436.3L1732.1 441.8L1726.6 441.8Z" fill="#3498DB" fill-opacity="1"/>
<path d="M1738.5 434.1L1741.3 439.6L1735.8 439.6Z" fill="#3498DB" fill-opacity="1"/>
<path d="M1747.7 433.1L1750.5 438.6L1745.0 438.6Z" fill="#3498DB" fill-opacity="1"/>
<path d="M1756.9 429.9L1759.7 435.4L1754.2 435.4Z" fill="#3498DB" fill-opacity="1"/>
<path d="M1766.1 432.0L1768.8 437.5L1763.3 437.5Z" fill="#3498DB" fill-opacity="1"/>
<path d="M1775.3 425.6L1778.0 431.1L1772.5 431.1Z" fill="#3498DB" fill-opacity="1"/>
<path d="M1784.4 430.9L1787.2 436.4L1781.7 436.4Z" fill="#3498DB" fill-opacity="1"/>
<path d="M1793.6 419.2L1796.4 424.7L1790.9 424.7Z" fill="#3498DB" fill-opacity="1"/>
<path d="M1802.8 426.6L1805.6 432.1L1800.1 432.1Z" fill="#3498DB" fill-opacity="1"/>
<path d="M1812.0 430.9L1814.7 436.4L1809.2 436.4Z" fill="#3498DB" fill-opacity="1"/>
<path d="M1821.2 432.0L1823.9 437.5L1818.4 437.5Z" fill="#3498DB" fill-opacity="1"/>
<path d="M1830.3 425.6L1833.1 431.1L1827.6 431.1Z" fill="#3498DB" fill-opacity="1"/>
<path d="M1839.5 428.8L1842.3 434.3L1836.8 434.3Z" fill="#3498DB" fill-opacity="1"/>
<path d="M1848.7 423.4L1851.5 428.9L1846.0 428.9Z" fill="#3498DB" fill-opacity="1"/>
<path d="M1857.9 423.4L1860.6 428.9L1855.1 428.9Z" fill="#3498DB" fill-opacity="1"/>
<path d="M1867.1 425.6L1869.8 431.1L1864.3 431.1Z" fill="#3498DB" fill-opacity="1"/>
<path d="M1876.2 426.6L1879.0 432.1L1873.5 432.1Z" fill="#3498DB" fill-opacity="1"/>
<path d="M1885.4 429.9L1888.2 435.4L1882.7 435.4Z" fill="#3498DB" fill-opacity="1"/>
<path d="M1894.6 424.5L1897.4 430.0L1891.9 430.0Z" fill="#3498DB" fill-opacity="1"/>
<path d="M1903.8 421.3L1906.5 426.8L1901.0 426.8Z" fill="#3498DB" fill-opacity="1"/>
<path d="M1913.0 423.4L1915.7 428.9L1910.2 428.9Z" fill="#3498DB" fill-opacity="1"/>
<path d="M1922.1 427.7L1924.9 433.2L1919.4 433.2Z" fill="#3498DB" fill-opacity="1"/>
<path d="M1931.3 425.6L1934.1 431.1L1928.6 431.1Z" fill="#3498DB" fill-opacity="1"/>
<path d="M1940.5 422.4L1943.2 427.9L1937.8 427.9Z" fill="#3498DB" fill-opacity="1"/>
<path d="M1949.7 425.6L1952.4 431.1L1946.9 431.1Z" fill="#3498DB" fill-opacity="1"/>
<path d="M1958.9 424.5L1961.6 430.0L1956.1 430.0Z" fill="#3498DB" fill-opacity="1"/>
<path d="M1968.0 422.4L1970.8 427.9L1965.3 427.9Z" fill="#3498DB" fill-opacity="1"/>
<path d="M1977.2 426.6L1980.0 432.1L1974.5 432.1Z" fill="#3498DB" fill-opacity="1"/>
<line x1="1527.8" y1="411.9" x2="1527.8" y2="642.9" stroke="#a8a8a8" stroke-width="1.1" stroke-opacity="0.57"/>
<line x1="1619.6" y1="411.9" x2="1619.6" y2="642.9" stroke="#a8a8a8" stroke-width="1.1" stroke-opacity="0.57"/>
<line x1="1711.4" y1="411.9" x2="1711.4" y2="642.9" stroke="#a8a8a8" stroke-width="1.1" stroke-opacity="0.57"/>
<line x1="1803.2" y1="411.9" x2="1803.2" y2="642.9" stroke="#a8a8a8" stroke-width="1.1" stroke-opacity="0.57"/>
<line x1="1895.0" y1="411.9" x2="1895.0" y2="642.9" stroke="#a8a8a8" stroke-width="1.1" stroke-opacity="0.57"/>
<line x1="1986.8" y1="411.9" x2="1986.8" y2="642.9" stroke="#a8a8a8" stroke-width="1.1" stroke-opacity="0.57"/>
<line x1="1506.2" y1="636.1" x2="1999.3" y2="636.1" stroke="#a8a8a8" stroke-width="1.1" stroke-opacity="0.57"/>
<line x1="1506.2" y1="593.3" x2="1999.3" y2="593.3" stroke="#a8a8a8" stroke-width="1.1" stroke-opacity="0.57"/>
<line x1="1506.2" y1="550.4" x2="1999.3" y2="550.4" stroke="#a8a8a8" stroke-width="1.1" stroke-opacity="0.57"/>
<line x1="1506.2" y1="507.6" x2="1999.3" y2="507.6" stroke="#a8a8a8" stroke-width="1.1" stroke-opacity="0.57"/>
<line x1="1506.2" y1="464.7" x2="1999.3" y2="464.7" stroke="#a8a8a8" stroke-width="1.1" stroke-opacity="0.57"/>
<line x1="1506.2" y1="421.9" x2="1999.3" y2="421.9" stroke="#a8a8a8" stroke-width="1.1" stroke-opacity="0.57"/>
<rect x="1514.5" y="417.2" width="124.0" height="50.5" rx="4.5" fill="#fff" fill-opacity="0.9" stroke="#c8c8c8" stroke-width="1.1"/>
<line x1="1518.0" y1="430.8" x2="1554.5" y2="430.8" stroke="#27AE60" stroke-width="4.5" stroke-opacity="0.8"/>
<rect x="1533.7" y="426.3" width="5" height="9" fill="#2DB060"/>
<text x="1563.7" y="435.4" font-size="15" text-anchor="start" fill="#231815" stroke="#231815" stroke-width="0.45" textLength="45.5" lengthAdjust="spacingAndGlyphs">BLEUV</text>
<line x1="1518.0" y1="453.2" x2="1554.5" y2="453.2" stroke="#3498DB" stroke-width="4.5" stroke-opacity="0.8"/>
<rect x="1531.8" y="448.9" width="8.8" height="8.5" fill="#3D9ADB"/>
<text x="1563.7" y="459.2" font-size="15" text-anchor="start" fill="#231815" stroke="#231815" stroke-width="0.45" textLength="63.2" lengthAdjust="spacingAndGlyphs">ROUGE-L</text>
<rect x="1506.2" y="411.9" width="493.0999999999999" height="231.0" fill="none" stroke="#2b2220" stroke-width="1.6"/>
<line x1="1527.4" y1="642.9" x2="1527.4" y2="647.9" stroke="#231815" stroke-width="1.1"/>
<text x="1527.4" y="664.1" font-size="15" text-anchor="middle" fill="#231815" stroke="#231815" stroke-width="0.5">0</text>
<line x1="1619.2" y1="642.9" x2="1619.2" y2="647.9" stroke="#231815" stroke-width="1.1"/>
<text x="1619.2" y="664.1" font-size="15" text-anchor="middle" fill="#231815" stroke="#231815" stroke-width="0.5" textLength="19.5" lengthAdjust="spacingAndGlyphs">10</text>
<line x1="1711.0" y1="642.9" x2="1711.0" y2="647.9" stroke="#231815" stroke-width="1.1"/>
<text x="1711.0" y="664.1" font-size="15" text-anchor="middle" fill="#231815" stroke="#231815" stroke-width="0.5" textLength="19.5" lengthAdjust="spacingAndGlyphs">20</text>
<line x1="1802.8" y1="642.9" x2="1802.8" y2="647.9" stroke="#231815" stroke-width="1.1"/>
<text x="1802.8" y="664.1" font-size="15" text-anchor="middle" fill="#231815" stroke="#231815" stroke-width="0.5" textLength="19.5" lengthAdjust="spacingAndGlyphs">30</text>
<line x1="1894.6" y1="642.9" x2="1894.6" y2="647.9" stroke="#231815" stroke-width="1.1"/>
<text x="1894.6" y="664.1" font-size="15" text-anchor="middle" fill="#231815" stroke="#231815" stroke-width="0.5" textLength="19.5" lengthAdjust="spacingAndGlyphs">40</text>
<line x1="1986.4" y1="642.9" x2="1986.4" y2="647.9" stroke="#231815" stroke-width="1.1"/>
<text x="1986.4" y="664.1" font-size="15" text-anchor="middle" fill="#231815" stroke="#231815" stroke-width="0.5" textLength="19.5" lengthAdjust="spacingAndGlyphs">50</text>
<line x1="1501.2" y1="636.1" x2="1506.2" y2="636.1" stroke="#231815" stroke-width="1.1"/>
<text x="1497.4" y="641.5" font-size="15" text-anchor="end" fill="#231815" stroke="#231815" stroke-width="0.5">0</text>
<line x1="1501.2" y1="593.3" x2="1506.2" y2="593.3" stroke="#231815" stroke-width="1.1"/>
<text x="1497.4" y="598.7" font-size="15" text-anchor="end" fill="#231815" stroke="#231815" stroke-width="0.5" textLength="19.5" lengthAdjust="spacingAndGlyphs">20</text>
<line x1="1501.2" y1="550.4" x2="1506.2" y2="550.4" stroke="#231815" stroke-width="1.1"/>
<text x="1497.4" y="555.8" font-size="15" text-anchor="end" fill="#231815" stroke="#231815" stroke-width="0.5" textLength="19.5" lengthAdjust="spacingAndGlyphs">40</text>
<line x1="1501.2" y1="507.6" x2="1506.2" y2="507.6" stroke="#231815" stroke-width="1.1"/>
<text x="1497.4" y="513.0" font-size="15" text-anchor="end" fill="#231815" stroke="#231815" stroke-width="0.5" textLength="19.5" lengthAdjust="spacingAndGlyphs">60</text>
<line x1="1501.2" y1="464.7" x2="1506.2" y2="464.7" stroke="#231815" stroke-width="1.1"/>
<text x="1497.4" y="470.1" font-size="15" text-anchor="end" fill="#231815" stroke="#231815" stroke-width="0.5" textLength="19.5" lengthAdjust="spacingAndGlyphs">80</text>
<line x1="1501.2" y1="421.9" x2="1506.2" y2="421.9" stroke="#231815" stroke-width="1.1"/>
<text x="1497.4" y="427.3" font-size="15" text-anchor="end" fill="#231815" stroke="#231815" stroke-width="0.5" textLength="29.0" lengthAdjust="spacingAndGlyphs">100</text>
<text x="1752.3" y="390.1" font-size="16.67" text-anchor="middle" fill="#231815" stroke="#231815" stroke-width="0.5" textLength="130.5" lengthAdjust="spacingAndGlyphs">Quality Metrics</text>
<text x="1752.1" y="687.2" font-size="18" text-anchor="middle" fill="#231815" stroke="#231815" stroke-width="0.5" textLength="62.0" lengthAdjust="spacingAndGlyphs">Epochs</text>
<text x="1459.5" y="528.3" font-size="18" text-anchor="middle" fill="#231815" stroke="#231815" stroke-width="0.5" textLength="80.3" lengthAdjust="spacingAndGlyphs" transform="rotate(-90 1459.5 528.3)">Score (%)</text>
<rect x="1506.2" y="738.1" width="493.0999999999999" height="230.5" fill="#fff"/>
<line x1="1507.7" y1="882.5" x2="1999.3" y2="882.5" stroke="#E63B42" stroke-width="4" stroke-dasharray="15.4 6.7" stroke-opacity="0.95"/>
<polyline points="1527.4,746.9 1536.6,757.7 1545.8,761.4 1554.9,772.7 1564.1,785.8 1573.3,793.5 1582.5,796.2 1591.7,813.3 1600.8,816.5 1610.0,828.3 1619.2,835.0 1628.4,835.9 1637.6,844.1 1646.7,849.5 1655.9,853.6 1665.1,865.3 1674.3,867.1 1683.5,877.1 1692.6,879.8 1701.8,885.7 1711.0,889.3 1720.2,891.5 1729.4,901.0 1738.5,892.0 1747.7,909.2 1756.9,913.7 1766.1,906.5 1775.3,911.0 1784.4,914.6 1793.6,916.4 1802.8,921.8 1812.0,929.5 1821.2,927.7 1830.3,933.1 1839.5,927.7 1848.7,935.4 1857.9,939.5 1867.1,939.5 1876.2,938.1 1885.4,944.4 1894.6,947.6 1903.8,943.5 1913.0,944.9 1922.1,949.8 1931.3,951.2 1940.5,948.5 1949.7,958.9 1958.9,958.9 1968.0,956.2 1977.2,955.3" fill="none" stroke="#781E80" stroke-width="3.5" stroke-linejoin="round" stroke-opacity="0.95"/>
<path d="M1527.4 743.1L1530.6 746.9L1527.4 750.6L1524.2 746.9Z" fill="#651A70" fill-opacity="1"/>
<path d="M1536.6 754.0L1539.7 757.7L1536.6 761.5L1533.4 757.7Z" fill="#651A70" fill-opacity="1"/>
<path d="M1545.8 757.6L1548.9 761.4L1545.8 765.1L1542.6 761.4Z" fill="#651A70" fill-opacity="1"/>
<path d="M1554.9 768.9L1558.1 772.7L1554.9 776.4L1551.8 772.7Z" fill="#651A70" fill-opacity="1"/>
<path d="M1564.1 782.0L1567.3 785.8L1564.1 789.5L1561.0 785.8Z" fill="#651A70" fill-opacity="1"/>
<path d="M1573.3 789.7L1576.5 793.5L1573.3 797.2L1570.2 793.5Z" fill="#651A70" fill-opacity="1"/>
<path d="M1582.5 792.4L1585.6 796.2L1582.5 799.9L1579.3 796.2Z" fill="#651A70" fill-opacity="1"/>
<path d="M1591.7 809.6L1594.8 813.3L1591.7 817.1L1588.5 813.3Z" fill="#651A70" fill-opacity="1"/>
<path d="M1600.8 812.8L1604.0 816.5L1600.8 820.3L1597.7 816.5Z" fill="#651A70" fill-opacity="1"/>
<path d="M1610.0 824.5L1613.2 828.3L1610.0 832.0L1606.9 828.3Z" fill="#651A70" fill-opacity="1"/>
<path d="M1619.2 831.3L1622.4 835.0L1619.2 838.8L1616.0 835.0Z" fill="#651A70" fill-opacity="1"/>
<path d="M1628.4 832.2L1631.5 835.9L1628.4 839.7L1625.2 835.9Z" fill="#651A70" fill-opacity="1"/>
<path d="M1637.6 840.3L1640.7 844.1L1637.6 847.8L1634.4 844.1Z" fill="#651A70" fill-opacity="1"/>
<path d="M1646.7 845.8L1649.9 849.5L1646.7 853.3L1643.6 849.5Z" fill="#651A70" fill-opacity="1"/>
<path d="M1655.9 849.8L1659.1 853.6L1655.9 857.3L1652.8 853.6Z" fill="#651A70" fill-opacity="1"/>
<path d="M1665.1 861.6L1668.3 865.3L1665.1 869.1L1662.0 865.3Z" fill="#651A70" fill-opacity="1"/>
<path d="M1674.3 863.4L1677.4 867.1L1674.3 870.9L1671.1 867.1Z" fill="#651A70" fill-opacity="1"/>
<path d="M1683.5 873.3L1686.6 877.1L1683.5 880.8L1680.3 877.1Z" fill="#651A70" fill-opacity="1"/>
<path d="M1692.6 876.0L1695.8 879.8L1692.6 883.5L1689.5 879.8Z" fill="#651A70" fill-opacity="1"/>
<path d="M1701.8 881.9L1705.0 885.7L1701.8 889.4L1698.7 885.7Z" fill="#651A70" fill-opacity="1"/>
<path d="M1711.0 885.5L1714.2 889.3L1711.0 893.0L1707.8 889.3Z" fill="#651A70" fill-opacity="1"/>
<path d="M1720.2 887.8L1723.3 891.5L1720.2 895.3L1717.0 891.5Z" fill="#651A70" fill-opacity="1"/>
<path d="M1729.4 897.3L1732.5 901.0L1729.4 904.8L1726.2 901.0Z" fill="#651A70" fill-opacity="1"/>
<path d="M1738.5 888.2L1741.7 892.0L1738.5 895.7L1735.4 892.0Z" fill="#651A70" fill-opacity="1"/>
<path d="M1747.7 905.4L1750.9 909.2L1747.7 912.9L1744.6 909.2Z" fill="#651A70" fill-opacity="1"/>
<path d="M1756.9 909.9L1760.1 913.7L1756.9 917.4L1753.8 913.7Z" fill="#651A70" fill-opacity="1"/>
<path d="M1766.1 902.7L1769.2 906.5L1766.1 910.2L1762.9 906.5Z" fill="#651A70" fill-opacity="1"/>
<path d="M1775.3 907.2L1778.4 911.0L1775.3 914.7L1772.1 911.0Z" fill="#651A70" fill-opacity="1"/>
<path d="M1784.4 910.8L1787.6 914.6L1784.4 918.3L1781.3 914.6Z" fill="#651A70" fill-opacity="1"/>
<path d="M1793.6 912.6L1796.8 916.4L1793.6 920.1L1790.5 916.4Z" fill="#651A70" fill-opacity="1"/>
<path d="M1802.8 918.1L1806.0 921.8L1802.8 925.6L1799.7 921.8Z" fill="#651A70" fill-opacity="1"/>
<path d="M1812.0 925.8L1815.1 929.5L1812.0 933.3L1808.8 929.5Z" fill="#651A70" fill-opacity="1"/>
<path d="M1821.2 923.9L1824.3 927.7L1821.2 931.4L1818.0 927.7Z" fill="#651A70" fill-opacity="1"/>
<path d="M1830.3 929.4L1833.5 933.1L1830.3 936.9L1827.2 933.1Z" fill="#651A70" fill-opacity="1"/>
<path d="M1839.5 923.9L1842.7 927.7L1839.5 931.4L1836.4 927.7Z" fill="#651A70" fill-opacity="1"/>
<path d="M1848.7 931.6L1851.9 935.4L1848.7 939.1L1845.5 935.4Z" fill="#651A70" fill-opacity="1"/>
<path d="M1857.9 935.7L1861.0 939.5L1857.9 943.2L1854.7 939.5Z" fill="#651A70" fill-opacity="1"/>
<path d="M1867.1 935.7L1870.2 939.5L1867.1 943.2L1863.9 939.5Z" fill="#651A70" fill-opacity="1"/>
<path d="M1876.2 934.3L1879.4 938.1L1876.2 941.8L1873.1 938.1Z" fill="#651A70" fill-opacity="1"/>
<path d="M1885.4 940.7L1888.6 944.4L1885.4 948.2L1882.3 944.4Z" fill="#651A70" fill-opacity="1"/>
<path d="M1894.6 943.8L1897.8 947.6L1894.6 951.3L1891.5 947.6Z" fill="#651A70" fill-opacity="1"/>
<path d="M1903.8 939.8L1906.9 943.5L1903.8 947.3L1900.6 943.5Z" fill="#651A70" fill-opacity="1"/>
<path d="M1913.0 941.1L1916.1 944.9L1913.0 948.6L1909.8 944.9Z" fill="#651A70" fill-opacity="1"/>
<path d="M1922.1 946.1L1925.3 949.8L1922.1 953.6L1919.0 949.8Z" fill="#651A70" fill-opacity="1"/>
<path d="M1931.3 947.5L1934.5 951.2L1931.3 955.0L1928.2 951.2Z" fill="#651A70" fill-opacity="1"/>
<path d="M1940.5 944.7L1943.7 948.5L1940.5 952.2L1937.3 948.5Z" fill="#651A70" fill-opacity="1"/>
<path d="M1949.7 955.1L1952.8 958.9L1949.7 962.6L1946.5 958.9Z" fill="#651A70" fill-opacity="1"/>
<path d="M1958.9 955.1L1962.0 958.9L1958.9 962.6L1955.7 958.9Z" fill="#651A70" fill-opacity="1"/>
<path d="M1968.0 952.4L1971.2 956.2L1968.0 959.9L1964.9 956.2Z" fill="#651A70" fill-opacity="1"/>
<path d="M1977.2 951.5L1980.4 955.3L1977.2 959.0L1974.1 955.3Z" fill="#651A70" fill-opacity="1"/>
<line x1="1527.8" y1="738.1" x2="1527.8" y2="968.6" stroke="#a8a8a8" stroke-width="1.1" stroke-opacity="0.57"/>
<line x1="1619.6" y1="738.1" x2="1619.6" y2="968.6" stroke="#a8a8a8" stroke-width="1.1" stroke-opacity="0.57"/>
<line x1="1711.4" y1="738.1" x2="1711.4" y2="968.6" stroke="#a8a8a8" stroke-width="1.1" stroke-opacity="0.57"/>
<line x1="1803.2" y1="738.1" x2="1803.2" y2="968.6" stroke="#a8a8a8" stroke-width="1.1" stroke-opacity="0.57"/>
<line x1="1895.0" y1="738.1" x2="1895.0" y2="968.6" stroke="#a8a8a8" stroke-width="1.1" stroke-opacity="0.57"/>
<line x1="1986.8" y1="738.1" x2="1986.8" y2="968.6" stroke="#a8a8a8" stroke-width="1.1" stroke-opacity="0.57"/>
<line x1="1506.2" y1="747.5" x2="1999.3" y2="747.5" stroke="#a8a8a8" stroke-width="1.1" stroke-opacity="0.57"/>
<line x1="1506.2" y1="790.4" x2="1999.3" y2="790.4" stroke="#a8a8a8" stroke-width="1.1" stroke-opacity="0.57"/>
<line x1="1506.2" y1="832.5" x2="1999.3" y2="832.5" stroke="#a8a8a8" stroke-width="1.1" stroke-opacity="0.57"/>
<line x1="1506.2" y1="876.5" x2="1999.3" y2="876.5" stroke="#a8a8a8" stroke-width="1.1" stroke-opacity="0.57"/>
<line x1="1506.2" y1="918.8" x2="1999.3" y2="918.8" stroke="#a8a8a8" stroke-width="1.1" stroke-opacity="0.57"/>
<line x1="1506.2" y1="962.4" x2="1999.3" y2="962.4" stroke="#a8a8a8" stroke-width="1.1" stroke-opacity="0.57"/>
<text x="1802.0" y="867.5" font-size="15" text-anchor="start" fill="#E8513C" stroke="#E8513C" stroke-width="0.3" textLength="58.7" lengthAdjust="spacingAndGlyphs">Clipping</text>
<rect x="1506.2" y="738.1" width="493.0999999999999" height="230.5" fill="none" stroke="#2b2220" stroke-width="1.6"/>
<line x1="1527.4" y1="968.6" x2="1527.4" y2="973.6" stroke="#231815" stroke-width="1.1"/>
<text x="1527.4" y="989.8" font-size="15" text-anchor="middle" fill="#231815" stroke="#231815" stroke-width="0.5">0</text>
<line x1="1619.2" y1="968.6" x2="1619.2" y2="973.6" stroke="#231815" stroke-width="1.1"/>
<text x="1619.2" y="989.8" font-size="15" text-anchor="middle" fill="#231815" stroke="#231815" stroke-width="0.5" textLength="19.5" lengthAdjust="spacingAndGlyphs">10</text>
<line x1="1711.0" y1="968.6" x2="1711.0" y2="973.6" stroke="#231815" stroke-width="1.1"/>
<text x="1711.0" y="989.8" font-size="15" text-anchor="middle" fill="#231815" stroke="#231815" stroke-width="0.5" textLength="19.5" lengthAdjust="spacingAndGlyphs">20</text>
<line x1="1802.8" y1="968.6" x2="1802.8" y2="973.6" stroke="#231815" stroke-width="1.1"/>
<text x="1802.8" y="989.8" font-size="15" text-anchor="middle" fill="#231815" stroke="#231815" stroke-width="0.5" textLength="19.5" lengthAdjust="spacingAndGlyphs">30</text>
<line x1="1894.6" y1="968.6" x2="1894.6" y2="973.6" stroke="#231815" stroke-width="1.1"/>
<text x="1894.6" y="989.8" font-size="15" text-anchor="middle" fill="#231815" stroke="#231815" stroke-width="0.5" textLength="19.5" lengthAdjust="spacingAndGlyphs">40</text>
<line x1="1986.4" y1="968.6" x2="1986.4" y2="973.6" stroke="#231815" stroke-width="1.1"/>
<text x="1986.4" y="989.8" font-size="15" text-anchor="middle" fill="#231815" stroke="#231815" stroke-width="0.5" textLength="19.5" lengthAdjust="spacingAndGlyphs">50</text>
<line x1="1501.2" y1="927.7" x2="1506.2" y2="927.7" stroke="#231815" stroke-width="1.1"/>
<text x="1497.4" y="933.1" font-size="15" text-anchor="end" fill="#231815" stroke="#231815" stroke-width="0.5">1</text>
<line x1="1501.2" y1="882.5" x2="1506.2" y2="882.5" stroke="#231815" stroke-width="1.1"/>
<text x="1497.4" y="887.9" font-size="15" text-anchor="end" fill="#231815" stroke="#231815" stroke-width="0.5">2</text>
<line x1="1501.2" y1="837.3" x2="1506.2" y2="837.3" stroke="#231815" stroke-width="1.1"/>
<text x="1497.4" y="842.7" font-size="15" text-anchor="end" fill="#231815" stroke="#231815" stroke-width="0.5">3</text>
<line x1="1501.2" y1="792.1" x2="1506.2" y2="792.1" stroke="#231815" stroke-width="1.1"/>
<text x="1497.4" y="797.5" font-size="15" text-anchor="end" fill="#231815" stroke="#231815" stroke-width="0.5">4</text>
<line x1="1501.2" y1="746.9" x2="1506.2" y2="746.9" stroke="#231815" stroke-width="1.1"/>
<text x="1497.4" y="752.3" font-size="15" text-anchor="end" fill="#231815" stroke="#231815" stroke-width="0.5">5</text>
<text x="1752.1" y="715.0" font-size="16.67" text-anchor="middle" fill="#231815" stroke="#231815" stroke-width="0.5" textLength="153.0" lengthAdjust="spacingAndGlyphs">Gradient Stability</text>
<text x="1752.1" y="1012.9" font-size="18" text-anchor="middle" fill="#231815" stroke="#231815" stroke-width="0.5" textLength="62.0" lengthAdjust="spacingAndGlyphs">Epochs</text>
<text x="1477.6" y="852.5" font-size="18" text-anchor="middle" fill="#231815" stroke="#231815" stroke-width="0.5" textLength="92.0" lengthAdjust="spacingAndGlyphs" transform="rotate(-90 1477.6 852.5)">Grad Norm</text>
<g clip-path="url(#clipe)"><g shape-rendering="crispEdges" filter="url(#blure)">
<rect x="117.31" y="737.2" width="2.95" height="232.5999999999999" fill="url(#e205)"/>
<rect x="120.25" y="737.2" width="2.95" height="232.5999999999999" fill="url(#e206)"/>
<rect x="123.20" y="737.2" width="2.95" height="232.5999999999999" fill="url(#e207)"/>
<rect x="126.15" y="737.2" width="2.95" height="232.5999999999999" fill="url(#e208)"/>
<rect x="129.09" y="737.2" width="2.95" height="232.5999999999999" fill="url(#e209)"/>
<rect x="132.04" y="737.2" width="2.95" height="232.5999999999999" fill="url(#e210)"/>
<rect x="134.99" y="737.2" width="2.95" height="232.5999999999999" fill="url(#e211)"/>
<rect x="137.93" y="737.2" width="2.95" height="232.5999999999999" fill="url(#e212)"/>
<rect x="140.88" y="737.2" width="2.95" height="232.5999999999999" fill="url(#e213)"/>
<rect x="143.83" y="737.2" width="2.95" height="232.5999999999999" fill="url(#e214)"/>
<rect x="146.77" y="737.2" width="2.95" height="232.5999999999999" fill="url(#e215)"/>
<rect x="149.72" y="737.2" width="2.95" height="232.5999999999999" fill="url(#e216)"/>
<rect x="152.67" y="737.2" width="2.95" height="232.5999999999999" fill="url(#e217)"/>
<rect x="155.61" y="737.2" width="2.95" height="232.5999999999999" fill="url(#e218)"/>
<rect x="158.56" y="737.2" width="2.95" height="232.5999999999999" fill="url(#e219)"/>
<rect x="161.51" y="737.2" width="2.95" height="232.5999999999999" fill="url(#e220)"/>
<rect x="164.45" y="737.2" width="2.95" height="232.5999999999999" fill="url(#e221)"/>
<rect x="167.40" y="737.2" width="2.95" height="232.5999999999999" fill="url(#e222)"/>
<rect x="170.35" y="737.2" width="2.95" height="232.5999999999999" fill="url(#e223)"/>
<rect x="173.29" y="737.2" width="2.95" height="232.5999999999999" fill="url(#e224)"/>
<rect x="176.24" y="737.2" width="2.95" height="232.5999999999999" fill="url(#e225)"/>
<rect x="179.19" y="737.2" width="2.95" height="232.5999999999999" fill="url(#e226)"/>
<rect x="182.13" y="737.2" width="2.95" height="232.5999999999999" fill="url(#e227)"/>
<rect x="185.08" y="737.2" width="2.95" height="232.5999999999999" fill="url(#e228)"/>
<rect x="188.03" y="737.2" width="2.95" height="232.5999999999999" fill="url(#e229)"/>
<rect x="190.97" y="737.2" width="2.95" height="232.5999999999999" fill="url(#e230)"/>
<rect x="193.92" y="737.2" width="2.95" height="232.5999999999999" fill="url(#e231)"/>
<rect x="196.87" y="737.2" width="2.95" height="232.5999999999999" fill="url(#e232)"/>
<rect x="199.81" y="737.2" width="2.95" height="232.5999999999999" fill="url(#e233)"/>
<rect x="202.76" y="737.2" width="2.95" height="232.5999999999999" fill="url(#e234)"/>
<rect x="205.71" y="737.2" width="2.95" height="232.5999999999999" fill="url(#e235)"/>
<rect x="208.65" y="737.2" width="2.95" height="232.5999999999999" fill="url(#e236)"/>
<rect x="211.60" y="737.2" width="2.95" height="232.5999999999999" fill="url(#e237)"/>
<rect x="214.55" y="737.2" width="2.95" height="232.5999999999999" fill="url(#e238)"/>
<rect x="217.49" y="737.2" width="2.95" height="232.5999999999999" fill="url(#e239)"/>
<rect x="220.44" y="737.2" width="2.95" height="232.5999999999999" fill="url(#e240)"/>
<rect x="223.39" y="737.2" width="2.95" height="232.5999999999999" fill="url(#e241)"/>
<rect x="226.33" y="737.2" width="2.95" height="232.5999999999999" fill="url(#e242)"/>
<rect x="229.28" y="737.2" width="2.95" height="232.5999999999999" fill="url(#e243)"/>
<rect x="232.23" y="737.2" width="2.95" height="232.5999999999999" fill="url(#e244)"/>
<rect x="235.17" y="737.2" width="2.95" height="232.5999999999999" fill="url(#e245)"/>
<rect x="238.12" y="737.2" width="2.95" height="232.5999999999999" fill="url(#e246)"/>
<rect x="241.07" y="737.2" width="2.95" height="232.5999999999999" fill="url(#e247)"/>
<rect x="244.01" y="737.2" width="2.95" height="232.5999999999999" fill="url(#e248)"/>
<rect x="246.96" y="737.2" width="2.95" height="232.5999999999999" fill="url(#e249)"/>
<rect x="249.91" y="737.2" width="2.95" height="232.5999999999999" fill="url(#e250)"/>
<rect x="252.85" y="737.2" width="2.95" height="232.5999999999999" fill="url(#e251)"/>
<rect x="255.80" y="737.2" width="2.95" height="232.5999999999999" fill="url(#e252)"/>
<rect x="258.75" y="737.2" width="2.95" height="232.5999999999999" fill="url(#e253)"/>
<rect x="261.69" y="737.2" width="2.95" height="232.5999999999999" fill="url(#e254)"/>
<rect x="264.64" y="737.2" width="2.95" height="232.5999999999999" fill="url(#e255)"/>
<rect x="267.59" y="737.2" width="2.95" height="232.5999999999999" fill="url(#e256)"/>
<rect x="270.53" y="737.2" width="2.95" height="232.5999999999999" fill="url(#e257)"/>
<rect x="273.48" y="737.2" width="2.95" height="232.5999999999999" fill="url(#e258)"/>
<rect x="276.43" y="737.2" width="2.95" height="232.5999999999999" fill="url(#e259)"/>
<rect x="279.37" y="737.2" width="2.95" height="232.5999999999999" fill="url(#e260)"/>
<rect x="282.32" y="737.2" width="2.95" height="232.5999999999999" fill="url(#e261)"/>
<rect x="285.27" y="737.2" width="2.95" height="232.5999999999999" fill="url(#e262)"/>
<rect x="288.21" y="737.2" width="2.95" height="232.5999999999999" fill="url(#e263)"/>
<rect x="291.16" y="737.2" width="2.95" height="232.5999999999999" fill="url(#e264)"/>
<rect x="294.11" y="737.2" width="2.95" height="232.5999999999999" fill="url(#e265)"/>
<rect x="297.05" y="737.2" width="2.95" height="232.5999999999999" fill="url(#e266)"/>
<rect x="300.00" y="737.2" width="2.95" height="232.5999999999999" fill="url(#e267)"/>
<rect x="302.95" y="737.2" width="2.95" height="232.5999999999999" fill="url(#e268)"/>
<rect x="305.89" y="737.2" width="2.95" height="232.5999999999999" fill="url(#e269)"/>
<rect x="308.84" y="737.2" width="2.95" height="232.5999999999999" fill="url(#e270)"/>
<rect x="311.79" y="737.2" width="2.95" height="232.5999999999999" fill="url(#e271)"/>
<rect x="314.73" y="737.2" width="2.95" height="232.5999999999999" fill="url(#e272)"/>
<rect x="317.68" y="737.2" width="2.95" height="232.5999999999999" fill="url(#e273)"/>
<rect x="320.63" y="737.2" width="2.95" height="232.5999999999999" fill="url(#e274)"/>
<rect x="323.57" y="737.2" width="2.95" height="232.5999999999999" fill="url(#e275)"/>
<rect x="326.52" y="737.2" width="2.95" height="232.5999999999999" fill="url(#e276)"/>
<rect x="329.47" y="737.2" width="2.95" height="232.5999999999999" fill="url(#e277)"/>
<rect x="332.41" y="737.2" width="2.95" height="232.5999999999999" fill="url(#e278)"/>
<rect x="335.36" y="737.2" width="2.95" height="232.5999999999999" fill="url(#e279)"/>
<rect x="338.31" y="737.2" width="2.95" height="232.5999999999999" fill="url(#e280)"/>
<rect x="341.25" y="737.2" width="2.95" height="232.5999999999999" fill="url(#e281)"/>
<rect x="344.20" y="737.2" width="2.95" height="232.5999999999999" fill="url(#e282)"/>
<rect x="347.15" y="737.2" width="2.95" height="232.5999999999999" fill="url(#e283)"/>
<rect x="350.09" y="737.2" width="2.95" height="232.5999999999999" fill="url(#e284)"/>
<rect x="353.04" y="737.2" width="2.95" height="232.5999999999999" fill="url(#e285)"/>
<rect x="355.99" y="737.2" width="2.95" height="232.5999999999999" fill="url(#e286)"/>
<rect x="358.93" y="737.2" width="2.95" height="232.5999999999999" fill="url(#e287)"/>
<rect x="361.88" y="737.2" width="2.95" height="232.5999999999999" fill="url(#e288)"/>
<rect x="364.83" y="737.2" width="2.95" height="232.5999999999999" fill="url(#e289)"/>
<rect x="367.77" y="737.2" width="2.95" height="232.5999999999999" fill="url(#e290)"/>
<rect x="370.72" y="737.2" width="2.95" height="232.5999999999999" fill="url(#e291)"/>
<rect x="373.67" y="737.2" width="2.95" height="232.5999999999999" fill="url(#e292)"/>
<rect x="376.61" y="737.2" width="2.95" height="232.5999999999999" fill="url(#e293)"/>
<rect x="379.56" y="737.2" width="2.95" height="232.5999999999999" fill="url(#e294)"/>
<rect x="382.51" y="737.2" width="2.95" height="232.5999999999999" fill="url(#e295)"/>
<rect x="385.45" y="737.2" width="2.95" height="232.5999999999999" fill="url(#e296)"/>
<rect x="388.40" y="737.2" width="2.95" height="232.5999999999999" fill="url(#e297)"/>
<rect x="391.35" y="737.2" width="2.95" height="232.5999999999999" fill="url(#e298)"/>
<rect x="394.29" y="737.2" width="2.95" height="232.5999999999999" fill="url(#e299)"/>
<rect x="397.24" y="737.2" width="2.95" height="232.5999999999999" fill="url(#e300)"/>
<rect x="400.19" y="737.2" width="2.95" height="232.5999999999999" fill="url(#e301)"/>
<rect x="403.13" y="737.2" width="2.95" height="232.5999999999999" fill="url(#e302)"/>
<rect x="406.08" y="737.2" width="2.95" height="232.5999999999999" fill="url(#e303)"/>
<rect x="409.03" y="737.2" width="2.95" height="232.5999999999999" fill="url(#e304)"/>
<rect x="411.97" y="737.2" width="2.95" height="232.5999999999999" fill="url(#e305)"/>
<rect x="414.92" y="737.2" width="2.95" height="232.5999999999999" fill="url(#e306)"/>
<rect x="417.87" y="737.2" width="2.95" height="232.5999999999999" fill="url(#e307)"/>
<rect x="420.81" y="737.2" width="2.95" height="232.5999999999999" fill="url(#e308)"/>
<rect x="423.76" y="737.2" width="2.95" height="232.5999999999999" fill="url(#e309)"/>
<rect x="426.71" y="737.2" width="2.95" height="232.5999999999999" fill="url(#e310)"/>
<rect x="429.65" y="737.2" width="2.95" height="232.5999999999999" fill="url(#e311)"/>
<rect x="432.60" y="737.2" width="2.95" height="232.5999999999999" fill="url(#e312)"/>
<rect x="435.55" y="737.2" width="2.95" height="232.5999999999999" fill="url(#e313)"/>
<rect x="438.49" y="737.2" width="2.95" height="232.5999999999999" fill="url(#e314)"/>
<rect x="441.44" y="737.2" width="2.95" height="232.5999999999999" fill="url(#e315)"/>
<rect x="444.39" y="737.2" width="2.95" height="232.5999999999999" fill="url(#e316)"/>
<rect x="447.33" y="737.2" width="2.95" height="232.5999999999999" fill="url(#e317)"/>
<rect x="450.28" y="737.2" width="2.95" height="232.5999999999999" fill="url(#e318)"/>
<rect x="453.23" y="737.2" width="2.95" height="232.5999999999999" fill="url(#e319)"/>
<rect x="456.17" y="737.2" width="2.95" height="232.5999999999999" fill="url(#e320)"/>
<rect x="459.12" y="737.2" width="2.95" height="232.5999999999999" fill="url(#e321)"/>
<rect x="462.07" y="737.2" width="2.95" height="232.5999999999999" fill="url(#e322)"/>
<rect x="465.01" y="737.2" width="2.95" height="232.5999999999999" fill="url(#e323)"/>
<rect x="467.96" y="737.2" width="2.95" height="232.5999999999999" fill="url(#e324)"/>
<rect x="470.91" y="737.2" width="2.95" height="232.5999999999999" fill="url(#e325)"/>
<rect x="473.85" y="737.2" width="2.95" height="232.5999999999999" fill="url(#e326)"/>
<rect x="476.80" y="737.2" width="2.95" height="232.5999999999999" fill="url(#e327)"/>
<rect x="479.75" y="737.2" width="2.95" height="232.5999999999999" fill="url(#e328)"/>
<rect x="482.69" y="737.2" width="2.95" height="232.5999999999999" fill="url(#e329)"/>
<rect x="485.64" y="737.2" width="2.95" height="232.5999999999999" fill="url(#e330)"/>
<rect x="488.59" y="737.2" width="2.95" height="232.5999999999999" fill="url(#e331)"/>
<rect x="491.53" y="737.2" width="2.95" height="232.5999999999999" fill="url(#e332)"/>
<rect x="494.48" y="737.2" width="2.95" height="232.5999999999999" fill="url(#e333)"/>
<rect x="497.43" y="737.2" width="2.95" height="232.5999999999999" fill="url(#e334)"/>
<rect x="500.37" y="737.2" width="2.95" height="232.5999999999999" fill="url(#e335)"/>
<rect x="503.32" y="737.2" width="2.95" height="232.5999999999999" fill="url(#e336)"/>
<rect x="506.27" y="737.2" width="2.95" height="232.5999999999999" fill="url(#e337)"/>
<rect x="509.21" y="737.2" width="2.95" height="232.5999999999999" fill="url(#e338)"/>
<rect x="512.16" y="737.2" width="2.95" height="232.5999999999999" fill="url(#e339)"/>
<rect x="515.11" y="737.2" width="2.95" height="232.5999999999999" fill="url(#e340)"/>
<rect x="518.05" y="737.2" width="2.95" height="232.5999999999999" fill="url(#e341)"/>
<rect x="521.00" y="737.2" width="2.95" height="232.5999999999999" fill="url(#e342)"/>
<rect x="523.95" y="737.2" width="2.95" height="232.5999999999999" fill="url(#e343)"/>
<rect x="526.89" y="737.2" width="2.95" height="232.5999999999999" fill="url(#e344)"/>
<rect x="529.84" y="737.2" width="2.95" height="232.5999999999999" fill="url(#e345)"/>
<rect x="532.79" y="737.2" width="2.95" height="232.5999999999999" fill="url(#e346)"/>
<rect x="535.73" y="737.2" width="2.95" height="232.5999999999999" fill="url(#e347)"/>
<rect x="538.68" y="737.2" width="2.95" height="232.5999999999999" fill="url(#e348)"/>
<rect x="541.63" y="737.2" width="2.95" height="232.5999999999999" fill="url(#e349)"/>
<rect x="544.57" y="737.2" width="2.95" height="232.5999999999999" fill="url(#e350)"/>
<rect x="547.52" y="737.2" width="2.95" height="232.5999999999999" fill="url(#e351)"/>
<rect x="550.47" y="737.2" width="2.95" height="232.5999999999999" fill="url(#e352)"/>
<rect x="553.41" y="737.2" width="2.95" height="232.5999999999999" fill="url(#e353)"/>
<rect x="556.36" y="737.2" width="2.95" height="232.5999999999999" fill="url(#e354)"/>
<rect x="559.31" y="737.2" width="2.95" height="232.5999999999999" fill="url(#e355)"/>
<rect x="562.25" y="737.2" width="2.95" height="232.5999999999999" fill="url(#e356)"/>
<rect x="565.20" y="737.2" width="2.95" height="232.5999999999999" fill="url(#e357)"/>
<rect x="568.15" y="737.2" width="2.95" height="232.5999999999999" fill="url(#e358)"/>
<rect x="571.09" y="737.2" width="2.95" height="232.5999999999999" fill="url(#e359)"/>
</g></g>
<rect x="123.2" y="737.2" width="442.09999999999997" height="232.5999999999999" fill="none" stroke="#231815" stroke-width="1.3"/>
<line x1="118.2" y1="752.0" x2="123.2" y2="752.0" stroke="#231815" stroke-width="1.1"/>
<text x="113.3" y="757.3" font-size="15" text-anchor="end" fill="#231815" stroke="#231815" stroke-width="0.5" textLength="19.5" lengthAdjust="spacingAndGlyphs">E1</text>
<line x1="118.2" y1="781.1" x2="123.2" y2="781.1" stroke="#231815" stroke-width="1.1"/>
<text x="113.3" y="786.4" font-size="15" text-anchor="end" fill="#231815" stroke="#231815" stroke-width="0.5" textLength="19.5" lengthAdjust="spacingAndGlyphs">E2</text>
<line x1="118.2" y1="810.1" x2="123.2" y2="810.1" stroke="#231815" stroke-width="1.1"/>
<text x="113.3" y="815.4" font-size="15" text-anchor="end" fill="#231815" stroke="#231815" stroke-width="0.5" textLength="19.5" lengthAdjust="spacingAndGlyphs">E3</text>
<line x1="118.2" y1="839.2" x2="123.2" y2="839.2" stroke="#231815" stroke-width="1.1"/>
<text x="113.3" y="844.5" font-size="15" text-anchor="end" fill="#231815" stroke="#231815" stroke-width="0.5" textLength="19.5" lengthAdjust="spacingAndGlyphs">E4</text>
<line x1="118.2" y1="868.3" x2="123.2" y2="868.3" stroke="#231815" stroke-width="1.1"/>
<text x="113.3" y="873.6" font-size="15" text-anchor="end" fill="#231815" stroke="#231815" stroke-width="0.5" textLength="19.5" lengthAdjust="spacingAndGlyphs">E5</text>
<line x1="118.2" y1="897.4" x2="123.2" y2="897.4" stroke="#231815" stroke-width="1.1"/>
<text x="113.3" y="902.6" font-size="15" text-anchor="end" fill="#231815" stroke="#231815" stroke-width="0.5" textLength="19.5" lengthAdjust="spacingAndGlyphs">E6</text>
<line x1="118.2" y1="926.4" x2="123.2" y2="926.4" stroke="#231815" stroke-width="1.1"/>
<text x="113.3" y="931.7" font-size="15" text-anchor="end" fill="#231815" stroke="#231815" stroke-width="0.5" textLength="19.5" lengthAdjust="spacingAndGlyphs">E7</text>
<line x1="118.2" y1="955.5" x2="123.2" y2="955.5" stroke="#231815" stroke-width="1.1"/>
<text x="113.3" y="960.8" font-size="15" text-anchor="end" fill="#231815" stroke="#231815" stroke-width="0.5" textLength="19.5" lengthAdjust="spacingAndGlyphs">E8</text>
<line x1="127.6" y1="969.8" x2="127.6" y2="974.8" stroke="#231815" stroke-width="1.1"/>
<text x="127.6" y="991.1" font-size="15" text-anchor="middle" fill="#231815" stroke="#231815" stroke-width="0.5">E0</text>
<line x1="260.2" y1="969.8" x2="260.2" y2="974.8" stroke="#231815" stroke-width="1.1"/>
<text x="260.2" y="991.1" font-size="15" text-anchor="middle" fill="#231815" stroke="#231815" stroke-width="0.5" textLength="27.6" lengthAdjust="spacingAndGlyphs">E15</text>
<line x1="392.8" y1="969.8" x2="392.8" y2="974.8" stroke="#231815" stroke-width="1.1"/>
<text x="392.8" y="991.1" font-size="15" text-anchor="middle" fill="#231815" stroke="#231815" stroke-width="0.5" textLength="27.6" lengthAdjust="spacingAndGlyphs">E30</text>
<line x1="525.4" y1="969.8" x2="525.4" y2="974.8" stroke="#231815" stroke-width="1.1"/>
<text x="525.4" y="991.1" font-size="15" text-anchor="middle" fill="#231815" stroke="#231815" stroke-width="0.5" textLength="27.6" lengthAdjust="spacingAndGlyphs">E45</text>
<text x="343.2" y="715.5" font-size="16.67" text-anchor="middle" fill="#231815" stroke="#231815" stroke-width="0.5" textLength="151.0" lengthAdjust="spacingAndGlyphs">Expert Utilization</text>
<text x="343.9" y="1011.4" font-size="18" text-anchor="middle" fill="#231815" stroke="#231815" stroke-width="0.5" textLength="62.0" lengthAdjust="spacingAndGlyphs">Epochs</text>
<text x="82.8" y="853.0" font-size="18" text-anchor="middle" fill="#231815" stroke="#231815" stroke-width="0.5" textLength="63.3" lengthAdjust="spacingAndGlyphs" transform="rotate(-90 82.8 853.0)">Experts</text>
<rect x="581.0" y="737.2" width="35.700000000000045" height="232.79999999999995" fill="url(#cbe)"/>
<rect x="581.0" y="737.2" width="35.700000000000045" height="232.79999999999995" fill="none" stroke="#231815" stroke-width="1.3"/>
<line x1="616.7" y1="898.4" x2="621.3" y2="898.4" stroke="#231815" stroke-width="1.1"/>
<text x="624.0" y="903.8" font-size="15" text-anchor="start" fill="#231815" stroke="#231815" stroke-width="0.5" textLength="24.5" lengthAdjust="spacingAndGlyphs">0.6</text>
<line x1="616.7" y1="825.2" x2="621.3" y2="825.2" stroke="#231815" stroke-width="1.1"/>
<text x="624.0" y="830.6" font-size="15" text-anchor="start" fill="#231815" stroke="#231815" stroke-width="0.5" textLength="24.5" lengthAdjust="spacingAndGlyphs">0.8</text>
<line x1="616.7" y1="752.0" x2="621.3" y2="752.0" stroke="#231815" stroke-width="1.1"/>
<text x="624.0" y="757.4" font-size="15" text-anchor="start" fill="#231815" stroke="#231815" stroke-width="0.5" textLength="24.5" lengthAdjust="spacingAndGlyphs">1.0</text>
<text x="665.8" y="855.2" font-size="18" text-anchor="middle" fill="#231815" stroke="#231815" stroke-width="0.5" textLength="36.6" lengthAdjust="spacingAndGlyphs" transform="rotate(90 665.8 855.2)">Rate</text>
<rect x="814.9" y="737.3" width="493.30000000000007" height="232.4000000000001" fill="#fff"/>
<polyline points="837.0,747.0 1014.5,747.0 1014.5,958.9 1148.8,958.9" fill="none" stroke="#1a1212" stroke-width="2.7" stroke-linejoin="round" stroke-opacity="1"/>
<line x1="837.0" y1="747.0" x2="1011.2" y2="747.0" stroke="#2C3E50" stroke-width="3"/>
<line x1="1020.4" y1="958.9" x2="1148.8" y2="958.9" stroke="#2C3E50" stroke-width="3"/>
<path d="M837.0 741.3L841.8 747.0L837.0 752.7L832.2 747.0Z" fill="#2C3E50" fill-opacity="1"/>
<path d="M846.2 741.3L851.0 747.0L846.2 752.7L841.4 747.0Z" fill="#2C3E50" fill-opacity="1"/>
<path d="M855.3 741.3L860.1 747.0L855.3 752.7L850.6 747.0Z" fill="#2C3E50" fill-opacity="1"/>
<path d="M864.5 741.3L869.3 747.0L864.5 752.7L859.7 747.0Z" fill="#2C3E50" fill-opacity="1"/>
<path d="M873.7 741.3L878.5 747.0L873.7 752.7L868.9 747.0Z" fill="#2C3E50" fill-opacity="1"/>
<path d="M882.9 741.3L887.6 747.0L882.9 752.7L878.1 747.0Z" fill="#2C3E50" fill-opacity="1"/>
<path d="M892.0 741.3L896.8 747.0L892.0 752.7L887.2 747.0Z" fill="#2C3E50" fill-opacity="1"/>
<path d="M901.2 741.3L906.0 747.0L901.2 752.7L896.4 747.0Z" fill="#2C3E50" fill-opacity="1"/>
<path d="M910.4 741.3L915.1 747.0L910.4 752.7L905.6 747.0Z" fill="#2C3E50" fill-opacity="1"/>
<path d="M919.5 741.3L924.3 747.0L919.5 752.7L914.7 747.0Z" fill="#2C3E50" fill-opacity="1"/>
<path d="M928.7 741.3L933.5 747.0L928.7 752.7L923.9 747.0Z" fill="#2C3E50" fill-opacity="1"/>
<path d="M937.9 741.3L942.7 747.0L937.9 752.7L933.1 747.0Z" fill="#2C3E50" fill-opacity="1"/>
<path d="M947.0 741.3L951.8 747.0L947.0 752.7L942.3 747.0Z" fill="#2C3E50" fill-opacity="1"/>
<path d="M956.2 741.3L961.0 747.0L956.2 752.7L951.4 747.0Z" fill="#2C3E50" fill-opacity="1"/>
<path d="M965.4 741.3L970.2 747.0L965.4 752.7L960.6 747.0Z" fill="#2C3E50" fill-opacity="1"/>
<path d="M974.5 741.3L979.3 747.0L974.5 752.7L969.8 747.0Z" fill="#2C3E50" fill-opacity="1"/>
<path d="M983.7 741.3L988.5 747.0L983.7 752.7L978.9 747.0Z" fill="#2C3E50" fill-opacity="1"/>
<path d="M992.9 741.3L997.7 747.0L992.9 752.7L988.1 747.0Z" fill="#2C3E50" fill-opacity="1"/>
<path d="M1002.1 741.3L1006.8 747.0L1002.1 752.7L997.3 747.0Z" fill="#2C3E50" fill-opacity="1"/>
<path d="M1011.2 741.3L1016.0 747.0L1011.2 752.7L1006.4 747.0Z" fill="#2C3E50" fill-opacity="1"/>
<path d="M1020.4 953.2L1025.2 958.9L1020.4 964.6L1015.6 958.9Z" fill="#2C3E50" fill-opacity="1"/>
<path d="M1029.6 953.2L1034.4 958.9L1029.6 964.6L1024.8 958.9Z" fill="#2C3E50" fill-opacity="1"/>
<path d="M1038.7 953.2L1043.5 958.9L1038.7 964.6L1034.0 958.9Z" fill="#2C3E50" fill-opacity="1"/>
<path d="M1047.9 953.2L1052.7 958.9L1047.9 964.6L1043.1 958.9Z" fill="#2C3E50" fill-opacity="1"/>
<path d="M1057.1 953.2L1061.9 958.9L1057.1 964.6L1052.3 958.9Z" fill="#2C3E50" fill-opacity="1"/>
<path d="M1066.2 953.2L1071.0 958.9L1066.2 964.6L1061.5 958.9Z" fill="#2C3E50" fill-opacity="1"/>
<path d="M1075.4 953.2L1080.2 958.9L1075.4 964.6L1070.6 958.9Z" fill="#2C3E50" fill-opacity="1"/>
<path d="M1084.6 953.2L1089.4 958.9L1084.6 964.6L1079.8 958.9Z" fill="#2C3E50" fill-opacity="1"/>
<path d="M1093.8 953.2L1098.5 958.9L1093.8 964.6L1089.0 958.9Z" fill="#2C3E50" fill-opacity="1"/>
<path d="M1102.9 953.2L1107.7 958.9L1102.9 964.6L1098.1 958.9Z" fill="#2C3E50" fill-opacity="1"/>
<path d="M1112.1 953.2L1116.9 958.9L1112.1 964.6L1107.3 958.9Z" fill="#2C3E50" fill-opacity="1"/>
<path d="M1121.3 953.2L1126.1 958.9L1121.3 964.6L1116.5 958.9Z" fill="#2C3E50" fill-opacity="1"/>
<path d="M1130.4 953.2L1135.2 958.9L1130.4 964.6L1125.7 958.9Z" fill="#2C3E50" fill-opacity="1"/>
<path d="M1139.6 953.2L1144.4 958.9L1139.6 964.6L1134.8 958.9Z" fill="#2C3E50" fill-opacity="1"/>
<path d="M1148.8 953.2L1153.6 958.9L1148.8 964.6L1144.0 958.9Z" fill="#2C3E50" fill-opacity="1"/>
<line x1="836.5" y1="737.3" x2="836.5" y2="969.7" stroke="#a8a8a8" stroke-width="1.1" stroke-opacity="0.57"/>
<line x1="928.2" y1="737.3" x2="928.2" y2="969.7" stroke="#a8a8a8" stroke-width="1.1" stroke-opacity="0.57"/>
<line x1="1019.9" y1="737.3" x2="1019.9" y2="969.7" stroke="#a8a8a8" stroke-width="1.1" stroke-opacity="0.57"/>
<line x1="1111.6" y1="737.3" x2="1111.6" y2="969.7" stroke="#a8a8a8" stroke-width="1.1" stroke-opacity="0.57"/>
<line x1="1203.3" y1="737.3" x2="1203.3" y2="969.7" stroke="#a8a8a8" stroke-width="1.1" stroke-opacity="0.57"/>
<line x1="1295.0" y1="737.3" x2="1295.0" y2="969.7" stroke="#a8a8a8" stroke-width="1.1" stroke-opacity="0.57"/>
<line x1="814.9" y1="747.0" x2="1308.2" y2="747.0" stroke="#a8a8a8" stroke-width="1.1" stroke-opacity="0.57"/>
<rect x="814.9" y="737.3" width="493.30000000000007" height="232.4000000000001" fill="none" stroke="#2b2220" stroke-width="1.6"/>
<line x1="837.0" y1="969.7" x2="837.0" y2="974.7" stroke="#231815" stroke-width="1.1"/>
<text x="837.0" y="990.9" font-size="15" text-anchor="middle" fill="#231815" stroke="#231815" stroke-width="0.5">0</text>
<line x1="928.7" y1="969.7" x2="928.7" y2="974.7" stroke="#231815" stroke-width="1.1"/>
<text x="928.7" y="990.9" font-size="15" text-anchor="middle" fill="#231815" stroke="#231815" stroke-width="0.5" textLength="19.5" lengthAdjust="spacingAndGlyphs">10</text>
<line x1="1020.4" y1="969.7" x2="1020.4" y2="974.7" stroke="#231815" stroke-width="1.1"/>
<text x="1020.4" y="990.9" font-size="15" text-anchor="middle" fill="#231815" stroke="#231815" stroke-width="0.5" textLength="19.5" lengthAdjust="spacingAndGlyphs">20</text>
<line x1="1112.1" y1="969.7" x2="1112.1" y2="974.7" stroke="#231815" stroke-width="1.1"/>
<text x="1112.1" y="990.9" font-size="15" text-anchor="middle" fill="#231815" stroke="#231815" stroke-width="0.5" textLength="19.5" lengthAdjust="spacingAndGlyphs">30</text>
<line x1="1203.8" y1="969.7" x2="1203.8" y2="974.7" stroke="#231815" stroke-width="1.1"/>
<text x="1203.8" y="990.9" font-size="15" text-anchor="middle" fill="#231815" stroke="#231815" stroke-width="0.5" textLength="19.5" lengthAdjust="spacingAndGlyphs">40</text>
<line x1="1295.5" y1="969.7" x2="1295.5" y2="974.7" stroke="#231815" stroke-width="1.1"/>
<text x="1295.5" y="990.9" font-size="15" text-anchor="middle" fill="#231815" stroke="#231815" stroke-width="0.5" textLength="19.5" lengthAdjust="spacingAndGlyphs">50</text>
<line x1="810.1" y1="747.0" x2="814.9" y2="747.0" stroke="#231815" stroke-width="1.1"/>
<text x="805.8" y="745.0" font-size="10" text-anchor="end" fill="#231815" stroke="#231815" stroke-width="0.35" textLength="13.0" lengthAdjust="spacingAndGlyphs">-2</text>
<text x="790.7" y="754.6" font-size="14.5" text-anchor="end" fill="#231815" stroke="#231815" stroke-width="0.5" textLength="17.6" lengthAdjust="spacingAndGlyphs">10</text>
<line x1="810.1" y1="774.4" x2="814.9" y2="774.4" stroke="#231815" stroke-width="1.1"/>
<text x="805.8" y="772.4" font-size="10" text-anchor="end" fill="#231815" stroke="#231815" stroke-width="0.35" textLength="13.0" lengthAdjust="spacingAndGlyphs">-3</text>
<text x="790.7" y="782.4" font-size="14.5" text-anchor="end" fill="#231815" stroke="#231815" stroke-width="0.5" textLength="38.7" lengthAdjust="spacingAndGlyphs">9x10</text>
<line x1="810.1" y1="805.1" x2="814.9" y2="805.1" stroke="#231815" stroke-width="1.1"/>
<text x="805.8" y="803.1" font-size="10" text-anchor="end" fill="#231815" stroke="#231815" stroke-width="0.35">3</text>
<text x="790.7" y="813.1" font-size="14.5" text-anchor="end" fill="#231815" stroke="#231815" stroke-width="0.5" textLength="38.7" lengthAdjust="spacingAndGlyphs">8x10</text>
<line x1="810.1" y1="839.8" x2="814.9" y2="839.8" stroke="#231815" stroke-width="1.1"/>
<text x="805.8" y="837.8" font-size="10" text-anchor="end" fill="#231815" stroke="#231815" stroke-width="0.35" textLength="13.0" lengthAdjust="spacingAndGlyphs">-3</text>
<text x="790.7" y="847.8" font-size="14.5" text-anchor="end" fill="#231815" stroke="#231815" stroke-width="0.5" textLength="38.7" lengthAdjust="spacingAndGlyphs">7x10</text>
<line x1="810.1" y1="880.0" x2="814.9" y2="880.0" stroke="#231815" stroke-width="1.1"/>
<text x="805.8" y="878.0" font-size="10" text-anchor="end" fill="#231815" stroke="#231815" stroke-width="0.35" textLength="13.0" lengthAdjust="spacingAndGlyphs">-3</text>
<text x="790.7" y="888.0" font-size="14.5" text-anchor="end" fill="#231815" stroke="#231815" stroke-width="0.5" textLength="38.7" lengthAdjust="spacingAndGlyphs">6x10</text>
<line x1="810.1" y1="927.4" x2="814.9" y2="927.4" stroke="#231815" stroke-width="1.1"/>
<text x="805.8" y="925.4" font-size="10" text-anchor="end" fill="#231815" stroke="#231815" stroke-width="0.35">3</text>
<text x="790.7" y="935.4" font-size="14.5" text-anchor="end" fill="#231815" stroke="#231815" stroke-width="0.5" textLength="38.7" lengthAdjust="spacingAndGlyphs">5x10</text>
<text x="1061.3" y="715.0" font-size="16.67" text-anchor="middle" fill="#231815" stroke="#231815" stroke-width="0.5" textLength="105.3" lengthAdjust="spacingAndGlyphs">LR Schedule</text>
<text x="1061.4" y="1010.9" font-size="18" text-anchor="middle" fill="#231815" stroke="#231815" stroke-width="0.5" textLength="61.6" lengthAdjust="spacingAndGlyphs">Epochs</text>
<text x="737.0" y="854.8" font-size="18" text-anchor="middle" fill="#231815" stroke="#231815" stroke-width="0.5" textLength="117.8" lengthAdjust="spacingAndGlyphs" transform="rotate(-90 737.0 854.8)">Learning Rate</text>
<line x1="852" y1="733" x2="841.5" y2="741.5" stroke="#34495E" stroke-width="1.5"/>
<rect x="843.2" y="710.4" width="36.39999999999998" height="22.300000000000068" rx="2.5" fill="#F8FF00" stroke="#2a2020" stroke-width="1.4"/>
<text x="861.4" y="726.8" font-size="15" text-anchor="middle" fill="#231815" stroke="#231815" stroke-width="0.6" textLength="27.8" lengthAdjust="spacingAndGlyphs">1e-3</text>
<line x1="1035.5" y1="944.6" x2="1024.3" y2="953.5" stroke="#34495E" stroke-width="1.5"/>
<rect x="1026.7" y="922.0" width="36.59999999999991" height="22.399999999999977" rx="2.5" fill="#F8FF00" stroke="#2a2020" stroke-width="1.4"/>
<text x="1045.0" y="938.5" font-size="15" text-anchor="middle" fill="#231815" stroke="#231815" stroke-width="0.6" textLength="27.3" lengthAdjust="spacingAndGlyphs">5e-4</text></svg></body></html>
